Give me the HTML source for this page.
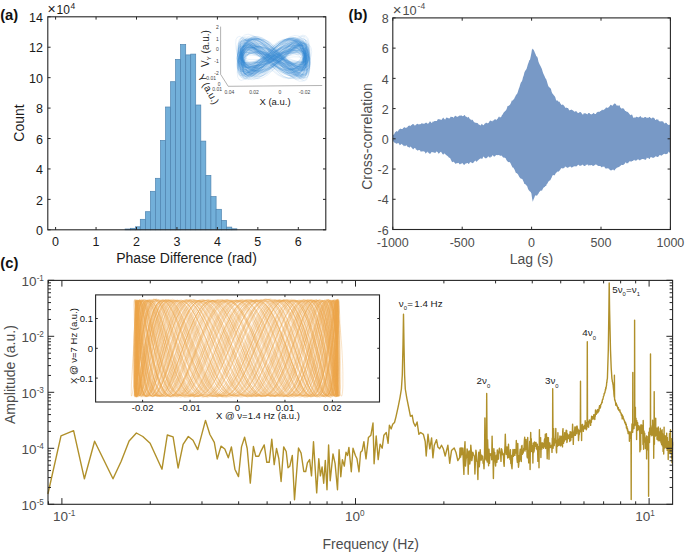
<!DOCTYPE html>
<html><head><meta charset="utf-8"><style>html,body{margin:0;padding:0;background:#fff;overflow:hidden}svg{display:block}</style></head>
<body><svg width="685" height="553" viewBox="0 0 685 553" font-family="Liberation Sans, sans-serif"><rect x="125.10" y="229.00" width="5.30" height="0.80" fill="#72afd9" stroke="#4f84b0" stroke-width="0.7"/>
<rect x="130.40" y="228.30" width="5.00" height="1.50" fill="#72afd9" stroke="#4f84b0" stroke-width="0.7"/>
<rect x="135.40" y="226.80" width="4.90" height="3.00" fill="#72afd9" stroke="#4f84b0" stroke-width="0.7"/>
<rect x="140.30" y="219.30" width="5.10" height="10.50" fill="#72afd9" stroke="#4f84b0" stroke-width="0.7"/>
<rect x="145.40" y="211.70" width="5.00" height="18.10" fill="#72afd9" stroke="#4f84b0" stroke-width="0.7"/>
<rect x="150.40" y="191.30" width="5.10" height="38.50" fill="#72afd9" stroke="#4f84b0" stroke-width="0.7"/>
<rect x="155.50" y="178.30" width="5.00" height="51.50" fill="#72afd9" stroke="#4f84b0" stroke-width="0.7"/>
<rect x="160.50" y="140.40" width="5.10" height="89.40" fill="#72afd9" stroke="#4f84b0" stroke-width="0.7"/>
<rect x="165.60" y="107.00" width="5.00" height="122.80" fill="#72afd9" stroke="#4f84b0" stroke-width="0.7"/>
<rect x="170.60" y="81.70" width="5.00" height="148.10" fill="#72afd9" stroke="#4f84b0" stroke-width="0.7"/>
<rect x="175.60" y="59.40" width="5.00" height="170.40" fill="#72afd9" stroke="#4f84b0" stroke-width="0.7"/>
<rect x="180.60" y="44.50" width="5.10" height="185.30" fill="#72afd9" stroke="#4f84b0" stroke-width="0.7"/>
<rect x="185.70" y="54.90" width="5.00" height="174.90" fill="#72afd9" stroke="#4f84b0" stroke-width="0.7"/>
<rect x="190.70" y="54.10" width="5.00" height="175.70" fill="#72afd9" stroke="#4f84b0" stroke-width="0.7"/>
<rect x="195.70" y="105.00" width="5.10" height="124.80" fill="#72afd9" stroke="#4f84b0" stroke-width="0.7"/>
<rect x="200.80" y="141.10" width="5.00" height="88.70" fill="#72afd9" stroke="#4f84b0" stroke-width="0.7"/>
<rect x="205.80" y="175.40" width="5.10" height="54.40" fill="#72afd9" stroke="#4f84b0" stroke-width="0.7"/>
<rect x="210.90" y="196.60" width="5.20" height="33.20" fill="#72afd9" stroke="#4f84b0" stroke-width="0.7"/>
<rect x="216.10" y="209.30" width="5.30" height="20.50" fill="#72afd9" stroke="#4f84b0" stroke-width="0.7"/>
<rect x="221.40" y="220.40" width="5.10" height="9.40" fill="#72afd9" stroke="#4f84b0" stroke-width="0.7"/>
<rect x="226.50" y="227.10" width="5.30" height="2.70" fill="#72afd9" stroke="#4f84b0" stroke-width="0.7"/>
<rect x="231.80" y="228.80" width="5.10" height="1.00" fill="#72afd9" stroke="#4f84b0" stroke-width="0.7"/>
<rect x="47.8" y="16.8" width="278.0" height="213.0" fill="none" stroke="#262626" stroke-width="1.1"/>
<line x1="55.60" y1="229.80" x2="55.60" y2="227.00" stroke="#262626" stroke-width="1"/>
<line x1="55.60" y1="16.80" x2="55.60" y2="19.60" stroke="#262626" stroke-width="1"/>
<text x="55.60" y="245.80" font-size="12.5" text-anchor="middle" fill="#1a1a1a" >0</text>
<line x1="96.05" y1="229.80" x2="96.05" y2="227.00" stroke="#262626" stroke-width="1"/>
<line x1="96.05" y1="16.80" x2="96.05" y2="19.60" stroke="#262626" stroke-width="1"/>
<text x="96.05" y="245.80" font-size="12.5" text-anchor="middle" fill="#1a1a1a" >1</text>
<line x1="136.50" y1="229.80" x2="136.50" y2="227.00" stroke="#262626" stroke-width="1"/>
<line x1="136.50" y1="16.80" x2="136.50" y2="19.60" stroke="#262626" stroke-width="1"/>
<text x="136.50" y="245.80" font-size="12.5" text-anchor="middle" fill="#1a1a1a" >2</text>
<line x1="176.95" y1="229.80" x2="176.95" y2="227.00" stroke="#262626" stroke-width="1"/>
<line x1="176.95" y1="16.80" x2="176.95" y2="19.60" stroke="#262626" stroke-width="1"/>
<text x="176.95" y="245.80" font-size="12.5" text-anchor="middle" fill="#1a1a1a" >3</text>
<line x1="217.40" y1="229.80" x2="217.40" y2="227.00" stroke="#262626" stroke-width="1"/>
<line x1="217.40" y1="16.80" x2="217.40" y2="19.60" stroke="#262626" stroke-width="1"/>
<text x="217.40" y="245.80" font-size="12.5" text-anchor="middle" fill="#1a1a1a" >4</text>
<line x1="257.85" y1="229.80" x2="257.85" y2="227.00" stroke="#262626" stroke-width="1"/>
<line x1="257.85" y1="16.80" x2="257.85" y2="19.60" stroke="#262626" stroke-width="1"/>
<text x="257.85" y="245.80" font-size="12.5" text-anchor="middle" fill="#1a1a1a" >5</text>
<line x1="298.30" y1="229.80" x2="298.30" y2="227.00" stroke="#262626" stroke-width="1"/>
<line x1="298.30" y1="16.80" x2="298.30" y2="19.60" stroke="#262626" stroke-width="1"/>
<text x="298.30" y="245.80" font-size="12.5" text-anchor="middle" fill="#1a1a1a" >6</text>
<line x1="47.80" y1="229.80" x2="50.60" y2="229.80" stroke="#262626" stroke-width="1"/>
<line x1="325.80" y1="229.80" x2="323.00" y2="229.80" stroke="#262626" stroke-width="1"/>
<text x="43.00" y="235.00" font-size="12.5" text-anchor="end" fill="#1a1a1a" >0</text>
<line x1="47.80" y1="199.37" x2="50.60" y2="199.37" stroke="#262626" stroke-width="1"/>
<line x1="325.80" y1="199.37" x2="323.00" y2="199.37" stroke="#262626" stroke-width="1"/>
<text x="43.00" y="204.57" font-size="12.5" text-anchor="end" fill="#1a1a1a" >2</text>
<line x1="47.80" y1="168.94" x2="50.60" y2="168.94" stroke="#262626" stroke-width="1"/>
<line x1="325.80" y1="168.94" x2="323.00" y2="168.94" stroke="#262626" stroke-width="1"/>
<text x="43.00" y="174.14" font-size="12.5" text-anchor="end" fill="#1a1a1a" >4</text>
<line x1="47.80" y1="138.52" x2="50.60" y2="138.52" stroke="#262626" stroke-width="1"/>
<line x1="325.80" y1="138.52" x2="323.00" y2="138.52" stroke="#262626" stroke-width="1"/>
<text x="43.00" y="143.72" font-size="12.5" text-anchor="end" fill="#1a1a1a" >6</text>
<line x1="47.80" y1="108.09" x2="50.60" y2="108.09" stroke="#262626" stroke-width="1"/>
<line x1="325.80" y1="108.09" x2="323.00" y2="108.09" stroke="#262626" stroke-width="1"/>
<text x="43.00" y="113.29" font-size="12.5" text-anchor="end" fill="#1a1a1a" >8</text>
<line x1="47.80" y1="77.66" x2="50.60" y2="77.66" stroke="#262626" stroke-width="1"/>
<line x1="325.80" y1="77.66" x2="323.00" y2="77.66" stroke="#262626" stroke-width="1"/>
<text x="43.00" y="82.86" font-size="12.5" text-anchor="end" fill="#1a1a1a" >10</text>
<line x1="47.80" y1="47.23" x2="50.60" y2="47.23" stroke="#262626" stroke-width="1"/>
<line x1="325.80" y1="47.23" x2="323.00" y2="47.23" stroke="#262626" stroke-width="1"/>
<text x="43.00" y="52.43" font-size="12.5" text-anchor="end" fill="#1a1a1a" >12</text>
<line x1="47.80" y1="16.80" x2="50.60" y2="16.80" stroke="#262626" stroke-width="1"/>
<line x1="325.80" y1="16.80" x2="323.00" y2="16.80" stroke="#262626" stroke-width="1"/>
<text x="43.00" y="22.00" font-size="12.5" text-anchor="end" fill="#1a1a1a" >14</text>
<text x="47.40" y="13.60" font-size="14" fill="#1a1a1a" >×</text>
<text x="56.60" y="13.80" font-size="12" fill="#1a1a1a" >10</text>
<text x="70.60" y="8.60" font-size="8.5" fill="#1a1a1a" >4</text>
<text x="186.50" y="262.70" font-size="14" text-anchor="middle" fill="#1a1a1a" >Phase Difference (rad)</text>
<text x="23.80" y="123.00" font-size="14" text-anchor="middle" fill="#1a1a1a" transform="rotate(-90 23.8 123)">Count</text>
<text x="0.20" y="19.70" font-size="14.8" fill="#111" font-weight="bold" >(a)</text>
<path d="M274.4 56.1 279.5 53.5 284.4 51.2 289.2 49.6 293.5 48.9 297.4 49 300.7 49.9 303.4 51.7 305.3 54 306.5 56.7 306.9 59.6 306.5 62.2 305.3 64.4 303.4 65.9 300.7 66.7 297.4 66.6 293.5 65.6 289.2 63.9 284.4 61.6 279.5 58.9 274.4 56.1 269.3 53.6 264.3 51.4 259.6 50 255.3 49.3 251.4 49.5 248.1 50.5 245.4 52.4 243.4 54.7 242.2 57.5 241.8 60.3 242.2 62.9 243.4 65.1 245.4 66.6 248.1 67.3 251.4 67.1 255.3 66.1 259.6 64.2 264.3 61.8 269.3 59 274.4 56.1" fill="none" stroke="#3585cf" stroke-width="0.5" stroke-opacity="0.22" stroke-linejoin="round"/>
<path d="M273.7 58.5 279 56.6 284.1 55 289 53.6 293.5 52.6 297.5 52.2 300.9 52.3 303.7 53 305.7 54.3 306.9 55.8 307.3 57.7 306.9 59.5 305.7 61.3 303.7 62.7 300.9 63.7 297.5 64.1 293.5 64 289 63.2 284.1 62 279 60.3 273.7 58.5 268.4 56.6 263.3 54.8 258.4 53.3 253.9 52.2 249.9 51.7 246.5 51.8 243.7 52.5 241.7 53.7 240.5 55.2 240.1 57 240.5 58.9 241.7 60.7 243.7 62.1 246.5 63.2 249.9 63.7 253.9 63.6 258.4 62.9 263.3 61.8 268.4 60.2 273.7 58.5" fill="none" stroke="#3585cf" stroke-width="0.5" stroke-opacity="0.22" stroke-linejoin="round"/>
<path d="M273.7 68.1 278.9 63 283.9 57.4 288.7 52.1 293.2 47.4 297.1 44 300.5 42.1 303.2 41.9 305.2 43.5 306.4 46.8 306.8 51.3 306.4 56.8 305.2 62.6 303.2 68.1 300.5 72.9 297.1 76.4 293.2 78.2 288.7 78.3 283.9 76.5 278.9 73 273.7 68.1 268.5 62.3 263.4 56.2 258.6 50.2 254.2 45 250.3 41.1 246.9 38.7 244.2 38.2 242.2 39.6 241 42.7 240.5 47.2 241 52.7 242.2 58.7 244.2 64.4 246.9 69.5 250.3 73.5 254.2 75.8 258.6 76.4 263.4 75.2 268.5 72.4 273.7 68.1" fill="none" stroke="#3585cf" stroke-width="0.5" stroke-opacity="0.22" stroke-linejoin="round"/>
<path d="M273.2 70 278.3 64.2 283.4 57.8 288.1 51.4 292.5 45.6 296.5 40.9 299.8 37.9 302.5 36.8 304.5 37.7 305.7 40.5 306.1 44.9 305.7 50.6 304.5 56.9 302.5 63.2 299.8 69 296.5 73.6 292.5 76.6 288.1 77.8 283.4 77 278.3 74.3 273.2 70 268 64.6 263 58.5 258.2 52.4 253.8 46.8 249.8 42.4 246.5 39.6 243.8 38.7 241.8 39.7 240.6 42.6 240.2 47.1 240.6 52.7 241.8 58.9 243.8 65.1 246.5 70.7 249.8 75.1 253.8 77.9 258.2 78.8 263 77.7 268 74.7 273.2 70" fill="none" stroke="#3585cf" stroke-width="0.5" stroke-opacity="0.22" stroke-linejoin="round"/>
<path d="M273.7 59.3 278.6 56.5 283.4 53.6 288 51.1 292.2 49.1 296 47.8 299.2 47.3 301.8 47.7 303.7 48.8 304.8 50.7 305.2 53 304.8 55.6 303.7 58.2 301.8 60.5 299.2 62.4 296 63.7 292.2 64.2 288 64 283.4 63 278.6 61.4 273.7 59.3 268.8 57.1 264 54.8 259.4 52.9 255.2 51.4 251.4 50.6 248.2 50.5 245.6 51.2 243.7 52.6 242.6 54.5 242.2 56.9 242.6 59.5 243.7 61.9 245.6 64 248.2 65.6 251.4 66.5 255.2 66.5 259.4 65.7 264 64.2 268.8 62 273.7 59.3" fill="none" stroke="#3585cf" stroke-width="0.5" stroke-opacity="0.22" stroke-linejoin="round"/>
<path d="M272.9 67 278.1 62.7 283.1 58 287.8 53.3 292.2 49 296.2 45.7 299.5 43.6 302.2 43 304.2 43.8 305.4 46.1 305.8 49.6 305.4 54 304.2 58.7 302.2 63.5 299.5 67.7 296.2 71.1 292.2 73.1 287.8 73.8 283.1 72.9 278.1 70.5 272.9 67 267.8 62.6 262.8 57.7 258 52.9 253.6 48.6 249.7 45.1 246.4 43 243.7 42.3 241.7 43.1 240.5 45.3 240.1 48.8 240.5 53.2 241.7 58 243.7 62.8 246.4 67.1 249.7 70.5 253.6 72.7 258 73.4 262.8 72.6 267.8 70.4 272.9 67" fill="none" stroke="#3585cf" stroke-width="0.5" stroke-opacity="0.22" stroke-linejoin="round"/>
<path d="M272.7 60.7 278.2 56.3 283.4 51.9 288.5 48 293.1 45 297.2 43.1 300.8 42.6 303.6 43.4 305.7 45.5 307 48.7 307.4 52.6 307 57 305.7 61.2 303.6 65 300.8 68 297.2 69.9 293.1 70.4 288.5 69.6 283.4 67.6 278.2 64.5 272.7 60.7 267.3 56.6 262 52.5 257 48.8 252.4 46.1 248.3 44.4 244.7 44.1 241.9 45.1 239.8 47.3 238.5 50.6 238.1 54.5 238.5 58.8 239.8 63 241.9 66.7 244.7 69.5 248.3 71.2 252.4 71.5 257 70.5 262 68.2 267.3 64.8 272.7 60.7" fill="none" stroke="#3585cf" stroke-width="0.5" stroke-opacity="0.22" stroke-linejoin="round"/>
<path d="M274.9 54.9 280.3 51.5 285.6 48.5 290.6 46.3 295.3 45 299.4 44.8 303 45.6 305.8 47.4 307.9 50 309.2 53.2 309.6 56.6 309.2 59.9 307.9 62.7 305.8 64.9 303 66.2 299.4 66.4 295.3 65.6 290.6 63.8 285.6 61.3 280.3 58.2 274.9 54.9 269.4 51.7 264.1 48.9 259.1 46.8 254.4 45.7 250.3 45.6 246.7 46.5 243.9 48.4 241.8 51.1 240.5 54.3 240.1 57.7 240.5 61 241.8 63.8 243.9 65.9 246.7 67.1 250.3 67.2 254.4 66.3 259.1 64.3 264.1 61.6 269.4 58.3 274.9 54.9" fill="none" stroke="#3585cf" stroke-width="0.5" stroke-opacity="0.22" stroke-linejoin="round"/>
<path d="M274.1 50.9 279.6 48.4 284.9 46.9 290 46.5 294.6 47.3 298.8 49.1 302.4 51.8 305.2 55.1 307.3 58.7 308.6 62.3 309 65.5 308.6 67.9 307.3 69.4 305.2 69.9 302.4 69.1 298.8 67.3 294.6 64.6 290 61.3 284.9 57.7 279.6 54.1 274.1 50.9 268.7 48.4 263.3 46.9 258.3 46.5 253.6 47.2 249.4 49 245.9 51.7 243 55 240.9 58.6 239.6 62.2 239.2 65.4 239.6 67.8 240.9 69.4 243 69.8 245.9 69 249.4 67.3 253.6 64.6 258.3 61.3 263.3 57.6 268.7 54.1 274.1 50.9" fill="none" stroke="#3585cf" stroke-width="0.5" stroke-opacity="0.22" stroke-linejoin="round"/>
<path d="M273 56.3 278.3 54.2 283.4 52.4 288.3 51.1 292.7 50.4 296.7 50.3 300.2 50.8 302.9 51.8 304.9 53.3 306.1 55.1 306.6 56.9 306.1 58.7 304.9 60.2 302.9 61.3 300.2 62 296.7 62 292.7 61.6 288.3 60.6 283.4 59.3 278.3 57.8 273 56.3 267.8 54.9 262.7 53.8 257.8 53.1 253.3 52.9 249.3 53.3 245.9 54.3 243.2 55.7 241.2 57.4 239.9 59.4 239.5 61.3 239.9 63 241.2 64.4 243.2 65.2 245.9 65.5 249.3 65.1 253.3 64.1 257.8 62.6 262.7 60.7 267.8 58.5 273 56.3" fill="none" stroke="#3585cf" stroke-width="0.5" stroke-opacity="0.22" stroke-linejoin="round"/>
<path d="M272.6 53.7 278.2 49.8 283.7 46.5 288.9 44.2 293.7 43 297.9 43 301.6 44.3 304.5 46.6 306.6 49.7 308 53.3 308.4 57 308 60.5 306.6 63.4 304.5 65.4 301.6 66.4 297.9 66.3 293.7 65.1 288.9 63 283.7 60.2 278.2 57 272.6 53.7 267 50.8 261.6 48.5 256.4 47.2 251.6 46.9 247.3 47.7 243.7 49.6 240.8 52.4 238.6 55.9 237.3 59.8 236.9 63.6 237.3 67 238.6 69.6 240.8 71.3 243.7 71.8 247.3 71 251.6 69 256.4 66 261.6 62.2 267 58 272.6 53.7" fill="none" stroke="#3585cf" stroke-width="0.5" stroke-opacity="0.22" stroke-linejoin="round"/>
<path d="M273.9 55.5 279.6 51.4 285.1 48.1 290.3 45.9 295.2 44.9 299.5 45.4 303.2 47.2 306.2 50.2 308.3 54.1 309.6 58.6 310.1 63.1 309.6 67.3 308.3 70.7 306.2 73.1 303.2 74.1 299.5 73.6 295.2 71.8 290.3 68.7 285.1 64.7 279.6 60.1 273.9 55.5 268.3 51.1 262.7 47.5 257.5 44.9 252.7 43.7 248.3 43.9 244.6 45.5 241.7 48.3 239.5 52.1 238.2 56.5 237.7 61 238.2 65.2 239.5 68.7 241.7 71.2 244.6 72.4 248.3 72.1 252.7 70.5 257.5 67.8 262.7 64.1 268.3 59.8 273.9 55.5" fill="none" stroke="#3585cf" stroke-width="0.5" stroke-opacity="0.22" stroke-linejoin="round"/>
<path d="M273.3 49.5 278.7 44.2 284 40.3 289 38.2 293.6 38 297.7 39.9 301.2 43.5 304 48.6 306.1 54.6 307.3 61 307.8 67.1 307.3 72.3 306.1 76.2 304 78.3 301.2 78.5 297.7 76.6 293.6 73 289 67.9 284 61.9 278.7 55.6 273.3 49.5 267.9 44.3 262.7 40.4 257.7 38.3 253.1 38.2 249 40.1 245.5 43.8 242.6 48.9 240.6 54.9 239.3 61.3 238.9 67.5 239.3 72.7 240.6 76.6 242.6 78.6 245.5 78.8 249 76.9 253.1 73.2 257.7 68.1 262.7 62 267.9 55.6 273.3 49.5" fill="none" stroke="#3585cf" stroke-width="0.5" stroke-opacity="0.22" stroke-linejoin="round"/>
<path d="M273.4 63.7 278.6 61.1 283.7 58.3 288.5 55.6 293 53.3 296.9 51.5 300.3 50.6 303.1 50.4 305.1 51.2 306.3 52.8 306.7 55.1 306.3 57.8 305.1 60.7 303.1 63.5 300.3 65.9 296.9 67.7 293 68.6 288.5 68.7 283.7 67.8 278.6 66.1 273.4 63.7 268.1 60.8 263 57.7 258.2 54.7 253.7 52.1 249.8 50.1 246.4 48.9 243.6 48.6 241.6 49.3 240.4 50.8 240 53 240.4 55.8 241.6 58.8 243.6 61.7 246.4 64.2 249.8 66.2 253.7 67.4 258.2 67.8 263 67.2 268.1 65.8 273.4 63.7" fill="none" stroke="#3585cf" stroke-width="0.5" stroke-opacity="0.22" stroke-linejoin="round"/>
<path d="M273.7 59 278.6 55.3 283.4 51.8 288 48.7 292.2 46.5 295.9 45.2 299.1 45 301.7 46 303.6 47.9 304.8 50.6 305.1 53.8 304.8 57.3 303.6 60.6 301.7 63.5 299.1 65.6 295.9 66.9 292.2 67.1 288 66.2 283.4 64.5 278.6 62 273.7 59 268.8 55.9 264 52.9 259.5 50.4 255.3 48.7 251.5 47.9 248.3 48.1 245.7 49.3 243.8 51.4 242.7 54.3 242.3 57.6 242.7 61 243.8 64.2 245.7 66.8 248.3 68.7 251.5 69.5 255.3 69.3 259.5 68 264 65.7 268.8 62.6 273.7 59" fill="none" stroke="#3585cf" stroke-width="0.5" stroke-opacity="0.22" stroke-linejoin="round"/>
<path d="M273.8 48.4 279.4 44 284.9 41.1 290.1 39.8 294.9 40.2 299.1 42.5 302.8 46.3 305.7 51.3 307.9 57 309.2 62.9 309.6 68.4 309.2 72.9 307.9 76.1 305.7 77.6 302.8 77.2 299.1 75 294.9 71.2 290.1 66.1 284.9 60.2 279.4 54.1 273.8 48.4 268.2 43.5 262.7 40 257.6 38.1 252.8 38.1 248.5 39.9 244.8 43.3 241.9 48 239.8 53.5 238.4 59.3 238 64.7 238.4 69.3 239.8 72.7 241.9 74.4 244.8 74.3 248.5 72.4 252.8 69.1 257.6 64.5 262.7 59.1 268.2 53.5 273.8 48.4" fill="none" stroke="#3585cf" stroke-width="0.5" stroke-opacity="0.22" stroke-linejoin="round"/>
<path d="M273.8 46.4 278.9 42.2 283.9 39.6 288.7 38.7 293 39.8 297 42.6 300.3 46.9 303 52.4 304.9 58.4 306.1 64.3 306.5 69.7 306.1 73.9 304.9 76.6 303 77.5 300.3 76.4 297 73.6 293 69.3 288.7 63.8 283.9 57.8 278.9 51.8 273.8 46.4 268.7 42.2 263.7 39.5 258.9 38.6 254.5 39.6 250.6 42.4 247.3 46.7 244.6 52.1 242.6 58.1 241.4 64.1 241 69.4 241.4 73.7 242.6 76.3 244.6 77.2 247.3 76.2 250.6 73.4 254.5 69.1 258.9 63.7 263.7 57.7 268.7 51.8 273.8 46.4" fill="none" stroke="#3585cf" stroke-width="0.5" stroke-opacity="0.22" stroke-linejoin="round"/>
<path d="M274.1 63.7 279.3 58.7 284.4 53.8 289.3 49.3 293.8 45.7 297.8 43.3 301.2 42.5 303.9 43.2 305.9 45.4 307.2 48.8 307.6 53.3 307.2 58.2 305.9 63.1 303.9 67.6 301.2 71.2 297.8 73.6 293.8 74.5 289.3 73.8 284.4 71.6 279.3 68.1 274.1 63.7 268.8 58.7 263.7 53.7 258.9 49.2 254.4 45.6 250.4 43.3 247 42.4 244.2 43.1 242.2 45.3 241 48.7 240.6 53.2 241 58.1 242.2 63.1 244.2 67.6 247 71.2 250.4 73.5 254.4 74.4 258.9 73.7 263.7 71.5 268.8 68.1 274.1 63.7" fill="none" stroke="#3585cf" stroke-width="0.5" stroke-opacity="0.22" stroke-linejoin="round"/>
<path d="M273.1 47.4 278.3 43.6 283.3 41.2 288 40.2 292.4 40.7 296.4 42.8 299.7 46.1 302.4 50.3 304.4 55.1 305.6 59.9 306 64.2 305.6 67.7 304.4 70 302.4 70.8 299.7 70.2 296.4 68.1 292.4 64.8 288 60.6 283.3 56 278.3 51.5 273.1 47.4 268 44.2 263 42.3 258.2 41.8 253.9 42.9 249.9 45.3 246.6 49 243.9 53.6 241.9 58.5 240.7 63.5 240.3 67.8 240.7 71.3 241.9 73.4 243.9 74 246.6 73.1 249.9 70.7 253.9 66.9 258.2 62.3 263 57.2 268 52 273.1 47.4" fill="none" stroke="#3585cf" stroke-width="0.5" stroke-opacity="0.22" stroke-linejoin="round"/>
<path d="M272.7 51.2 277.5 45.6 282.3 41.4 286.8 38.8 290.9 38 294.6 39.2 297.8 42.2 300.3 46.7 302.2 52.2 303.3 58.2 303.7 64.1 303.3 69.3 302.2 73.4 300.3 75.8 297.8 76.5 294.6 75.2 290.9 72.3 286.8 67.9 282.3 62.6 277.5 56.8 272.7 51.2 267.8 46.3 263.1 42.6 258.6 40.5 254.5 40.3 250.8 42 247.6 45.4 245.1 50.2 243.2 55.9 242.1 62.1 241.7 68 242.1 73.2 243.2 77.1 245.1 79.3 247.6 79.6 250.8 78 254.5 74.6 258.6 69.7 263.1 63.8 267.8 57.4 272.7 51.2" fill="none" stroke="#3585cf" stroke-width="0.5" stroke-opacity="0.22" stroke-linejoin="round"/>
<path d="M273.3 64.5 278.5 60.7 283.5 56.7 288.3 52.8 292.7 49.3 296.6 46.7 300 45.2 302.7 44.9 304.6 45.9 305.9 48.1 306.3 51.3 305.9 55.2 304.6 59.3 302.7 63.4 300 66.9 296.6 69.5 292.7 71 288.3 71.2 283.5 70.1 278.5 67.8 273.3 64.5 268.2 60.4 263.1 56.1 258.3 51.8 253.9 48.1 250 45.2 246.7 43.5 243.9 43.1 242 44 240.8 46.1 240.4 49.3 240.8 53.2 242 57.4 243.9 61.5 246.7 65.2 250 68.1 253.9 69.8 258.3 70.3 263.1 69.5 268.2 67.5 273.3 64.5" fill="none" stroke="#3585cf" stroke-width="0.5" stroke-opacity="0.22" stroke-linejoin="round"/>
<path d="M273.7 65.4 278.7 61.9 283.5 58 288.1 54.2 292.3 50.7 296.1 47.9 299.3 46.1 301.9 45.5 303.8 46.2 304.9 47.9 305.3 50.7 304.9 54.2 303.8 58.1 301.9 62 299.3 65.4 296.1 68.2 292.3 70 288.1 70.6 283.5 70 278.7 68.2 273.7 65.4 268.8 61.9 264 58 259.4 54.2 255.1 50.7 251.4 47.9 248.2 46.1 245.6 45.5 243.7 46.2 242.5 47.9 242.1 50.7 242.5 54.2 243.7 58.1 245.6 61.9 248.2 65.4 251.4 68.2 255.1 70 259.4 70.6 264 70 268.8 68.2 273.7 65.4" fill="none" stroke="#3585cf" stroke-width="0.5" stroke-opacity="0.22" stroke-linejoin="round"/>
<path d="M274.3 64.8 279.2 61.3 283.9 57.5 288.5 53.6 292.6 50 296.4 47.2 299.6 45.3 302.1 44.6 304 45.1 305.1 46.8 305.5 49.6 305.1 53.1 304 57 302.1 61 299.6 64.6 296.4 67.5 292.6 69.3 288.5 70 283.9 69.4 279.2 67.6 274.3 64.8 269.4 61.1 264.6 57.1 260.1 53 255.9 49.2 252.2 46.2 249 44.1 246.4 43.3 244.6 43.7 243.4 45.4 243 48.2 243.4 51.7 244.6 55.7 246.4 59.7 249 63.4 252.2 66.5 255.9 68.5 260.1 69.4 264.6 69 269.4 67.4 274.3 64.8" fill="none" stroke="#3585cf" stroke-width="0.5" stroke-opacity="0.22" stroke-linejoin="round"/>
<path d="M274 65.6 279.1 61.2 284.1 56.5 288.8 52 293.2 48 297.1 45 300.4 43.1 303.1 42.5 305.1 43.3 306.3 45.3 306.7 48.4 306.3 52.2 305.1 56.4 303.1 60.5 300.4 64.3 297.1 67.2 293.2 69.2 288.8 70 284.1 69.6 279.1 68 274 65.6 268.9 62.5 263.9 59.1 259.1 55.8 254.8 52.9 250.9 50.9 247.5 49.9 244.9 50 242.9 51.2 241.7 53.6 241.3 56.8 241.7 60.5 242.9 64.3 244.9 68 247.5 71.1 250.9 73.2 254.8 74.1 259.1 73.8 263.9 72.2 268.9 69.3 274 65.6" fill="none" stroke="#3585cf" stroke-width="0.5" stroke-opacity="0.22" stroke-linejoin="round"/>
<path d="M274.1 66.1 279.3 61.8 284.4 57.2 289.2 52.7 293.7 48.7 297.7 45.6 301.1 43.7 303.8 43.2 305.8 44.1 307.1 46.3 307.5 49.7 307.1 53.9 305.8 58.5 303.8 63 301.1 67 297.7 70.1 293.7 72 289.2 72.5 284.4 71.6 279.3 69.4 274.1 66.1 268.9 61.9 263.8 57.4 258.9 53 254.5 49 250.5 46 247.1 44.2 244.3 43.7 242.3 44.6 241.1 46.9 240.7 50.3 241.1 54.5 242.3 59 244.3 63.5 247.1 67.4 250.5 70.5 254.5 72.3 258.9 72.8 263.8 71.8 268.9 69.5 274.1 66.1" fill="none" stroke="#3585cf" stroke-width="0.5" stroke-opacity="0.22" stroke-linejoin="round"/>
<path d="M275 53.9 279.9 52.7 284.8 51.9 289.3 51.6 293.6 51.8 297.3 52.6 300.6 53.8 303.2 55.3 305.1 57 306.2 58.7 306.6 60.2 306.2 61.5 305.1 62.2 303.2 62.5 300.6 62.3 297.3 61.5 293.6 60.3 289.3 58.8 284.8 57.1 279.9 55.4 275 53.9 270.1 52.7 265.2 52 260.6 51.7 256.4 52 252.7 52.8 249.4 54.1 246.8 55.6 244.9 57.3 243.8 59 243.4 60.6 243.8 61.8 244.9 62.5 246.8 62.8 249.4 62.5 252.7 61.7 256.4 60.5 260.6 58.9 265.2 57.2 270.1 55.5 275 53.9" fill="none" stroke="#3585cf" stroke-width="0.5" stroke-opacity="0.22" stroke-linejoin="round"/>
<path d="M275.1 57.2 280.4 55.4 285.5 53.8 290.4 52.5 295 51.7 299 51.4 302.5 51.7 305.2 52.6 307.3 53.8 308.5 55.4 308.9 57.2 308.5 58.9 307.3 60.5 305.2 61.7 302.5 62.5 299 62.7 295 62.4 290.4 61.6 285.5 60.4 280.4 58.8 275.1 57.2 269.8 55.5 264.6 54 259.7 52.9 255.2 52.2 251.2 52.1 247.7 52.4 244.9 53.3 242.9 54.7 241.7 56.3 241.2 58 241.7 59.8 242.9 61.3 244.9 62.5 247.7 63.2 251.2 63.3 255.2 62.9 259.7 62 264.6 60.7 269.8 59 275.1 57.2" fill="none" stroke="#3585cf" stroke-width="0.5" stroke-opacity="0.22" stroke-linejoin="round"/>
<path d="M272.9 52.8 278 50.2 283 48.1 287.8 46.9 292.2 46.6 296.1 47.1 299.4 48.6 302.1 50.7 304.1 53.4 305.3 56.3 305.7 59.1 305.3 61.7 304.1 63.6 302.1 64.8 299.4 65.1 296.1 64.5 292.2 63.1 287.8 61 283 58.4 278 55.5 272.9 52.8 267.8 50.3 262.8 48.5 258 47.4 253.6 47.2 249.7 48 246.4 49.5 243.7 51.8 241.7 54.5 240.5 57.4 240.1 60.3 240.5 62.8 241.7 64.7 243.7 65.8 246.4 66.1 249.7 65.3 253.6 63.8 258 61.5 262.8 58.7 267.8 55.7 272.9 52.8" fill="none" stroke="#3585cf" stroke-width="0.5" stroke-opacity="0.22" stroke-linejoin="round"/>
<path d="M275.1 53 280.2 50.5 285.1 48.6 289.9 47.6 294.2 47.6 298.1 48.7 301.4 50.6 304.1 53.3 306 56.4 307.2 59.8 307.6 62.9 307.2 65.6 306 67.6 304.1 68.7 301.4 68.7 298.1 67.7 294.2 65.7 289.9 63 285.1 59.8 280.2 56.3 275.1 53 270 50.1 265 48 260.3 46.7 255.9 46.4 252 47.2 248.7 48.9 246 51.4 244.1 54.5 242.9 57.7 242.5 60.8 242.9 63.6 244.1 65.6 246 66.8 248.7 67 252 66.2 255.9 64.5 260.3 62.1 265 59.1 270 56 275.1 53" fill="none" stroke="#3585cf" stroke-width="0.5" stroke-opacity="0.22" stroke-linejoin="round"/>
<path d="M272.1 57.2 277.6 54 282.9 51.2 288 48.9 292.7 47.6 296.8 47.2 300.4 47.8 303.3 49.4 305.4 51.8 306.7 54.8 307.1 58.1 306.7 61.3 305.4 64.2 303.3 66.5 300.4 67.9 296.8 68.3 292.7 67.6 288 66 282.9 63.6 277.6 60.5 272.1 57.2 266.6 53.9 261.3 51 256.2 48.6 251.6 47.2 247.4 46.7 243.8 47.2 240.9 48.8 238.8 51.2 237.6 54.1 237.1 57.4 237.6 60.7 238.8 63.6 240.9 65.9 243.8 67.3 247.4 67.8 251.6 67.2 256.2 65.7 261.3 63.4 266.6 60.4 272.1 57.2" fill="none" stroke="#3585cf" stroke-width="0.5" stroke-opacity="0.22" stroke-linejoin="round"/>
<path d="M272.8 59.5 277.6 55.5 282.3 51.4 286.8 47.6 290.9 44.6 294.6 42.4 297.7 41.4 300.3 41.6 302.1 43 303.2 45.4 303.6 48.5 303.2 52.1 302.1 55.8 300.3 59.2 297.7 62.1 294.6 64.2 290.9 65.2 286.8 65.2 282.3 64.1 277.6 62.2 272.8 59.5 268 56.5 263.3 53.5 258.8 50.7 254.7 48.6 251 47.3 247.9 47 245.3 47.8 243.5 49.5 242.3 52.1 242 55.3 242.3 58.8 243.5 62.3 245.3 65.3 247.9 67.7 251 69 254.7 69.3 258.8 68.3 263.3 66.3 268 63.2 272.8 59.5" fill="none" stroke="#3585cf" stroke-width="0.5" stroke-opacity="0.22" stroke-linejoin="round"/>
<path d="M274.1 61.5 279.8 55.4 285.4 49.6 290.7 44.6 295.5 40.9 299.9 38.9 303.6 38.8 306.6 40.7 308.8 44.3 310.1 49.3 310.5 55.2 310.1 61.5 308.8 67.4 306.6 72.6 303.6 76.3 299.9 78.3 295.5 78.4 290.7 76.4 285.4 72.7 279.8 67.6 274.1 61.5 268.4 55 262.9 48.8 257.6 43.4 252.7 39.4 248.4 37.1 244.6 36.8 241.7 38.4 239.5 41.8 238.1 46.8 237.7 52.6 238.1 58.9 239.5 65 241.7 70.3 244.6 74.2 248.4 76.5 252.7 76.9 257.6 75.3 262.9 71.9 268.4 67.2 274.1 61.5" fill="none" stroke="#3585cf" stroke-width="0.5" stroke-opacity="0.22" stroke-linejoin="round"/>
<path d="M274.7 55 279.7 51.6 284.6 48.7 289.2 46.6 293.4 45.3 297.2 45.1 300.5 45.9 303.1 47.6 305 50.1 306.2 53 306.6 56.2 306.2 59.2 305 61.8 303.1 63.8 300.5 64.9 297.2 65.1 293.4 64.3 289.2 62.7 284.6 60.4 279.7 57.8 274.7 55 269.8 52.3 264.9 50.1 260.3 48.6 256 48 252.2 48.3 249 49.6 246.4 51.7 244.5 54.4 243.3 57.5 242.9 60.7 243.3 63.7 244.5 66.2 246.4 67.8 249 68.6 252.2 68.3 256 67 260.3 64.8 264.9 61.9 269.8 58.5 274.7 55" fill="none" stroke="#3585cf" stroke-width="0.5" stroke-opacity="0.22" stroke-linejoin="round"/>
<path d="M273.6 57.1 279.2 54.7 284.6 52.7 289.7 51.2 294.4 50.4 298.6 50.4 302.2 51.1 305.1 52.4 307.3 54.3 308.5 56.5 309 58.8 308.5 60.9 307.3 62.8 305.1 64.1 302.2 64.8 298.6 64.8 294.4 64.2 289.7 62.9 284.6 61.2 279.2 59.2 273.6 57.1 268.1 55.2 262.7 53.7 257.6 52.7 252.9 52.4 248.7 52.7 245.1 53.8 242.2 55.4 240 57.4 238.8 59.8 238.3 62.1 238.8 64.2 240 65.9 242.2 67.1 245.1 67.5 248.7 67.2 252.9 66.1 257.6 64.4 262.7 62.2 268.1 59.7 273.6 57.1" fill="none" stroke="#3585cf" stroke-width="0.5" stroke-opacity="0.22" stroke-linejoin="round"/>
<path d="M273.7 63.2 279.2 59.1 284.5 54.8 289.6 50.7 294.3 47.3 298.5 44.8 302 43.7 304.9 43.9 307 45.5 308.3 48.3 308.7 52 308.3 56.4 307 60.9 304.9 65.1 302 68.6 298.5 71 294.3 72.2 289.6 71.9 284.5 70.2 279.2 67.2 273.7 63.2 268.2 58.6 262.8 53.9 257.8 49.4 253.1 45.5 248.9 42.8 245.3 41.3 242.5 41.3 240.3 42.7 239.1 45.4 238.6 49.1 239.1 53.5 240.3 58.1 242.5 62.5 245.3 66.2 248.9 69 253.1 70.5 257.8 70.6 262.8 69.3 268.2 66.7 273.7 63.2" fill="none" stroke="#3585cf" stroke-width="0.5" stroke-opacity="0.22" stroke-linejoin="round"/>
<path d="M271.5 49.6 276.6 46.5 281.7 44.4 286.4 43.6 290.9 44.1 294.8 45.9 298.1 48.8 300.9 52.4 302.8 56.5 304 60.7 304.4 64.4 304 67.4 302.8 69.4 300.9 70.1 298.1 69.5 294.8 67.7 290.9 64.9 286.4 61.3 281.7 57.3 276.6 53.2 271.5 49.6 266.3 46.8 261.3 45 256.5 44.5 252.1 45.3 248.2 47.3 244.8 50.4 242.1 54.2 240.1 58.4 238.9 62.6 238.5 66.4 238.9 69.4 240.1 71.3 242.1 71.9 244.8 71.1 248.2 69.1 252.1 66.1 256.5 62.2 261.3 57.9 266.3 53.6 271.5 49.6" fill="none" stroke="#3585cf" stroke-width="0.5" stroke-opacity="0.22" stroke-linejoin="round"/>
<path d="M273.7 52.3 278.6 50.5 283.4 49.4 287.9 49.1 292.1 49.6 295.9 51 299.1 53.1 301.6 55.7 303.5 58.6 304.7 61.4 305.1 64.1 304.7 66.1 303.5 67.5 301.6 68 299.1 67.6 295.9 66.2 292.1 64.1 287.9 61.4 283.4 58.4 278.6 55.2 273.7 52.3 268.7 49.9 264 48.2 259.4 47.3 255.2 47.2 251.5 48.1 248.3 49.8 245.7 52.1 243.8 54.7 242.6 57.4 242.3 60 242.6 62.1 243.8 63.6 245.7 64.4 248.3 64.3 251.5 63.3 255.2 61.7 259.4 59.6 264 57.1 268.7 54.6 273.7 52.3" fill="none" stroke="#3585cf" stroke-width="0.5" stroke-opacity="0.22" stroke-linejoin="round"/>
<path d="M271.5 56.8 276.9 53 282.2 49.6 287.2 47 291.8 45.5 295.9 45.2 299.4 46.1 302.3 48.2 304.3 51.2 305.6 54.8 306 58.8 305.6 62.6 304.3 66 302.3 68.6 299.4 70.2 295.9 70.5 291.8 69.6 287.2 67.5 282.2 64.5 276.9 60.8 271.5 56.8 266.1 52.9 260.9 49.5 255.9 46.8 251.2 45.3 247.1 44.9 243.6 45.7 240.8 47.8 238.7 50.7 237.4 54.4 237 58.3 237.4 62.2 238.7 65.6 240.8 68.2 243.6 69.8 247.1 70.2 251.2 69.3 255.9 67.3 260.9 64.4 266.1 60.7 271.5 56.8" fill="none" stroke="#3585cf" stroke-width="0.5" stroke-opacity="0.22" stroke-linejoin="round"/>
<path d="M274.3 56.6 280 51.9 285.5 47.6 290.8 44.4 295.6 42.5 300 42.2 303.7 43.4 306.7 46.2 308.8 50.2 310.2 55 310.6 60.2 310.2 65.3 308.8 69.8 306.7 73.3 303.7 75.3 300 75.7 295.6 74.4 290.8 71.5 285.5 67.3 280 62.2 274.3 56.6 268.6 51.1 263.1 46.2 257.8 42.3 252.9 39.8 248.6 38.9 244.9 39.6 241.9 42 239.7 45.7 238.4 50.4 238 55.5 238.4 60.7 239.7 65.4 241.9 69.1 244.9 71.5 248.6 72.3 252.9 71.6 257.8 69.4 263.1 65.9 268.6 61.5 274.3 56.6" fill="none" stroke="#3585cf" stroke-width="0.5" stroke-opacity="0.22" stroke-linejoin="round"/>
<path d="M272.4 60.8 277.4 57.7 282.3 54.7 286.9 51.9 291.2 49.8 295 48.6 298.2 48.4 300.8 49.1 302.8 50.9 303.9 53.5 304.3 56.6 303.9 60 302.8 63.3 300.8 66.2 298.2 68.4 295 69.7 291.2 69.9 286.9 69 282.3 67.1 277.4 64.3 272.4 60.8 267.4 57.1 262.6 53.3 257.9 50 253.7 47.3 249.9 45.6 246.6 44.9 244 45.4 242.1 46.9 240.9 49.3 240.5 52.4 240.9 55.8 242.1 59.3 244 62.5 246.6 65 249.9 66.7 253.7 67.4 257.9 67.1 262.6 65.8 267.4 63.6 272.4 60.8" fill="none" stroke="#3585cf" stroke-width="0.5" stroke-opacity="0.22" stroke-linejoin="round"/>
<path d="M274.1 64 279.2 59.6 284.1 55 288.7 50.6 293 46.7 296.9 43.8 300.2 42.1 302.8 41.7 304.7 42.7 305.9 45 306.3 48.4 305.9 52.4 304.7 56.8 302.8 61 300.2 64.8 296.9 67.7 293 69.4 288.7 69.9 284.1 69.1 279.2 67 274.1 64 269.1 60.3 264.2 56.3 259.5 52.5 255.2 49.2 251.4 46.7 248.1 45.4 245.5 45.4 243.5 46.7 242.4 49.1 242 52.5 242.4 56.5 243.5 60.7 245.5 64.7 248.1 68.1 251.4 70.6 255.2 71.9 259.5 71.8 264.2 70.3 269.1 67.7 274.1 64" fill="none" stroke="#3585cf" stroke-width="0.5" stroke-opacity="0.22" stroke-linejoin="round"/>
<path d="M273.8 49 279.4 45.9 284.9 43.7 290.1 42.9 294.9 43.4 299.2 45.1 302.9 48 305.8 51.8 308 56 309.3 60.3 309.7 64.2 309.3 67.4 308 69.5 305.8 70.3 302.9 69.8 299.2 68.1 294.9 65.2 290.1 61.4 284.9 57.2 279.4 52.9 273.8 49 268.2 45.9 262.7 43.7 257.5 42.9 252.6 43.4 248.4 45.2 244.7 48.1 241.8 51.8 239.6 56 238.3 60.3 237.8 64.2 238.3 67.4 239.6 69.5 241.8 70.4 244.7 69.9 248.4 68.1 252.6 65.2 257.5 61.4 262.7 57.2 268.2 52.9 273.8 49" fill="none" stroke="#3585cf" stroke-width="0.5" stroke-opacity="0.22" stroke-linejoin="round"/>
<path d="M273.5 58.1 278.8 56.5 283.9 55 288.8 53.8 293.3 52.9 297.4 52.6 300.8 52.7 303.6 53.4 305.6 54.5 306.8 55.9 307.2 57.5 306.8 59.2 305.6 60.7 303.6 62 300.8 62.8 297.4 63.2 293.3 63 288.8 62.4 283.9 61.2 278.8 59.8 273.5 58.1 268.3 56.4 263.1 54.8 258.2 53.5 253.7 52.6 249.7 52.1 246.3 52.2 243.5 52.8 241.5 53.9 240.2 55.3 239.8 56.9 240.2 58.6 241.5 60.1 243.5 61.4 246.3 62.3 249.7 62.8 253.7 62.7 258.2 62.1 263.1 61.1 268.3 59.7 273.5 58.1" fill="none" stroke="#3585cf" stroke-width="0.5" stroke-opacity="0.22" stroke-linejoin="round"/>
<path d="M273 55.8 278.3 50.7 283.4 46.3 288.2 42.9 292.7 41.1 296.7 40.9 300.1 42.3 302.8 45.4 304.8 49.7 306 54.8 306.5 60.3 306 65.7 304.8 70.3 302.8 73.8 300.1 75.7 296.7 76 292.7 74.5 288.2 71.4 283.4 66.9 278.3 61.5 273 55.8 267.8 50.1 262.7 45.1 257.9 41.3 253.4 39 249.4 38.3 246 39.4 243.2 42.2 241.2 46.2 240 51.3 239.6 56.8 240 62.1 241.2 66.9 243.2 70.6 246 72.8 249.4 73.5 253.4 72.4 257.9 69.7 262.7 65.8 267.8 61 273 55.8" fill="none" stroke="#3585cf" stroke-width="0.5" stroke-opacity="0.22" stroke-linejoin="round"/>
<path d="M272.9 67 278.2 61.6 283.4 55.8 288.3 50.2 292.9 45.2 296.9 41.5 300.4 39.2 303.1 38.7 305.2 40 306.4 43 306.8 47.3 306.4 52.6 305.2 58.3 303.1 63.9 300.4 68.8 296.9 72.6 292.9 74.9 288.3 75.4 283.4 74.1 278.2 71.2 272.9 67 267.6 61.7 262.5 56.1 257.5 50.6 253 45.8 249 42.2 245.5 40 242.7 39.6 240.7 40.9 239.5 43.9 239 48.3 239.5 53.6 240.7 59.2 242.7 64.8 245.5 69.6 249 73.3 253 75.4 257.5 75.8 262.5 74.4 267.6 71.4 272.9 67" fill="none" stroke="#3585cf" stroke-width="0.5" stroke-opacity="0.22" stroke-linejoin="round"/>
<path d="M274.9 52.8 280.1 48.4 285.2 44.9 290.1 42.8 294.6 42.1 298.6 43 302.1 45.4 304.8 48.9 306.8 53.3 308.1 58.2 308.5 63 308.1 67.2 306.8 70.5 304.8 72.6 302.1 73.2 298.6 72.3 294.6 70 290.1 66.5 285.2 62.1 280.1 57.4 274.9 52.8 269.6 48.7 264.5 45.5 259.6 43.7 255.1 43.3 251.1 44.4 247.7 46.9 244.9 50.6 242.9 55.2 241.6 60.1 241.2 64.9 241.6 69.1 242.9 72.4 244.9 74.3 247.7 74.7 251.1 73.6 255.1 71.1 259.6 67.3 264.5 62.7 269.6 57.7 274.9 52.8" fill="none" stroke="#3585cf" stroke-width="0.5" stroke-opacity="0.22" stroke-linejoin="round"/>
<path d="M273.2 56.5 278.5 51.6 283.8 47.2 288.7 43.7 293.3 41.4 297.4 40.5 300.9 41.1 303.7 43.2 305.8 46.4 307 50.5 307.4 55.1 307 59.7 305.8 63.9 303.7 67.3 300.9 69.5 297.4 70.4 293.3 69.8 288.7 67.8 283.8 64.8 278.5 60.9 273.2 56.5 267.8 52.2 262.6 48.4 257.6 45.4 253.1 43.6 249 43.2 245.5 44.2 242.7 46.6 240.6 50 239.4 54.3 239 58.9 239.4 63.5 240.6 67.6 242.7 70.7 245.5 72.6 249 73.1 253.1 72 257.6 69.6 262.6 65.9 267.8 61.4 273.2 56.5" fill="none" stroke="#3585cf" stroke-width="0.5" stroke-opacity="0.22" stroke-linejoin="round"/>
<path d="M273.3 49.5 279 45.2 284.5 42.2 289.7 40.7 294.6 41 298.9 42.9 302.6 46.2 305.5 50.7 307.7 56 309 61.4 309.5 66.4 309 70.6 307.7 73.6 305.5 75 302.6 74.7 298.9 72.8 294.6 69.4 289.7 64.9 284.5 59.8 279 54.4 273.3 49.5 267.7 45.3 262.1 42.5 256.9 41.2 252.1 41.5 247.7 43.6 244.1 47 241.1 51.6 238.9 56.9 237.6 62.3 237.2 67.4 237.6 71.6 238.9 74.5 241.1 75.9 244.1 75.5 247.7 73.5 252.1 70 256.9 65.4 262.1 60.1 267.7 54.6 273.3 49.5" fill="none" stroke="#3585cf" stroke-width="0.5" stroke-opacity="0.22" stroke-linejoin="round"/>
<path d="M273.8 48.8 279.1 43.6 284.2 39.9 289.2 37.9 293.7 37.9 297.8 39.8 301.2 43.4 304 48.4 306 54.3 307.3 60.5 307.7 66.4 307.3 71.5 306 75.1 304 77.1 301.2 77.1 297.8 75.2 293.7 71.6 289.2 66.6 284.2 60.7 279.1 54.6 273.8 48.8 268.5 43.8 263.3 40.3 258.4 38.5 253.8 38.6 249.8 40.6 246.3 44.4 243.5 49.5 241.5 55.5 240.3 61.7 239.8 67.7 240.3 72.7 241.5 76.3 243.5 78.2 246.3 78.1 249.8 76.1 253.8 72.3 258.4 67.2 263.3 61.1 268.5 54.8 273.8 48.8" fill="none" stroke="#3585cf" stroke-width="0.5" stroke-opacity="0.22" stroke-linejoin="round"/>
<path d="M273.6 56.3 278.6 53.7 283.5 51.5 288.2 49.9 292.5 48.9 296.3 48.7 299.6 49.2 302.2 50.4 304.1 52.1 305.3 54.1 305.7 56.3 305.3 58.4 304.1 60.2 302.2 61.5 299.6 62.3 296.3 62.5 292.5 62 288.2 61 283.5 59.6 278.6 58 273.6 56.3 268.6 54.8 263.7 53.6 259.1 52.9 254.8 52.9 250.9 53.4 247.7 54.6 245 56.3 243.1 58.4 241.9 60.7 241.5 63 241.9 65 243.1 66.5 245 67.5 247.7 67.7 250.9 67.2 254.8 66 259.1 64.1 263.7 61.7 268.6 59 273.6 56.3" fill="none" stroke="#3585cf" stroke-width="0.5" stroke-opacity="0.22" stroke-linejoin="round"/>
<path d="M274.5 55 279.5 50.1 284.3 46 288.9 43.3 293.1 42.1 296.8 42.6 300.1 44.7 302.7 48.3 304.5 53 305.7 58.4 306.1 63.9 305.7 69 304.5 73.1 302.7 76 300.1 77.2 296.8 76.7 293.1 74.6 288.9 70.9 284.3 66.1 279.5 60.6 274.5 55 269.6 49.7 264.8 45.4 260.2 42.3 256 40.8 252.2 41 249 43 246.4 46.4 244.5 51 243.4 56.3 243 61.7 243.4 66.8 244.5 71.1 246.4 74 249 75.5 252.2 75.2 256 73.3 260.2 69.9 264.8 65.4 269.6 60.3 274.5 55" fill="none" stroke="#3585cf" stroke-width="0.5" stroke-opacity="0.22" stroke-linejoin="round"/>
<path d="M273.4 59.3 279.1 55.2 284.6 51.4 289.8 48.3 294.7 46.3 299 45.5 302.7 46.1 305.7 47.9 307.8 50.8 309.2 54.5 309.6 58.7 309.2 62.8 307.8 66.6 305.7 69.6 302.7 71.6 299 72.4 294.7 71.8 289.8 70 284.6 67.1 279.1 63.4 273.4 59.3 267.7 55.2 262.2 51.5 256.9 48.5 252.1 46.6 247.8 45.8 244.1 46.5 241.1 48.3 238.9 51.2 237.6 55 237.2 59.1 237.6 63.2 238.9 67 241.1 70 244.1 72 247.8 72.7 252.1 72.1 256.9 70.2 262.2 67.3 267.7 63.5 273.4 59.3" fill="none" stroke="#3585cf" stroke-width="0.5" stroke-opacity="0.22" stroke-linejoin="round"/>
<path d="M273.2 57.7 278.2 53.3 283 49.3 287.6 46.1 291.8 44.1 295.6 43.4 298.8 44.1 301.4 46 303.3 49.1 304.4 53 304.8 57.3 304.4 61.6 303.3 65.5 301.4 68.5 298.8 70.5 295.6 71.2 291.8 70.6 287.6 68.6 283 65.6 278.2 61.9 273.2 57.7 268.3 53.6 263.5 50 258.9 47.1 254.6 45.4 250.9 44.9 247.7 45.8 245.1 47.9 243.2 51.1 242 55.1 241.6 59.4 242 63.7 243.2 67.5 245.1 70.4 247.7 72.2 250.9 72.7 254.6 71.8 258.9 69.6 263.5 66.3 268.3 62.2 273.2 57.7" fill="none" stroke="#3585cf" stroke-width="0.5" stroke-opacity="0.22" stroke-linejoin="round"/>
<path d="M274.7 59.6 279.5 54.8 284.2 50.3 288.6 46.6 292.8 44.1 296.4 42.9 299.6 43.3 302.1 45.1 303.9 48.3 305.1 52.4 305.4 57.2 305.1 62 303.9 66.5 302.1 70.2 299.6 72.8 296.4 73.9 292.8 73.6 288.6 71.7 284.2 68.5 279.5 64.4 274.7 59.6 269.8 54.7 265.2 50.2 260.7 46.5 256.6 43.9 252.9 42.7 249.8 43 247.2 44.9 245.4 48 244.3 52.1 243.9 56.9 244.3 61.7 245.4 66.2 247.2 70 249.8 72.5 252.9 73.7 256.6 73.4 260.7 71.6 265.2 68.4 269.8 64.3 274.7 59.6" fill="none" stroke="#3585cf" stroke-width="0.5" stroke-opacity="0.22" stroke-linejoin="round"/>
<path d="M274.9 66.1 280.3 62 285.5 57.4 290.5 52.9 295.1 48.9 299.2 45.7 302.7 43.7 305.5 43.2 307.5 44 308.8 46.3 309.2 49.7 308.8 53.9 307.5 58.5 305.5 63.1 302.7 67.2 299.2 70.3 295.1 72.3 290.5 72.8 285.5 71.9 280.3 69.6 274.9 66.1 269.5 61.7 264.3 56.9 259.3 52.2 254.7 48 250.6 44.6 247.2 42.5 244.3 41.7 242.3 42.5 241 44.7 240.6 48.1 241 52.3 242.3 57 244.3 61.7 247.2 65.9 250.6 69.2 254.7 71.4 259.3 72.1 264.3 71.4 269.5 69.3 274.9 66.1" fill="none" stroke="#3585cf" stroke-width="0.5" stroke-opacity="0.22" stroke-linejoin="round"/>
<path d="M273.4 55.2 278.5 53.7 283.4 52.6 288.1 52 292.4 52 296.2 52.5 299.5 53.6 302.1 55.1 304.1 56.9 305.2 58.8 305.6 60.7 305.2 62.3 304.1 63.5 302.1 64.2 299.5 64.3 296.2 63.8 292.4 62.7 288.1 61.1 283.4 59.2 278.5 57.2 273.4 55.2 268.4 53.5 263.5 52.1 258.8 51.3 254.5 51 250.7 51.3 247.4 52.2 244.7 53.6 242.8 55.3 241.6 57.2 241.2 59 241.6 60.6 242.8 61.9 244.7 62.7 247.4 62.9 250.7 62.6 254.5 61.7 258.8 60.3 263.5 58.7 268.4 57 273.4 55.2" fill="none" stroke="#3585cf" stroke-width="0.5" stroke-opacity="0.22" stroke-linejoin="round"/>
<path d="M273.5 49.6 278.7 44.8 283.7 41.4 288.5 39.6 292.9 39.7 296.9 41.7 300.3 45.4 303 50.4 305 56.3 306.2 62.5 306.6 68.4 306.2 73.4 305 77.1 303 79 300.3 79 296.9 77.1 292.9 73.4 288.5 68.2 283.7 62.2 278.7 55.8 273.5 49.6 268.3 44.2 263.2 40.2 258.4 37.9 254 37.5 250.1 39 246.7 42.3 244 47 242 52.7 240.8 58.8 240.3 64.6 240.8 69.7 242 73.5 244 75.7 246.7 76 250.1 74.4 254 71.2 258.4 66.5 263.2 61 268.3 55.2 273.5 49.6" fill="none" stroke="#3585cf" stroke-width="0.5" stroke-opacity="0.22" stroke-linejoin="round"/>
<path d="M273 61.7 278.4 59.3 283.7 56.7 288.8 54.1 293.4 51.8 297.6 50 301.1 48.7 304 48.2 306 48.5 307.3 49.6 307.7 51.2 307.3 53.3 306 55.7 304 58.2 301.1 60.4 297.6 62.2 293.4 63.5 288.8 64 283.7 63.9 278.4 63.1 273 61.7 267.6 59.8 262.3 57.7 257.2 55.7 252.6 53.8 248.4 52.3 244.9 51.5 242 51.3 239.9 51.7 238.7 52.9 238.2 54.6 238.7 56.7 239.9 59 242 61.2 244.9 63.1 248.4 64.6 252.6 65.5 257.2 65.6 262.3 64.9 267.6 63.6 273 61.7" fill="none" stroke="#3585cf" stroke-width="0.5" stroke-opacity="0.22" stroke-linejoin="round"/>
<path d="M273.6 53.6 278.5 47.8 283.2 42.9 287.7 39.4 291.9 37.8 295.6 38 298.8 40.1 301.3 44 303.2 49.1 304.3 55.1 304.7 61.4 304.3 67.2 303.2 72.1 301.3 75.6 298.8 77.3 295.6 77.1 291.9 74.9 287.7 71.1 283.2 65.9 278.5 59.8 273.6 53.6 268.7 47.6 264 42.7 259.5 39.1 255.3 37.3 251.6 37.5 248.5 39.6 245.9 43.3 244 48.5 242.9 54.4 242.5 60.6 242.9 66.5 244 71.4 245.9 75 248.5 76.7 251.6 76.6 255.3 74.5 259.5 70.7 264 65.6 268.7 59.7 273.6 53.6" fill="none" stroke="#3585cf" stroke-width="0.5" stroke-opacity="0.22" stroke-linejoin="round"/>
<path d="M273.3 59 278.9 54.4 284.3 49.9 289.5 45.9 294.2 42.9 298.5 41.1 302.1 40.6 305.1 41.6 307.2 43.9 308.5 47.3 309 51.4 308.5 55.8 307.2 60.2 305.1 64 302.1 67 298.5 68.8 294.2 69.2 289.5 68.3 284.3 66.2 278.9 63 273.3 59 267.7 54.8 262.2 50.7 257.1 47.1 252.3 44.5 248 43 244.4 42.8 241.5 44 239.3 46.4 238 49.9 237.6 54 238 58.5 239.3 62.7 241.5 66.4 244.4 69.2 248 70.7 252.3 70.8 257.1 69.6 262.2 67 267.7 63.4 273.3 59" fill="none" stroke="#3585cf" stroke-width="0.5" stroke-opacity="0.22" stroke-linejoin="round"/>
<path d="M273.5 57.7 278.6 55.1 283.5 52.8 288.2 51 292.5 49.9 296.3 49.7 299.6 50.2 302.2 51.5 304.2 53.5 305.4 55.9 305.8 58.6 305.4 61.2 304.2 63.5 302.2 65.3 299.6 66.4 296.3 66.7 292.5 66.1 288.2 64.8 283.5 62.8 278.6 60.4 273.5 57.7 268.5 55 263.6 52.6 258.9 50.8 254.6 49.6 250.7 49.3 247.5 49.8 244.8 51 242.9 53 241.7 55.4 241.3 58 241.7 60.7 242.9 63 244.8 64.8 247.5 66 250.7 66.3 254.6 65.8 258.9 64.6 263.6 62.6 268.5 60.3 273.5 57.7" fill="none" stroke="#3585cf" stroke-width="0.5" stroke-opacity="0.22" stroke-linejoin="round"/>
<path d="M273.7 60.9 278.7 56.9 283.6 53 288.2 49.6 292.4 46.8 296.2 45.1 299.5 44.5 302.1 45.2 304 46.9 305.2 49.7 305.6 53.1 305.2 56.8 304 60.6 302.1 64 299.5 66.6 296.2 68.3 292.4 68.9 288.2 68.4 283.6 66.7 278.7 64.1 273.7 60.9 268.7 57.3 263.9 53.8 259.3 50.7 255 48.4 251.2 47 248 46.6 245.4 47.5 243.4 49.4 242.3 52.3 241.9 55.7 242.3 59.4 243.4 63.1 245.4 66.3 248 68.7 251.2 70.2 255 70.5 259.3 69.5 263.9 67.5 268.7 64.5 273.7 60.9" fill="none" stroke="#3585cf" stroke-width="0.5" stroke-opacity="0.22" stroke-linejoin="round"/>
<path d="M274.1 59.7 279.4 57.1 284.5 54.6 289.3 52.5 293.8 51 297.8 50.2 301.3 50.3 304 51.3 306 53.1 307.3 55.5 307.7 58.3 307.3 61.3 306 64.1 304 66.5 301.3 68.2 297.8 69 293.8 68.8 289.3 67.7 284.5 65.7 279.4 62.9 274.1 59.7 268.9 56.3 263.7 53 258.9 50.1 254.4 47.8 250.4 46.4 246.9 45.9 244.2 46.5 242.2 47.9 240.9 50.2 240.5 52.9 240.9 55.9 242.2 58.9 244.2 61.6 246.9 63.8 250.4 65.1 254.4 65.6 258.9 65.2 263.7 64 268.9 62.1 274.1 59.7" fill="none" stroke="#3585cf" stroke-width="0.5" stroke-opacity="0.22" stroke-linejoin="round"/>
<path d="M273.6 58.3 278.9 55.2 284.1 52.4 289 50.1 293.5 48.5 297.6 47.9 301 48.2 303.8 49.5 305.8 51.6 307.1 54.3 307.5 57.3 307.1 60.3 305.8 63.1 303.8 65.4 301 66.9 297.6 67.5 293.5 67.2 289 66 284.1 63.9 278.9 61.3 273.6 58.3 268.3 55.3 263.2 52.6 258.2 50.3 253.7 48.9 249.7 48.3 246.2 48.8 243.4 50.1 241.4 52.2 240.2 54.9 239.7 57.9 240.2 61 241.4 63.7 243.4 66 246.2 67.4 249.7 68 253.7 67.6 258.2 66.2 263.2 64.1 268.3 61.4 273.6 58.3" fill="none" stroke="#3585cf" stroke-width="0.5" stroke-opacity="0.22" stroke-linejoin="round"/>
<path d="M273.9 57 279.4 52.3 284.9 48 290 44.5 294.7 42.1 299 41.1 302.6 41.5 305.5 43.2 307.6 46.1 308.9 49.9 309.3 54.1 308.9 58.4 307.6 62.4 305.5 65.7 302.6 67.9 299 68.9 294.7 68.6 290 67 284.9 64.3 279.4 60.9 273.9 57 268.4 53.1 263 49.6 257.8 46.9 253.1 45.3 248.8 44.9 245.2 45.8 242.3 48 240.2 51.2 238.9 55.2 238.5 59.5 238.9 63.8 240.2 67.6 242.3 70.5 245.2 72.3 248.8 72.7 253.1 71.8 257.8 69.4 263 66 268.4 61.7 273.9 57" fill="none" stroke="#3585cf" stroke-width="0.5" stroke-opacity="0.22" stroke-linejoin="round"/>
<path d="M273.4 51.7 279.1 48.1 284.7 45.4 290 43.8 294.8 43.4 299.2 44.3 302.9 46.3 305.9 49.3 308.1 52.9 309.4 56.7 309.8 60.4 309.4 63.7 308.1 66.1 305.9 67.5 302.9 67.7 299.2 66.8 294.8 64.8 290 61.9 284.7 58.6 279.1 55 273.4 51.7 267.8 48.9 262.2 46.9 256.9 46 252.1 46.3 247.7 47.8 244 50.4 241 53.7 238.8 57.6 237.5 61.6 237.1 65.4 237.5 68.6 238.8 70.8 241 71.9 244 71.7 247.7 70.3 252.1 67.7 256.9 64.2 262.2 60.1 267.8 55.8 273.4 51.7" fill="none" stroke="#3585cf" stroke-width="0.5" stroke-opacity="0.22" stroke-linejoin="round"/>
<path d="M273.7 65.2 278.9 61.7 283.9 57.7 288.7 53.8 293.1 50.3 297.1 47.5 300.4 45.7 303.1 45.1 305.1 45.8 306.3 47.6 306.7 50.4 306.3 53.9 305.1 57.8 303.1 61.7 300.4 65.2 297.1 68 293.1 69.8 288.7 70.4 283.9 69.8 278.9 68 273.7 65.2 268.5 61.7 263.5 57.8 258.7 53.9 254.3 50.4 250.4 47.6 247 45.8 244.3 45.2 242.3 45.9 241.1 47.7 240.7 50.5 241.1 54 242.3 57.9 244.3 61.8 247 65.4 250.4 68.1 254.3 69.9 258.7 70.5 263.5 69.8 268.5 68 273.7 65.2" fill="none" stroke="#3585cf" stroke-width="0.5" stroke-opacity="0.22" stroke-linejoin="round"/>
<path d="M272.9 55 277.8 52.9 282.7 51.3 287.2 50.3 291.5 50.1 295.2 50.6 298.5 51.8 301.1 53.6 303 55.7 304.1 57.9 304.5 60.1 304.1 62 303 63.4 301.1 64.2 298.5 64.3 295.2 63.8 291.5 62.6 287.2 61 282.7 59 277.8 56.9 272.9 55 267.9 53.4 263.1 52.3 258.5 51.9 254.3 52.1 250.5 53.1 247.3 54.6 244.7 56.6 242.8 58.9 241.7 61.3 241.3 63.5 241.7 65.4 242.8 66.7 244.7 67.3 247.3 67.1 250.5 66.2 254.3 64.6 258.5 62.5 263.1 60.1 267.9 57.5 272.9 55" fill="none" stroke="#3585cf" stroke-width="0.5" stroke-opacity="0.22" stroke-linejoin="round"/>
<path d="M273 60.8 278.1 57.3 283 53.7 287.7 50.6 292 48.1 295.9 46.5 299.2 45.9 301.8 46.4 303.8 48 305 50.4 305.4 53.4 305 56.8 303.8 60.2 301.8 63.2 299.2 65.7 295.9 67.3 292 67.9 287.7 67.4 283 66 278.1 63.7 273 60.8 268 57.6 263.1 54.5 258.4 51.7 254.1 49.5 250.2 48.2 246.9 47.8 244.3 48.5 242.3 50.2 241.1 52.7 240.7 55.8 241.1 59.2 242.3 62.5 244.3 65.4 246.9 67.6 250.2 69 254.1 69.3 258.4 68.5 263.1 66.7 268 64.1 273 60.8" fill="none" stroke="#3585cf" stroke-width="0.5" stroke-opacity="0.22" stroke-linejoin="round"/>
<path d="M273.7 56.3 279.4 50.9 284.9 46.2 290.2 42.7 295 40.8 299.4 40.8 303.1 42.7 306 46.3 308.2 51.4 309.5 57.4 310 63.7 309.5 69.8 308.2 75.1 306 79 303.1 81.1 299.4 81.2 295 79.2 290.2 75.4 284.9 69.9 279.4 63.4 273.7 56.3 268 49.4 262.5 43.3 257.2 38.4 252.4 35.3 248.1 34.2 244.4 35.1 241.4 37.9 239.2 42.4 237.9 48.1 237.4 54.3 237.9 60.5 239.2 66.1 241.4 70.6 244.4 73.5 248.1 74.5 252.4 73.7 257.2 71.1 262.5 67 268 61.9 273.7 56.3" fill="none" stroke="#3585cf" stroke-width="0.5" stroke-opacity="0.22" stroke-linejoin="round"/>
<path d="M272.8 66.4 277.9 62.8 282.9 58.8 287.6 54.6 291.9 50.8 295.8 47.7 299.1 45.5 301.8 44.5 303.7 44.8 304.9 46.3 305.3 48.9 304.9 52.3 303.7 56.3 301.8 60.3 299.1 64.1 295.8 67.2 291.9 69.4 287.6 70.5 282.9 70.3 277.9 68.9 272.8 66.4 267.8 63.2 262.8 59.4 258.1 55.6 253.7 52.1 249.9 49.2 246.6 47.2 243.9 46.4 242 46.8 240.8 48.4 240.4 51.1 240.8 54.5 242 58.4 243.9 62.3 246.6 65.9 249.9 68.8 253.7 70.7 258.1 71.5 262.8 71 267.8 69.2 272.8 66.4" fill="none" stroke="#3585cf" stroke-width="0.5" stroke-opacity="0.22" stroke-linejoin="round"/>
<path d="M273.5 59.8 278.7 58.5 283.9 57.2 288.7 55.9 293.2 55 297.3 54.4 300.7 54.2 303.4 54.5 305.5 55.2 306.7 56.3 307.1 57.6 306.7 59.1 305.5 60.6 303.4 61.8 300.7 62.9 297.3 63.5 293.2 63.6 288.7 63.3 283.9 62.5 278.7 61.3 273.5 59.8 268.2 58.2 263.1 56.6 258.2 55.1 253.7 53.9 249.7 53.1 246.3 52.8 243.5 52.9 241.5 53.5 240.3 54.5 239.9 55.8 240.3 57.3 241.5 58.8 243.5 60.2 246.3 61.4 249.7 62.2 253.7 62.5 258.2 62.5 263.1 61.9 268.2 61 273.5 59.8" fill="none" stroke="#3585cf" stroke-width="0.5" stroke-opacity="0.22" stroke-linejoin="round"/>
<path d="M273.6 60.1 278.4 58 283.2 56 287.6 54.1 291.8 52.6 295.5 51.6 298.6 51.1 301.1 51.3 303 51.9 304.1 53.1 304.5 54.6 304.1 56.4 303 58.1 301.1 59.8 298.6 61.2 295.5 62.1 291.8 62.6 287.6 62.6 283.2 62.2 278.4 61.3 273.6 60.1 268.8 58.8 264.1 57.5 259.6 56.4 255.4 55.6 251.8 55.2 248.6 55.2 246.1 55.8 244.2 56.8 243.1 58.1 242.7 59.7 243.1 61.4 244.2 63 246.1 64.3 248.6 65.3 251.8 65.7 255.4 65.6 259.6 64.9 264.1 63.7 268.8 62.1 273.6 60.1" fill="none" stroke="#3585cf" stroke-width="0.5" stroke-opacity="0.22" stroke-linejoin="round"/>
<path d="M273.3 48.2 278.7 44.1 283.9 41.3 288.9 40.1 293.5 40.5 297.7 42.6 301.2 46.2 304 50.9 306.1 56.3 307.3 61.8 307.8 66.9 307.3 71.1 306.1 74 304 75.4 301.2 75 297.7 72.9 293.5 69.3 288.9 64.5 283.9 59.1 278.7 53.4 273.3 48.2 267.9 43.8 262.6 40.7 257.6 39.2 253 39.4 248.9 41.3 245.3 44.6 242.5 49.2 240.4 54.4 239.2 59.8 238.8 64.9 239.2 69.2 240.4 72.2 242.5 73.6 245.3 73.4 248.9 71.5 253 68.1 257.6 63.6 262.6 58.5 267.9 53.1 273.3 48.2" fill="none" stroke="#3585cf" stroke-width="0.5" stroke-opacity="0.22" stroke-linejoin="round"/>
<path d="M273.4 54.6 279 52.4 284.6 50.8 289.9 49.8 294.8 49.6 299.1 50.3 302.8 51.7 305.8 53.9 308 56.5 309.3 59.3 309.8 62.1 309.3 64.6 308 66.5 305.8 67.7 302.8 68 299.1 67.3 294.8 65.8 289.9 63.6 284.6 60.8 279 57.7 273.4 54.6 267.7 51.8 262.1 49.5 256.8 48 251.9 47.3 247.6 47.5 243.9 48.6 240.9 50.4 238.7 52.8 237.4 55.5 236.9 58.2 237.4 60.8 238.7 62.8 240.9 64.2 243.9 64.8 247.6 64.6 251.9 63.5 256.8 61.8 262.1 59.6 267.7 57.1 273.4 54.6" fill="none" stroke="#3585cf" stroke-width="0.5" stroke-opacity="0.22" stroke-linejoin="round"/>
<path d="M272 50.7 277.4 46.4 282.7 43.2 287.6 41.6 292.2 41.6 296.3 43.3 299.8 46.6 302.6 51.1 304.7 56.4 305.9 62 306.4 67.3 305.9 71.9 304.7 75.3 302.6 77.1 299.8 77.1 296.3 75.4 292.2 72.1 287.6 67.5 282.7 62.1 277.4 56.3 272 50.7 266.7 45.9 261.4 42.2 256.5 40.1 251.9 39.7 247.8 41 244.3 44 241.5 48.2 239.4 53.3 238.1 58.8 237.7 64.1 238.1 68.7 239.4 72.2 241.5 74.2 244.3 74.5 247.8 73.1 251.9 70.2 256.5 66.1 261.4 61.1 266.7 55.8 272 50.7" fill="none" stroke="#3585cf" stroke-width="0.5" stroke-opacity="0.22" stroke-linejoin="round"/>
<path d="M274 48.9 279.2 44.3 284.4 40.9 289.2 39.1 293.7 39.1 297.8 40.9 301.2 44.4 303.9 49.1 306 54.8 307.2 60.7 307.6 66.4 307.2 71.3 306 74.9 303.9 76.9 301.2 77 297.8 75.2 293.7 71.7 289.2 66.9 284.4 61 279.2 54.9 274 48.9 268.7 43.6 263.6 39.7 258.7 37.3 254.2 36.8 250.2 38.1 246.8 41.2 244 45.6 242 51 240.8 56.8 240.4 62.5 240.8 67.4 242 71.1 244 73.3 246.8 73.8 250.2 72.4 254.2 69.4 258.7 65 263.6 59.8 268.7 54.2 274 48.9" fill="none" stroke="#3585cf" stroke-width="0.5" stroke-opacity="0.22" stroke-linejoin="round"/>
<path d="M272.7 64.6 278.2 61.9 283.5 58.8 288.5 55.7 293.1 52.8 297.3 50.6 300.8 49.1 303.7 48.6 305.8 49.1 307 50.5 307.5 52.8 307 55.7 305.8 59 303.7 62.2 300.8 65.1 297.3 67.4 293.1 68.8 288.5 69.3 283.5 68.7 278.2 67.1 272.7 64.6 267.3 61.5 262 58 257 54.6 252.3 51.4 248.2 48.8 244.7 47.1 241.8 46.4 239.7 46.8 238.5 48.1 238 50.4 238.5 53.3 239.7 56.7 241.8 60 244.7 63.1 248.2 65.7 252.3 67.4 257 68.2 262 67.9 267.3 66.7 272.7 64.6" fill="none" stroke="#3585cf" stroke-width="0.5" stroke-opacity="0.22" stroke-linejoin="round"/>
<path d="M272.7 55.3 277.6 49.4 282.4 44.3 286.9 40.4 291.1 38 294.8 37.5 298 38.8 300.6 41.8 302.5 46.3 303.6 51.7 304 57.6 303.6 63.3 302.5 68.3 300.6 72.2 298 74.5 294.8 75 291.1 73.7 286.9 70.7 282.4 66.3 277.6 61 272.7 55.3 267.8 49.6 263.1 44.7 258.5 41 254.3 38.9 250.6 38.6 247.4 40 244.9 43.2 243 47.7 241.8 53.2 241.4 59.1 241.8 64.8 243 69.8 244.9 73.6 247.4 75.7 250.6 76.1 254.3 74.6 258.5 71.4 263.1 66.8 267.8 61.2 272.7 55.3" fill="none" stroke="#3585cf" stroke-width="0.5" stroke-opacity="0.22" stroke-linejoin="round"/>
<path d="M272.7 50.3 277.5 45.3 282.1 41.3 286.6 38.9 290.7 38.2 294.4 39.3 297.5 42 300 46.3 301.8 51.5 303 57.2 303.3 62.9 303 67.9 301.8 71.8 300 74.3 297.5 75 294.4 73.9 290.7 71.1 286.6 66.9 282.1 61.7 277.5 56 272.7 50.3 267.9 45.3 263.2 41.4 258.7 38.9 254.6 38.2 251 39.3 247.8 42.1 245.3 46.3 243.5 51.5 242.4 57.3 242 62.9 242.4 68 243.5 71.9 245.3 74.3 247.8 75.1 251 74 254.6 71.2 258.7 67 263.2 61.7 267.9 56 272.7 50.3" fill="none" stroke="#3585cf" stroke-width="0.5" stroke-opacity="0.22" stroke-linejoin="round"/>
<path d="M273.5 55.7 278.9 53.7 284.2 52.2 289.2 51.2 293.8 50.9 297.9 51.2 301.4 52.2 304.2 53.7 306.3 55.6 307.6 57.8 308 59.9 307.6 61.8 306.3 63.3 304.2 64.3 301.4 64.6 297.9 64.2 293.8 63.3 289.2 61.7 284.2 59.8 278.9 57.8 273.5 55.7 268.1 53.8 262.8 52.4 257.8 51.5 253.2 51.2 249.1 51.6 245.6 52.6 242.7 54.2 240.7 56.2 239.4 58.3 239 60.4 239.4 62.3 240.7 63.8 242.7 64.7 245.6 65 249.1 64.6 253.2 63.6 257.8 62 262.8 60 268.1 57.8 273.5 55.7" fill="none" stroke="#3585cf" stroke-width="0.5" stroke-opacity="0.22" stroke-linejoin="round"/>
<path d="M274.8 45.8 279.8 42.1 284.6 39.7 289.3 39.1 293.5 40.2 297.3 42.9 300.6 47 303.2 52 305.1 57.5 306.3 63 306.6 67.9 306.3 71.6 305.1 74 303.2 74.6 300.6 73.6 297.3 70.8 293.5 66.8 289.3 61.7 284.6 56.2 279.8 50.7 274.8 45.8 269.8 42 264.9 39.7 260.3 39 256.1 40.1 252.3 42.8 249 46.9 246.4 51.9 244.5 57.4 243.3 62.9 242.9 67.7 243.3 71.5 244.5 73.9 246.4 74.5 249 73.5 252.3 70.8 256.1 66.7 260.3 61.6 264.9 56.1 269.8 50.7 274.8 45.8" fill="none" stroke="#3585cf" stroke-width="0.5" stroke-opacity="0.22" stroke-linejoin="round"/>
<path d="M272.6 50.6 277.9 46.1 283 42.6 287.8 40.6 292.3 40.2 296.3 41.5 299.7 44.3 302.5 48.3 304.5 53.3 305.7 58.7 306.1 63.9 305.7 68.5 304.5 72.1 302.5 74.2 299.7 74.6 296.3 73.4 292.3 70.6 287.8 66.4 283 61.4 277.9 55.9 272.6 50.6 267.4 45.8 262.3 42.1 257.5 39.9 253 39.2 249 40.3 245.6 42.9 242.8 46.9 240.8 51.7 239.6 57 239.2 62.3 239.6 66.9 240.8 70.5 242.8 72.7 245.6 73.3 249 72.2 253 69.6 257.5 65.7 262.3 60.9 267.4 55.7 272.6 50.6" fill="none" stroke="#3585cf" stroke-width="0.5" stroke-opacity="0.22" stroke-linejoin="round"/>
<path d="M273.7 62.3 278.7 56.7 283.6 51.3 288.3 46.4 292.6 42.6 296.4 40.2 299.7 39.6 302.4 40.7 304.3 43.4 305.5 47.5 305.9 52.6 305.5 58.1 304.3 63.6 302.4 68.4 299.7 72.2 296.4 74.6 292.6 75.2 288.3 74.2 283.6 71.4 278.7 67.4 273.7 62.3 268.7 56.8 263.8 51.3 259.1 46.5 254.8 42.7 251 40.4 247.7 39.8 245.1 40.9 243.1 43.6 242 47.7 241.6 52.8 242 58.3 243.1 63.8 245.1 68.6 247.7 72.4 251 74.7 254.8 75.4 259.1 74.2 263.8 71.5 268.7 67.4 273.7 62.3" fill="none" stroke="#3585cf" stroke-width="0.5" stroke-opacity="0.22" stroke-linejoin="round"/>
<path d="M273.1 53.8 277.9 50.4 282.7 47.7 287.2 45.8 291.3 44.9 295 45.1 298.2 46.5 300.7 48.7 302.6 51.7 303.7 55.2 304.1 58.7 303.7 62 302.6 64.7 300.7 66.5 298.2 67.4 295 67.1 291.3 65.8 287.2 63.6 282.7 60.6 277.9 57.2 273.1 53.8 268.2 50.6 263.5 48 259 46.2 254.8 45.5 251.1 45.8 248 47.2 245.4 49.6 243.6 52.6 242.4 56.1 242.1 59.7 242.4 62.9 243.6 65.6 245.4 67.4 248 68.2 251.1 67.8 254.8 66.4 259 64 263.5 60.9 268.2 57.4 273.1 53.8" fill="none" stroke="#3585cf" stroke-width="0.5" stroke-opacity="0.22" stroke-linejoin="round"/>
<path d="M274.4 65.3 279.7 61.1 284.7 56.5 289.6 52 294 48.1 298 45.1 301.4 43.4 304.2 43.1 306.2 44.2 307.4 46.5 307.8 50 307.4 54.2 306.2 58.7 304.2 63.1 301.4 67 298 69.9 294 71.7 289.6 72 284.7 71 279.7 68.7 274.4 65.3 269.2 61.3 264.1 56.9 259.3 52.6 254.8 48.9 250.8 46.1 247.4 44.5 244.7 44.3 242.7 45.5 241.5 47.9 241.1 51.4 241.5 55.6 242.7 60 244.7 64.3 247.4 68.1 250.8 70.9 254.8 72.5 259.3 72.7 264.1 71.4 269.2 68.9 274.4 65.3" fill="none" stroke="#3585cf" stroke-width="0.5" stroke-opacity="0.22" stroke-linejoin="round"/>
<path d="M272.1 70.4 277.8 65.3 283.3 59.5 288.6 53.6 293.4 48.2 297.8 43.8 301.5 41 304.5 39.9 306.7 40.7 308 43.3 308.4 47.5 308 52.9 306.7 58.9 304.5 65 301.5 70.5 297.8 74.9 293.4 77.7 288.6 78.7 283.3 77.7 277.8 74.9 272.1 70.4 266.4 64.7 260.8 58.3 255.6 51.9 250.7 45.9 246.3 41.1 242.6 37.8 239.7 36.4 237.5 37 236.1 39.4 235.7 43.6 236.1 49 237.5 55.2 239.7 61.5 242.6 67.3 246.3 72.1 250.7 75.4 255.6 76.9 260.8 76.5 266.4 74.3 272.1 70.4" fill="none" stroke="#3585cf" stroke-width="0.5" stroke-opacity="0.22" stroke-linejoin="round"/>
<path d="M273.3 51.9 278.4 49.9 283.3 48.8 288 48.6 292.3 49.3 296.1 51 299.4 53.5 302 56.5 304 59.8 305.2 63 305.6 65.9 305.2 68.1 304 69.5 302 69.9 299.4 69.3 296.1 67.6 292.3 65.1 288 62 283.3 58.5 278.4 55.1 273.3 51.9 268.3 49.3 263.4 47.5 258.7 46.7 254.4 46.9 250.5 48.1 247.3 50.1 244.6 52.8 242.7 55.9 241.5 58.9 241.1 61.8 241.5 64.1 242.7 65.6 244.6 66.3 247.3 65.9 250.5 64.7 254.4 62.7 258.7 60.1 263.4 57.3 268.3 54.4 273.3 51.9" fill="none" stroke="#3585cf" stroke-width="0.5" stroke-opacity="0.22" stroke-linejoin="round"/>
<path d="M274.5 49.7 279.4 45.9 284.2 43.2 288.8 42 293 42.4 296.8 44.1 300 47.2 302.6 51.2 304.4 55.7 305.6 60.2 306 64.4 305.6 67.8 304.4 70 302.6 70.9 300 70.4 296.8 68.6 293 65.6 288.8 61.8 284.2 57.6 279.4 53.4 274.5 49.7 269.6 46.9 264.8 45.3 260.2 45 256 46.2 252.2 48.8 249 52.5 246.4 57 244.6 61.9 243.4 66.7 243 71 243.4 74.3 244.6 76.3 246.4 76.8 249 75.8 252.2 73.2 256 69.5 260.2 64.8 264.8 59.6 269.6 54.4 274.5 49.7" fill="none" stroke="#3585cf" stroke-width="0.5" stroke-opacity="0.22" stroke-linejoin="round"/>
<path d="M273.4 51.8 278.8 49.3 284.2 47.6 289.2 46.8 293.8 47.1 298 48.4 301.5 50.6 304.4 53.4 306.5 56.7 307.7 60 308.2 63.1 307.7 65.6 306.5 67.3 304.4 68.1 301.5 67.8 298 66.5 293.8 64.3 289.2 61.4 284.2 58.2 278.8 54.9 273.4 51.8 268 49.3 262.7 47.5 257.6 46.8 253 47.1 248.8 48.4 245.3 50.5 242.4 53.4 240.3 56.6 239.1 59.9 238.6 63 239.1 65.5 240.3 67.3 242.4 68 245.3 67.7 248.8 66.4 253 64.3 257.6 61.4 262.7 58.2 268 54.9 273.4 51.8" fill="none" stroke="#3585cf" stroke-width="0.5" stroke-opacity="0.22" stroke-linejoin="round"/>
<path d="M273.4 59 278.2 54.3 282.8 50 287.3 46.4 291.4 43.9 295.1 42.8 298.2 43.1 300.7 44.9 302.5 47.8 303.7 51.8 304 56.3 303.7 60.9 302.5 65.1 300.7 68.7 298.2 71.1 295.1 72.2 291.4 71.9 287.3 70.2 282.8 67.3 278.2 63.4 273.4 59 268.6 54.6 263.9 50.4 259.4 47.1 255.3 44.8 251.7 43.8 248.5 44.3 246 46.2 244.2 49.3 243.1 53.2 242.7 57.7 243.1 62.3 244.2 66.5 246 70 248.5 72.3 251.7 73.3 255.3 72.8 259.4 70.9 263.9 67.7 268.6 63.6 273.4 59" fill="none" stroke="#3585cf" stroke-width="0.5" stroke-opacity="0.22" stroke-linejoin="round"/>
<path d="M274.1 56.2 279.6 54.8 285.1 53.7 290.2 53 295 52.7 299.2 52.9 302.9 53.5 305.8 54.5 307.9 55.8 309.2 57.2 309.6 58.7 309.2 59.9 307.9 61 305.8 61.6 302.9 61.9 299.2 61.7 295 61 290.2 60.1 285.1 58.9 279.6 57.5 274.1 56.2 268.5 55.1 263.1 54.2 257.9 53.7 253.2 53.6 248.9 54 245.3 54.8 242.4 55.9 240.3 57.3 239 58.7 238.5 60.2 239 61.4 240.3 62.4 242.4 63 245.3 63.1 248.9 62.7 253.2 61.9 257.9 60.8 263.1 59.3 268.5 57.8 274.1 56.2" fill="none" stroke="#3585cf" stroke-width="0.5" stroke-opacity="0.22" stroke-linejoin="round"/>
<path d="M273.3 49 279 44.1 284.5 40.5 289.7 38.6 294.5 38.4 298.8 39.9 302.5 43 305.4 47.3 307.6 52.3 308.9 57.5 309.4 62.5 308.9 66.7 307.6 69.7 305.4 71.2 302.5 71.1 298.8 69.5 294.5 66.5 289.7 62.5 284.5 57.9 279 53.2 273.3 49 267.7 45.7 262.2 43.7 256.9 43.2 252.1 44.4 247.8 47.2 244.1 51.3 241.2 56.5 239 62.1 237.7 67.7 237.2 72.8 237.7 76.9 239 79.5 241.2 80.4 244.1 79.5 247.8 76.8 252.1 72.6 256.9 67.2 262.2 61.1 267.7 54.9 273.3 49" fill="none" stroke="#3585cf" stroke-width="0.5" stroke-opacity="0.22" stroke-linejoin="round"/>
<path d="M275.3 58.9 280.7 54.9 285.9 51.3 290.8 48.2 295.4 46.1 299.4 45.2 302.9 45.4 305.7 46.9 307.8 49.5 309 52.9 309.4 56.8 309 60.8 307.8 64.5 305.7 67.6 302.9 69.7 299.4 70.7 295.4 70.4 290.8 68.9 285.9 66.3 280.7 62.8 275.3 58.9 270 54.8 264.8 50.9 259.8 47.7 255.3 45.5 251.2 44.4 247.7 44.6 244.9 46 242.9 48.5 241.6 51.9 241.2 55.7 241.6 59.8 242.9 63.5 244.9 66.7 247.7 68.9 251.2 70 255.3 69.8 259.8 68.4 264.8 66 270 62.7 275.3 58.9" fill="none" stroke="#3585cf" stroke-width="0.5" stroke-opacity="0.22" stroke-linejoin="round"/>
<path d="M274.1 62.9 278.9 57.1 283.7 51.2 288.2 46 292.4 41.9 296.2 39.3 299.3 38.4 301.9 39.4 303.8 42.1 304.9 46.3 305.3 51.6 304.9 57.4 303.8 63.3 301.9 68.5 299.3 72.6 296.2 75.2 292.4 76.1 288.2 75.1 283.7 72.4 278.9 68.2 274.1 62.9 269.2 57.1 264.4 51.4 259.9 46.2 255.7 42.1 252 39.5 248.8 38.7 246.2 39.7 244.3 42.5 243.2 46.7 242.8 52 243.2 57.8 244.3 63.6 246.2 68.8 248.8 72.9 252 75.5 255.7 76.3 259.9 75.3 264.4 72.5 269.2 68.2 274.1 62.9" fill="none" stroke="#3585cf" stroke-width="0.5" stroke-opacity="0.22" stroke-linejoin="round"/>
<path d="M274.5 50.9 279.4 47.8 284.3 45.7 288.9 44.8 293.1 45.2 296.9 46.9 300.2 49.6 302.8 53.1 304.7 57 305.8 60.9 306.2 64.5 305.8 67.4 304.7 69.3 302.8 70 300.2 69.5 296.9 67.8 293.1 65.1 288.9 61.7 284.3 58 279.4 54.2 274.5 50.9 269.5 48.4 264.6 46.8 260 46.5 255.8 47.5 252 49.6 248.8 52.7 246.1 56.5 244.2 60.7 243.1 64.8 242.7 68.4 243.1 71.2 244.2 73 246.1 73.5 248.8 72.6 252 70.5 255.8 67.4 260 63.5 264.6 59.2 269.5 54.8 274.5 50.9" fill="none" stroke="#3585cf" stroke-width="0.5" stroke-opacity="0.22" stroke-linejoin="round"/>
<path d="M272.3 45.8 277.7 41.9 282.9 39.4 287.9 38.8 292.5 40 296.6 43.1 300.1 47.6 302.9 53.3 304.9 59.5 306.2 65.7 306.6 71.2 306.2 75.6 304.9 78.3 302.9 79.2 300.1 78.1 296.6 75.1 292.5 70.5 287.9 64.7 282.9 58.3 277.7 51.8 272.3 45.8 266.9 41 261.7 37.8 256.7 36.4 252.1 36.9 248 39.3 244.5 43.3 241.7 48.6 239.6 54.5 238.4 60.4 237.9 65.9 238.4 70.3 239.6 73.3 241.7 74.5 244.5 73.8 248 71.4 252.1 67.4 256.7 62.3 261.7 56.6 266.9 50.9 272.3 45.8" fill="none" stroke="#3585cf" stroke-width="0.5" stroke-opacity="0.22" stroke-linejoin="round"/>
<path d="M273.9 53.9 279.1 48.8 284.2 44.5 289 41.4 293.5 40 297.4 40.3 300.8 42.4 303.6 45.9 305.6 50.6 306.8 56 307.2 61.7 306.8 66.9 305.6 71.3 303.6 74.3 300.8 75.8 297.4 75.5 293.5 73.4 289 69.9 284.2 65.1 279.1 59.6 273.9 53.9 268.7 48.6 263.6 44.1 258.8 41 254.3 39.4 250.4 39.6 247 41.5 244.2 45 242.2 49.6 241 55 240.6 60.6 241 65.9 242.2 70.3 244.2 73.4 247 74.9 250.4 74.7 254.3 72.8 258.8 69.4 263.6 64.8 268.7 59.5 273.9 53.9" fill="none" stroke="#3585cf" stroke-width="0.5" stroke-opacity="0.22" stroke-linejoin="round"/>
<path d="M273.1 58.5 278.8 55.8 284.3 53.3 289.5 51.3 294.3 50 298.6 49.4 302.3 49.7 305.3 50.8 307.4 52.6 308.8 54.9 309.2 57.5 308.8 60.1 307.4 62.5 305.3 64.5 302.3 65.8 298.6 66.4 294.3 66.1 289.5 65.1 284.3 63.3 278.8 61 273.1 58.5 267.5 55.9 262 53.6 256.8 51.7 251.9 50.4 247.6 49.9 243.9 50.3 241 51.4 238.8 53.2 237.5 55.6 237.1 58.2 237.5 60.8 238.8 63.2 241 65.1 243.9 66.4 247.6 66.9 251.9 66.5 256.8 65.4 262 63.5 267.5 61.1 273.1 58.5" fill="none" stroke="#3585cf" stroke-width="0.5" stroke-opacity="0.22" stroke-linejoin="round"/>
<path d="M271.3 61.5 276.4 56.2 281.3 50.9 285.9 46.2 290.2 42.6 294.1 40.3 297.4 39.6 300 40.5 301.9 43.1 303.1 46.9 303.5 51.7 303.1 56.9 301.9 62.1 300 66.7 297.4 70.3 294.1 72.6 290.2 73.3 285.9 72.4 281.3 69.9 276.4 66.2 271.3 61.5 266.3 56.3 261.4 51.3 256.7 46.7 252.4 43.2 248.6 41.1 245.3 40.5 242.6 41.6 240.7 44.1 239.5 48 239.1 52.8 239.5 58 240.7 63.1 242.6 67.7 245.3 71.3 248.6 73.4 252.4 74 256.7 72.9 261.4 70.3 266.3 66.3 271.3 61.5" fill="none" stroke="#3585cf" stroke-width="0.5" stroke-opacity="0.22" stroke-linejoin="round"/>
<path d="M274.3 60.8 279.2 58.1 284.1 55.3 288.6 52.7 292.9 50.5 296.6 49 299.9 48.4 302.5 48.6 304.4 49.7 305.5 51.6 305.9 54 305.5 56.8 304.4 59.7 302.5 62.4 299.9 64.5 296.6 66 292.9 66.7 288.6 66.4 284.1 65.2 279.2 63.3 274.3 60.8 269.3 57.9 264.5 54.9 259.9 52.1 255.7 49.8 251.9 48.1 248.7 47.3 246.1 47.5 244.2 48.5 243 50.3 242.6 52.8 243 55.6 244.2 58.5 246.1 61.2 248.7 63.5 251.9 65.1 255.7 65.9 259.9 65.8 264.5 64.8 269.3 63.1 274.3 60.8" fill="none" stroke="#3585cf" stroke-width="0.5" stroke-opacity="0.22" stroke-linejoin="round"/>
<path d="M275.2 64.6 280.9 60.5 286.5 56.2 291.8 52.1 296.7 48.5 301 45.8 304.7 44.4 307.7 44.3 309.9 45.6 311.2 48.1 311.7 51.6 311.2 55.8 309.9 60.2 307.7 64.4 304.7 68 301 70.6 296.7 72.1 291.8 72.1 286.5 70.8 280.9 68.2 275.2 64.6 269.5 60.3 263.9 55.7 258.6 51.4 253.8 47.6 249.4 44.8 245.7 43.2 242.7 43 240.5 44.2 239.2 46.6 238.7 50.1 239.2 54.3 240.5 58.8 242.7 63.1 245.7 66.8 249.4 69.6 253.8 71.2 258.6 71.4 263.9 70.3 269.5 68 275.2 64.6" fill="none" stroke="#3585cf" stroke-width="0.5" stroke-opacity="0.22" stroke-linejoin="round"/>
<path d="M273.4 61.3 278.6 59.3 283.5 57.3 288.3 55.4 292.6 54 296.5 53 299.9 52.7 302.5 53.2 304.5 54.3 305.7 55.9 306.1 58 305.7 60.3 304.5 62.6 302.5 64.6 299.9 66.2 296.5 67.2 292.6 67.4 288.3 66.9 283.5 65.6 278.6 63.7 273.4 61.3 268.3 58.7 263.4 56 258.6 53.6 254.3 51.5 250.4 50.1 247 49.4 244.3 49.5 242.4 50.3 241.2 51.8 240.8 53.9 241.2 56.2 242.4 58.6 244.3 60.9 247 62.9 250.4 64.3 254.3 65 258.6 65 263.4 64.3 268.3 63.1 273.4 61.3" fill="none" stroke="#3585cf" stroke-width="0.5" stroke-opacity="0.22" stroke-linejoin="round"/>
<path d="M272.6 56.6 277.8 52.6 282.9 49 287.6 46.3 292.1 44.6 296 44.2 299.4 45.1 302.1 47.3 304.1 50.4 305.3 54.3 305.7 58.6 305.3 62.8 304.1 66.5 302.1 69.3 299.4 71 296 71.5 292.1 70.5 287.6 68.3 282.9 65 277.8 61 272.6 56.6 267.5 52.3 262.4 48.4 257.6 45.3 253.2 43.3 249.2 42.7 245.9 43.4 243.2 45.4 241.2 48.4 240 52.3 239.6 56.5 240 60.7 241.2 64.5 243.2 67.5 245.9 69.3 249.2 70 253.2 69.3 257.6 67.4 262.4 64.4 267.5 60.7 272.6 56.6" fill="none" stroke="#3585cf" stroke-width="0.5" stroke-opacity="0.22" stroke-linejoin="round"/>
<path d="M274.2 51.3 279 48.5 283.8 46.6 288.2 45.8 292.4 46.2 296.1 47.7 299.3 50.1 301.8 53.1 303.7 56.6 304.8 60 305.2 63.1 304.8 65.6 303.7 67.3 301.8 67.9 299.3 67.4 296.1 65.9 292.4 63.5 288.2 60.6 283.8 57.3 279 54.1 274.2 51.3 269.3 49.1 264.6 47.9 260.1 47.8 255.9 48.7 252.2 50.7 249.1 53.5 246.5 56.9 244.7 60.6 243.5 64.2 243.1 67.4 243.5 69.8 244.7 71.3 246.5 71.6 249.1 70.8 252.2 68.9 255.9 66 260.1 62.5 264.6 58.6 269.3 54.8 274.2 51.3" fill="none" stroke="#3585cf" stroke-width="0.5" stroke-opacity="0.22" stroke-linejoin="round"/>
<path d="M272.3 60.8 277.3 57.5 282.2 54.1 286.8 51 291.1 48.6 294.9 47 298.2 46.4 300.8 46.9 302.7 48.4 303.9 50.9 304.3 54 303.9 57.5 302.7 61 300.8 64.1 298.2 66.7 294.9 68.3 291.1 68.9 286.8 68.3 282.2 66.7 277.3 64.1 272.3 60.8 267.3 57.2 262.5 53.5 257.8 50.1 253.6 47.4 249.8 45.5 246.5 44.7 243.9 45.1 242 46.5 240.8 48.9 240.4 52 240.8 55.5 242 59 243.9 62.3 246.5 65 249.8 66.8 253.6 67.7 257.8 67.4 262.5 66 267.3 63.8 272.3 60.8" fill="none" stroke="#3585cf" stroke-width="0.5" stroke-opacity="0.22" stroke-linejoin="round"/>
<path d="M273.7 48.2 279.4 43.4 284.9 40 290.2 38.3 295 38.5 299.3 40.5 303 44.1 306 49 308.2 54.7 309.5 60.6 309.9 66.1 309.5 70.7 308.2 74 306 75.6 303 75.4 299.3 73.4 295 69.8 290.2 64.9 284.9 59.3 279.4 53.6 273.7 48.2 268 43.7 262.5 40.6 257.3 39.2 252.4 39.6 248.1 41.9 244.4 45.7 241.4 50.7 239.2 56.5 237.9 62.5 237.5 68.1 237.9 72.7 239.2 75.9 241.4 77.4 244.4 77 248.1 74.8 252.4 70.9 257.3 65.8 262.5 59.9 268 53.9 273.7 48.2" fill="none" stroke="#3585cf" stroke-width="0.5" stroke-opacity="0.22" stroke-linejoin="round"/>
<path d="M271.9 66.5 277.1 62.6 282.2 58.1 287 53.4 291.5 49.1 295.5 45.7 298.9 43.3 301.6 42.4 303.6 43 304.9 45 305.3 48.3 304.9 52.5 303.6 57.3 301.6 62.2 298.9 66.6 295.5 70.1 291.5 72.4 287 73.2 282.2 72.4 277.1 70.1 271.9 66.5 266.6 61.8 261.5 56.6 256.7 51.2 252.2 46.3 248.2 42.3 244.8 39.4 242.1 38.1 240.1 38.4 238.8 40.2 238.4 43.5 238.8 47.8 240.1 52.7 242.1 57.9 244.8 62.7 248.2 66.7 252.2 69.6 256.7 71 261.5 70.9 266.6 69.4 271.9 66.5" fill="none" stroke="#3585cf" stroke-width="0.5" stroke-opacity="0.22" stroke-linejoin="round"/>
<path d="M273.5 46.3 279.1 42.4 284.5 40.1 289.6 39.5 294.4 40.8 298.6 43.8 302.2 48.3 305.1 53.8 307.2 59.8 308.5 65.7 309 70.9 308.5 75 307.2 77.4 305.1 78.1 302.2 76.9 298.6 73.9 294.4 69.4 289.6 63.8 284.5 57.7 279.1 51.7 273.5 46.3 268 42 262.5 39.3 257.4 38.4 252.6 39.4 248.4 42.1 244.8 46.3 241.9 51.6 239.8 57.4 238.5 63.3 238 68.5 238.5 72.5 239.8 75.1 241.9 75.9 244.8 74.9 248.4 72.2 252.6 67.9 257.4 62.7 262.5 57 268 51.3 273.5 46.3" fill="none" stroke="#3585cf" stroke-width="0.5" stroke-opacity="0.22" stroke-linejoin="round"/>
<path d="M274.3 50.7 279.7 44.8 285 40 290 36.8 294.7 35.5 298.8 36.1 302.3 38.7 305.2 42.9 307.2 48.3 308.5 54.4 308.9 60.5 308.5 66.1 307.2 70.6 305.2 73.6 302.3 74.8 298.8 74.1 294.7 71.6 290 67.5 285 62.3 279.7 56.5 274.3 50.7 268.9 45.5 263.6 41.4 258.6 38.9 253.9 38.2 249.8 39.5 246.3 42.5 243.4 47.1 241.4 52.8 240.1 59 239.7 65.2 240.1 70.8 241.4 75.1 243.4 77.8 246.3 78.6 249.8 77.4 253.9 74.3 258.6 69.6 263.6 63.7 268.9 57.2 274.3 50.7" fill="none" stroke="#3585cf" stroke-width="0.5" stroke-opacity="0.22" stroke-linejoin="round"/>
<path d="M273.6 66.4 278.8 62.4 283.9 57.9 288.7 53.4 293.2 49.3 297.2 46.1 300.6 44 303.3 43.4 305.3 44.2 306.5 46.4 306.9 49.8 306.5 54.1 305.3 58.8 303.3 63.5 300.6 67.7 297.2 70.9 293.2 73 288.7 73.5 283.9 72.5 278.8 70.1 273.6 66.4 268.4 61.7 263.3 56.6 258.5 51.5 254 46.9 250 43.1 246.7 40.6 243.9 39.6 241.9 40.2 240.7 42.2 240.3 45.6 240.7 49.9 241.9 54.8 243.9 59.7 246.7 64.3 250 68 254 70.5 258.5 71.6 263.3 71.2 268.4 69.4 273.6 66.4" fill="none" stroke="#3585cf" stroke-width="0.5" stroke-opacity="0.22" stroke-linejoin="round"/>
<path d="M272.9 59.7 278 56.8 283 53.8 287.7 51.2 292 49 295.9 47.5 299.2 46.8 301.8 46.9 303.8 48 305 49.7 305.4 52 305 54.6 303.8 57.3 301.8 59.9 299.2 62 295.9 63.4 292 64.2 287.7 64.1 283 63.2 278 61.7 272.9 59.7 267.9 57.4 262.9 55 258.2 52.9 253.9 51.2 250 50.1 246.7 49.8 244 50.3 242.1 51.6 240.9 53.4 240.5 55.8 240.9 58.4 242.1 60.9 244 63.2 246.7 65 250 66.1 253.9 66.4 258.2 65.8 262.9 64.4 267.9 62.3 272.9 59.7" fill="none" stroke="#3585cf" stroke-width="0.5" stroke-opacity="0.22" stroke-linejoin="round"/>
<path d="M272.8 57 277.7 54.9 282.5 53 287 51.6 291.2 50.7 295 50.5 298.1 50.9 300.7 52 302.6 53.6 303.7 55.6 304.1 57.8 303.7 59.9 302.6 61.8 300.7 63.3 298.1 64.2 295 64.5 291.2 64 287 62.9 282.5 61.2 277.7 59.2 272.8 57 267.9 54.8 263.1 52.8 258.6 51.2 254.4 50.3 250.7 50 247.5 50.3 244.9 51.4 243 52.9 241.9 54.9 241.5 57.1 241.9 59.3 243 61.2 244.9 62.7 247.5 63.7 250.7 64 254.4 63.6 258.6 62.6 263.1 61 267.9 59.1 272.8 57" fill="none" stroke="#3585cf" stroke-width="0.5" stroke-opacity="0.22" stroke-linejoin="round"/>
<path d="M274.6 59.4 279.4 55.6 284.1 52.1 288.5 49.2 292.6 47.3 296.3 46.4 299.4 46.8 301.9 48.2 303.8 50.7 304.9 53.9 305.3 57.5 304.9 61.2 303.8 64.6 301.9 67.4 299.4 69.3 296.3 70.2 292.6 69.9 288.5 68.4 284.1 66 279.4 62.9 274.6 59.4 269.8 55.8 265.1 52.4 260.6 49.7 256.5 48 252.8 47.2 249.7 47.7 247.2 49.2 245.4 51.7 244.2 55 243.8 58.6 244.2 62.3 245.4 65.7 247.2 68.4 249.7 70.3 252.8 71 256.5 70.5 260.6 69 265.1 66.4 269.8 63.1 274.6 59.4" fill="none" stroke="#3585cf" stroke-width="0.5" stroke-opacity="0.22" stroke-linejoin="round"/>
<path d="M273.5 64.9 279.1 60.4 284.6 55.8 289.8 51.6 294.6 48.1 298.9 45.8 302.5 44.8 305.5 45.2 307.6 47 308.9 50 309.4 53.9 308.9 58.4 307.6 62.9 305.5 67.1 302.5 70.5 298.9 72.9 294.6 73.9 289.8 73.5 284.6 71.7 279.1 68.8 273.5 64.9 267.9 60.5 262.5 56.1 257.3 52 252.5 48.6 248.2 46.4 244.6 45.5 241.6 46 239.5 47.8 238.2 50.9 237.7 54.8 238.2 59.2 239.5 63.7 241.6 67.9 244.6 71.2 248.2 73.5 252.5 74.4 257.3 73.9 262.5 72 267.9 68.9 273.5 64.9" fill="none" stroke="#3585cf" stroke-width="0.5" stroke-opacity="0.22" stroke-linejoin="round"/>
<path d="M272.8 53.5 277.7 49.3 282.4 45.9 286.8 43.6 290.9 42.6 294.6 43.1 297.7 44.9 300.3 48 302.1 52 303.3 56.6 303.6 61.2 303.3 65.5 302.1 69 300.3 71.3 297.7 72.3 294.6 71.9 290.9 70 286.8 66.9 282.4 62.8 277.7 58.2 272.8 53.5 268 49.1 263.3 45.5 258.9 43 254.7 41.9 251.1 42.3 247.9 44 245.4 47 243.6 51 242.4 55.5 242.1 60.1 242.4 64.4 243.6 67.9 245.4 70.3 247.9 71.4 251.1 71 254.7 69.3 258.9 66.3 263.3 62.4 268 58 272.8 53.5" fill="none" stroke="#3585cf" stroke-width="0.5" stroke-opacity="0.22" stroke-linejoin="round"/>
<path d="M274.2 65.1 279.6 58.7 284.9 52.2 289.9 46.2 294.5 41.2 298.6 37.8 302.2 36.2 305 36.5 307.1 38.8 308.3 42.8 308.8 48.1 308.3 54.1 307.1 60.4 305 66.2 302.2 71 298.6 74.5 294.5 76.1 289.9 75.9 284.9 73.8 279.6 70.1 274.2 65.1 268.8 59.5 263.5 53.7 258.5 48.3 253.9 44 249.8 41 246.3 39.9 243.4 40.6 241.3 43.2 240.1 47.3 239.7 52.7 240.1 58.7 241.3 64.7 243.4 70.3 246.3 74.8 249.8 77.7 253.9 78.8 258.5 78 263.5 75.2 268.8 70.8 274.2 65.1" fill="none" stroke="#3585cf" stroke-width="0.5" stroke-opacity="0.22" stroke-linejoin="round"/>
<path d="M274.1 51 279.1 45.9 283.9 41.9 288.5 39.4 292.8 38.6 296.6 39.6 299.8 42.4 302.4 46.5 304.3 51.7 305.5 57.4 305.9 63.1 305.5 68.2 304.3 72.1 302.4 74.7 299.8 75.4 296.6 74.4 292.8 71.7 288.5 67.6 283.9 62.4 279.1 56.7 274.1 51 269.1 45.9 264.2 41.9 259.6 39.4 255.4 38.7 251.6 39.7 248.3 42.4 245.7 46.6 243.8 51.8 242.7 57.5 242.3 63.1 242.7 68.2 243.8 72.2 245.7 74.7 248.3 75.5 251.6 74.5 255.4 71.8 259.6 67.6 264.2 62.4 269.1 56.7 274.1 51" fill="none" stroke="#3585cf" stroke-width="0.5" stroke-opacity="0.22" stroke-linejoin="round"/>
<path d="M273.6 52.9 279.3 49.8 284.8 47.6 290.1 46.3 294.9 46.3 299.3 47.4 303 49.5 305.9 52.5 308.1 56.1 309.4 59.9 309.9 63.5 309.4 66.6 308.1 68.9 305.9 70.1 303 70.2 299.3 69.1 294.9 66.9 290.1 63.9 284.8 60.4 279.3 56.6 273.6 52.9 267.9 49.8 262.3 47.5 257.1 46.3 252.2 46.2 247.9 47.2 244.2 49.4 241.2 52.3 239 55.9 237.7 59.7 237.2 63.3 237.7 66.4 239 68.7 241.2 69.9 244.2 70 247.9 69 252.2 66.8 257.1 63.8 262.3 60.3 267.9 56.5 273.6 52.9" fill="none" stroke="#3585cf" stroke-width="0.5" stroke-opacity="0.22" stroke-linejoin="round"/>
<path d="M272.8 64 278.5 59.9 284 55.5 289.3 51.4 294.1 48 298.4 45.6 302.1 44.6 305.1 44.9 307.3 46.6 308.6 49.5 309.1 53.3 308.6 57.7 307.3 62.3 305.1 66.5 302.1 70 298.4 72.5 294.1 73.5 289.3 73.1 284 71.3 278.5 68.1 272.8 64 267.2 59.3 261.6 54.4 256.4 49.7 251.5 45.8 247.2 43 243.5 41.6 240.6 41.6 238.4 43 237.1 45.8 236.6 49.6 237.1 54.1 238.4 58.8 240.6 63.2 243.5 67 247.2 69.8 251.5 71.3 256.4 71.4 261.6 70.1 267.2 67.6 272.8 64" fill="none" stroke="#3585cf" stroke-width="0.5" stroke-opacity="0.22" stroke-linejoin="round"/>
<path d="M273.1 67.4 278.5 61.7 283.7 55.6 288.7 49.7 293.4 44.7 297.5 41 301 39 303.8 39 305.9 40.8 307.2 44.4 307.6 49.4 307.2 55.3 305.9 61.5 303.8 67.4 301 72.5 297.5 76.2 293.4 78.2 288.7 78.2 283.7 76.3 278.5 72.6 273.1 67.4 267.7 61.4 262.4 55 257.4 48.9 252.8 43.6 248.6 39.7 245.1 37.5 242.3 37.3 240.2 39 238.9 42.5 238.5 47.5 238.9 53.4 240.2 59.7 242.3 65.8 245.1 71 248.6 74.9 252.8 77.1 257.4 77.3 262.4 75.7 267.7 72.3 273.1 67.4" fill="none" stroke="#3585cf" stroke-width="0.5" stroke-opacity="0.22" stroke-linejoin="round"/>
<path d="M273.4 59.9 278.3 57.5 283 55.2 287.5 53.3 291.6 51.8 295.3 50.9 298.5 50.8 301 51.3 302.9 52.4 304 54 304.4 56 304 58.1 302.9 60.2 301 62 298.5 63.4 295.3 64.2 291.6 64.4 287.5 64 283 63 278.3 61.6 273.4 59.9 268.6 58.1 263.9 56.4 259.4 55 255.2 54.1 251.5 53.7 248.4 53.9 245.8 54.7 244 56 242.8 57.8 242.5 59.8 242.8 61.9 244 63.8 245.8 65.4 248.4 66.5 251.5 66.9 255.2 66.7 259.4 65.8 263.9 64.2 268.6 62.2 273.4 59.9" fill="none" stroke="#3585cf" stroke-width="0.5" stroke-opacity="0.22" stroke-linejoin="round"/>
<path d="M273.3 46.4 278.7 42.2 284.1 39.6 289.1 38.8 293.8 40 298 43.1 301.5 47.8 304.4 53.6 306.5 60.1 307.8 66.5 308.2 72.3 307.8 77 306.5 79.9 304.4 80.9 301.5 79.8 298 76.8 293.8 72 289.1 66.1 284.1 59.4 278.7 52.6 273.3 46.4 267.8 41.4 262.5 37.9 257.4 36.4 252.7 36.9 248.5 39.3 245 43.5 242.1 48.9 240 55 238.7 61.3 238.3 67 238.7 71.7 240 74.8 242.1 76.1 245 75.5 248.5 73 252.7 68.9 257.4 63.6 262.5 57.7 267.8 51.8 273.3 46.4" fill="none" stroke="#3585cf" stroke-width="0.5" stroke-opacity="0.22" stroke-linejoin="round"/>
<path d="M273 60 277.8 54.8 282.5 49.9 287 45.7 291.1 42.7 294.8 41.1 297.9 41.1 300.5 42.8 302.3 45.9 303.4 50.2 303.8 55.2 303.4 60.5 302.3 65.5 300.5 69.8 297.9 72.9 294.8 74.5 291.1 74.4 287 72.7 282.5 69.5 277.8 65.1 273 60 268.2 54.5 263.4 49.3 259 44.8 254.8 41.5 251.2 39.7 248 39.6 245.5 41 243.6 44 242.5 48.2 242.1 53.2 242.5 58.6 243.6 63.6 245.5 68 248 71.3 251.2 73.1 254.8 73.3 259 71.8 263.4 68.9 268.2 64.8 273 60" fill="none" stroke="#3585cf" stroke-width="0.5" stroke-opacity="0.22" stroke-linejoin="round"/>
<path d="M272.3 60.6 277.3 59.6 282.1 58.6 286.7 57.7 290.9 57.1 294.7 56.8 297.9 56.9 300.5 57.3 302.4 58.2 303.6 59.3 304 60.7 303.6 62.1 302.4 63.5 300.5 64.6 297.9 65.4 294.7 65.7 290.9 65.6 286.7 65 282.1 63.9 277.3 62.4 272.3 60.6 267.4 58.7 262.5 56.8 257.9 55.1 253.7 53.7 249.9 52.7 246.7 52.1 244.1 52.1 242.2 52.6 241.1 53.6 240.7 54.9 241.1 56.4 242.2 57.9 244.1 59.4 246.7 60.7 249.9 61.6 253.7 62.2 257.9 62.4 262.5 62.1 267.4 61.5 272.3 60.6" fill="none" stroke="#3585cf" stroke-width="0.5" stroke-opacity="0.22" stroke-linejoin="round"/>
<path d="M274.9 52.4 279.9 48.9 284.8 46.2 289.4 44.7 293.7 44.4 297.5 45.4 300.7 47.5 303.3 50.6 305.3 54.3 306.4 58.2 306.8 62 306.4 65.3 305.3 67.8 303.3 69.2 300.7 69.4 297.5 68.4 293.7 66.3 289.4 63.3 284.8 59.8 279.9 56 274.9 52.4 270 49.4 265.1 47.2 260.5 46.1 256.2 46.2 252.4 47.5 249.2 50 246.6 53.3 244.6 57.2 243.5 61.2 243.1 65.1 243.5 68.3 244.6 70.7 246.6 71.9 249.2 71.9 252.4 70.6 256.2 68.1 260.5 64.7 265.1 60.7 270 56.5 274.9 52.4" fill="none" stroke="#3585cf" stroke-width="0.5" stroke-opacity="0.22" stroke-linejoin="round"/>
<path d="M274 59.9 278.8 55 283.5 50.4 288 46.3 292.1 43.3 295.8 41.5 299 41.2 301.5 42.4 303.4 44.8 304.5 48.4 304.9 52.6 304.5 57.2 303.4 61.6 301.5 65.4 299 68.4 295.8 70.1 292.1 70.4 288 69.4 283.5 67.1 278.8 63.9 274 59.9 269.1 55.7 264.4 51.7 259.9 48.3 255.8 45.9 252.1 44.6 248.9 44.7 246.4 46.2 244.5 48.9 243.4 52.6 243 56.9 243.4 61.5 244.5 65.7 246.4 69.3 248.9 71.9 252.1 73.1 255.8 73 259.9 71.4 264.4 68.5 269.1 64.5 274 59.9" fill="none" stroke="#3585cf" stroke-width="0.5" stroke-opacity="0.22" stroke-linejoin="round"/>
<path d="M274.8 51.9 279.6 48.3 284.3 45.6 288.8 44.1 292.9 43.9 296.6 45 299.7 47.3 302.3 50.6 304.1 54.6 305.2 58.8 305.6 62.9 305.2 66.5 304.1 69.1 302.3 70.6 299.7 70.8 296.6 69.6 292.9 67.3 288.8 64 284.3 60.1 279.6 55.9 274.8 51.9 270 48.4 265.3 45.9 260.8 44.5 256.7 44.4 253 45.6 249.8 48 247.3 51.4 245.5 55.5 244.3 59.7 243.9 63.8 244.3 67.3 245.5 69.9 247.3 71.4 249.8 71.5 253 70.3 256.7 67.8 260.8 64.4 265.3 60.4 270 56 274.8 51.9" fill="none" stroke="#3585cf" stroke-width="0.5" stroke-opacity="0.22" stroke-linejoin="round"/>
<path d="M273.4 55.2 278.3 53.8 283 52.9 287.5 52.7 291.6 53.1 295.3 54.1 298.4 55.6 300.9 57.6 302.8 59.7 303.9 61.9 304.3 63.8 303.9 65.4 302.8 66.4 300.9 66.7 298.4 66.4 295.3 65.4 291.6 63.8 287.5 61.8 283 59.5 278.3 57.3 273.4 55.2 268.6 53.4 263.9 52.2 259.4 51.6 255.3 51.7 251.6 52.5 248.5 53.8 245.9 55.6 244.1 57.6 243 59.6 242.6 61.6 243 63.1 244.1 64.2 245.9 64.7 248.5 64.5 251.6 63.8 255.3 62.5 259.4 60.8 263.9 58.8 268.6 56.9 273.4 55.2" fill="none" stroke="#3585cf" stroke-width="0.5" stroke-opacity="0.22" stroke-linejoin="round"/>
<path d="M273.1 54.2 278.1 48.7 283 44 287.7 40.7 292 39.1 295.9 39.5 299.2 41.7 301.8 45.7 303.7 50.9 304.9 57 305.3 63.3 304.9 69.3 303.7 74.2 301.8 77.7 299.2 79.4 295.9 79.1 292 76.8 287.7 72.8 283 67.3 278.1 60.9 273.1 54.2 268 47.9 263.1 42.4 258.4 38.4 254.1 36.1 250.3 35.9 247 37.6 244.3 41.1 242.4 46.1 241.2 52 240.8 58.2 241.2 64.2 242.4 69.4 244.3 73.2 247 75.3 250.3 75.5 254.1 73.8 258.4 70.4 263.1 65.7 268 60.1 273.1 54.2" fill="none" stroke="#3585cf" stroke-width="0.5" stroke-opacity="0.22" stroke-linejoin="round"/>
<path d="M273.6 63.1 278.6 59.7 283.6 55.8 288.3 51.8 292.7 48.2 296.6 45.2 299.9 43.1 302.5 42.1 304.5 42.3 305.7 43.6 306.1 45.9 305.7 49 304.5 52.6 302.5 56.3 299.9 59.8 296.6 62.8 292.7 64.9 288.3 66.1 283.6 66.1 278.6 65.1 273.6 63.1 268.5 60.5 263.5 57.4 258.8 54.2 254.5 51.2 250.6 48.9 247.3 47.3 244.6 46.7 242.6 47.2 241.5 48.7 241.1 51.1 241.5 54.1 242.6 57.5 244.6 60.9 247.3 64 250.6 66.4 254.5 68 258.8 68.4 263.5 67.7 268.5 65.9 273.6 63.1" fill="none" stroke="#3585cf" stroke-width="0.5" stroke-opacity="0.22" stroke-linejoin="round"/>
<path d="M272.1 59.9 276.9 56.4 281.6 53.2 286.1 50.6 290.2 48.9 293.9 48.1 297 48.4 299.5 49.7 301.4 52 302.5 54.8 302.9 58.1 302.5 61.4 301.4 64.5 299.5 67 297 68.7 293.9 69.5 290.2 69.2 286.1 67.9 281.6 65.8 276.9 63 272.1 59.9 267.3 56.7 262.6 53.8 258.1 51.5 254 50.1 250.3 49.5 247.2 50.1 244.6 51.6 242.8 53.9 241.6 56.9 241.3 60.2 241.6 63.5 242.8 66.5 244.6 68.9 247.2 70.4 250.3 70.9 254 70.4 258.1 68.8 262.6 66.4 267.3 63.3 272.1 59.9" fill="none" stroke="#3585cf" stroke-width="0.5" stroke-opacity="0.22" stroke-linejoin="round"/>
<path d="M271.7 58.8 276.8 55.5 281.8 52.5 286.6 50 291 48.3 294.9 47.6 298.3 47.9 301 49.3 303 51.5 304.2 54.5 304.6 57.8 304.2 61.2 303 64.4 301 67 298.3 68.7 294.9 69.5 291 69.1 286.6 67.7 281.8 65.4 276.8 62.3 271.7 58.8 266.5 55.1 261.5 51.7 256.7 48.9 252.3 46.9 248.4 45.9 245 45.9 242.3 47.1 240.4 49.2 239.2 52.1 238.7 55.4 239.2 58.8 240.4 62.1 242.3 64.8 245 66.8 248.4 67.8 252.3 67.7 256.7 66.6 261.5 64.6 266.5 61.9 271.7 58.8" fill="none" stroke="#3585cf" stroke-width="0.5" stroke-opacity="0.22" stroke-linejoin="round"/>
<path d="M274.8 50.1 280.3 44.9 285.6 40.9 290.7 38.5 295.4 37.8 299.5 39 303.1 41.9 306 46.2 308.1 51.6 309.4 57.3 309.8 63 309.4 68.1 308.1 72 306 74.3 303.1 74.9 299.5 73.7 295.4 70.8 290.7 66.5 285.6 61.3 280.3 55.6 274.8 50.1 269.3 45.2 264 41.5 258.9 39.4 254.3 39 250.1 40.4 246.5 43.5 243.7 48 241.6 53.4 240.3 59.3 239.8 65 240.3 70 241.6 73.8 243.7 76 246.5 76.5 250.1 75.1 254.3 72 258.9 67.4 264 61.9 269.3 55.9 274.8 50.1" fill="none" stroke="#3585cf" stroke-width="0.5" stroke-opacity="0.22" stroke-linejoin="round"/>
<path d="M274 52.9 279.1 49.5 284 46.9 288.7 45.3 293.1 45 297 46 300.3 48.1 302.9 51.2 304.9 54.9 306.1 58.9 306.5 62.8 306.1 66.3 304.9 68.9 302.9 70.4 300.3 70.7 297 69.7 293.1 67.6 288.7 64.6 284 60.8 279.1 56.8 274 52.9 268.9 49.5 263.9 46.9 259.2 45.3 254.8 45 251 46 247.7 48.1 245 51.1 243 54.9 241.8 58.9 241.4 62.8 241.8 66.2 243 68.8 245 70.3 247.7 70.7 251 69.7 254.8 67.6 259.2 64.5 263.9 60.8 268.9 56.8 274 52.9" fill="none" stroke="#3585cf" stroke-width="0.5" stroke-opacity="0.22" stroke-linejoin="round"/>
<path d="M272.9 56.1 277.8 55 282.5 54 287 53.3 291.1 53.1 294.8 53.4 298 54.3 300.6 55.5 302.4 57.2 303.6 59 303.9 60.9 303.6 62.6 302.4 64 300.6 65 298 65.4 294.8 65.2 291.1 64.3 287 62.8 282.5 60.9 277.8 58.6 272.9 56.1 268 53.7 263.3 51.6 258.8 49.8 254.7 48.6 250.9 48 247.8 48 245.2 48.6 243.4 49.8 242.2 51.4 241.9 53.1 242.2 55 243.4 56.7 245.2 58.1 247.8 59.2 250.9 59.7 254.7 59.7 258.8 59.3 263.3 58.5 268 57.4 272.9 56.1" fill="none" stroke="#3585cf" stroke-width="0.5" stroke-opacity="0.22" stroke-linejoin="round"/>
<path d="M273.8 64.4 279.4 57.6 284.9 50.9 290.1 44.8 294.9 39.8 299.1 36.5 302.8 35.1 305.7 35.8 307.9 38.4 309.2 42.8 309.6 48.4 309.2 54.7 307.9 61.1 305.7 67 302.8 71.8 299.1 75.1 294.9 76.5 290.1 76 284.9 73.6 279.4 69.6 273.8 64.4 268.2 58.5 262.7 52.6 257.5 47.3 252.8 43.1 248.5 40.5 244.8 39.7 241.9 40.8 239.7 43.8 238.4 48.3 238 54 238.4 60.3 239.7 66.5 241.9 72 244.8 76.4 248.5 79.1 252.8 79.8 257.5 78.5 262.7 75.3 268.2 70.4 273.8 64.4" fill="none" stroke="#3585cf" stroke-width="0.5" stroke-opacity="0.22" stroke-linejoin="round"/>
<path d="M273.5 58 278.7 54.4 283.8 51 288.6 48.1 293.1 46 297 44.9 300.4 44.9 303.2 45.9 305.2 47.9 306.4 50.6 306.8 53.8 306.4 57.1 305.2 60.3 303.2 63.1 300.4 65.1 297 66.1 293.1 66.2 288.6 65.3 283.8 63.5 278.7 60.9 273.5 58 268.3 54.9 263.2 52 258.4 49.6 254 48 250 47.3 246.6 47.6 243.9 48.9 241.9 51.1 240.7 53.9 240.2 57.2 240.7 60.5 241.9 63.6 243.9 66.1 246.6 67.8 250 68.6 254 68.2 258.4 66.8 263.2 64.5 268.3 61.5 273.5 58" fill="none" stroke="#3585cf" stroke-width="0.5" stroke-opacity="0.22" stroke-linejoin="round"/>
<path d="M274.6 54.3 280.1 48.7 285.4 44.1 290.5 40.9 295.2 39.4 299.4 39.8 302.9 41.9 305.8 45.7 307.9 50.7 309.2 56.5 309.6 62.4 309.2 67.9 307.9 72.4 305.8 75.6 302.9 77 299.4 76.7 295.2 74.5 290.5 70.8 285.4 65.8 280.1 60.2 274.6 54.3 269.1 48.9 263.8 44.5 258.7 41.5 254 40.1 249.8 40.6 246.3 42.9 243.4 46.8 241.3 51.9 240 57.7 239.6 63.6 240 69.1 241.3 73.6 243.4 76.7 246.3 78 249.8 77.5 254 75.2 258.7 71.3 263.8 66.2 269.1 60.3 274.6 54.3" fill="none" stroke="#3585cf" stroke-width="0.5" stroke-opacity="0.22" stroke-linejoin="round"/>
<path d="M274.5 64.9 279.6 59.7 284.6 54.3 289.4 49.3 293.8 45.2 297.7 42.3 301.1 40.9 303.8 41.3 305.7 43.4 306.9 46.9 307.3 51.6 306.9 56.9 305.7 62.4 303.8 67.6 301.1 71.8 297.7 74.7 293.8 76 289.4 75.6 284.6 73.4 279.6 69.7 274.5 64.9 269.4 59.3 264.3 53.6 259.6 48.2 255.2 43.7 251.3 40.5 247.9 38.9 245.2 39.1 243.3 41 242.1 44.5 241.7 49.1 242.1 54.5 243.3 60.1 245.2 65.4 247.9 69.8 251.3 73 255.2 74.6 259.6 74.4 264.3 72.6 269.4 69.3 274.5 64.9" fill="none" stroke="#3585cf" stroke-width="0.5" stroke-opacity="0.22" stroke-linejoin="round"/>
<path d="M273.1 56.2 278.1 50.7 282.9 45.9 287.5 42.4 291.7 40.5 295.4 40.4 298.7 42.2 301.2 45.7 303.1 50.5 304.3 56.2 304.7 62.3 304.3 68.1 303.1 73.1 301.2 76.8 298.7 78.8 295.4 78.9 291.7 77 287.5 73.5 282.9 68.5 278.1 62.5 273.1 56.2 268.2 50.1 263.4 44.7 258.8 40.7 254.6 38.3 250.8 37.8 247.6 39.2 245 42.3 243.1 46.9 242 52.5 241.6 58.6 242 64.4 243.1 69.5 245 73.4 247.6 75.7 250.8 76.2 254.6 74.8 258.8 71.8 263.4 67.3 268.2 61.9 273.1 56.2" fill="none" stroke="#3585cf" stroke-width="0.5" stroke-opacity="0.22" stroke-linejoin="round"/>
<path d="M273.5 54 278.5 48.6 283.3 44.1 288 41 292.3 39.5 296.1 39.8 299.4 41.9 302 45.6 303.9 50.5 305.1 56.1 305.5 61.9 305.1 67.3 303.9 71.8 302 74.9 299.4 76.4 296.1 76.1 292.3 74 288 70.3 283.3 65.4 278.5 59.8 273.5 54 268.4 48.6 263.6 44.1 258.9 41 254.6 39.5 250.8 39.9 247.6 42 244.9 45.7 243 50.6 241.8 56.2 241.4 62 241.8 67.4 243 71.9 244.9 75 247.6 76.5 250.8 76.1 254.6 74 258.9 70.3 263.6 65.4 268.4 59.8 273.5 54" fill="none" stroke="#3585cf" stroke-width="0.5" stroke-opacity="0.22" stroke-linejoin="round"/>
<path d="M273.7 48.9 278.9 44.2 284 40.7 288.9 38.9 293.3 38.9 297.3 40.7 300.7 44.2 303.5 48.9 305.5 54.4 306.7 60.3 307.1 65.8 306.7 70.5 305.5 73.9 303.5 75.7 300.7 75.7 297.3 73.9 293.3 70.5 288.9 65.8 284 60.2 278.9 54.4 273.7 48.9 268.5 44.3 263.4 40.9 258.5 39.1 254 39.2 250.1 41.1 246.6 44.5 243.9 49.3 241.9 54.9 240.7 60.7 240.3 66.3 240.7 71 241.9 74.4 243.9 76.1 246.6 76.1 250.1 74.2 254 70.7 258.5 66 263.4 60.4 268.5 54.5 273.7 48.9" fill="none" stroke="#3585cf" stroke-width="0.5" stroke-opacity="0.22" stroke-linejoin="round"/>
<path d="M273.9 55.9 278.9 49.8 283.7 44.4 288.3 40.4 292.6 38.1 296.4 37.7 299.6 39.4 302.2 42.8 304.1 47.8 305.3 53.7 305.7 60 305.3 66.1 304.1 71.4 302.2 75.4 299.6 77.6 296.4 77.9 292.6 76.3 288.3 72.9 283.7 68 278.9 62.2 273.9 55.9 268.9 50 264.1 44.8 259.5 41 255.2 38.8 251.4 38.7 248.2 40.4 245.6 44 243.7 49 242.5 55 242.1 61.3 242.5 67.4 243.7 72.6 245.6 76.5 248.2 78.7 251.4 78.9 255.2 77.1 259.5 73.5 264.1 68.4 268.9 62.4 273.9 55.9" fill="none" stroke="#3585cf" stroke-width="0.5" stroke-opacity="0.22" stroke-linejoin="round"/>
<path d="M273.8 60.4 279.4 56.3 284.9 52.2 290.1 48.5 294.8 45.5 299.1 43.7 302.7 43.1 305.7 43.8 307.8 45.9 309.1 49 309.6 52.9 309.1 57.3 307.8 61.6 305.7 65.5 302.7 68.5 299.1 70.4 294.8 71 290.1 70.1 284.9 67.9 279.4 64.6 273.8 60.4 268.2 55.7 262.8 51 257.6 46.8 252.8 43.3 248.6 41 244.9 40 242 40.5 239.9 42.3 238.6 45.3 238.1 49.1 238.6 53.5 239.9 58 242 62.1 244.9 65.4 248.6 67.7 252.8 68.7 257.6 68.4 262.8 66.7 268.2 64 273.8 60.4" fill="none" stroke="#3585cf" stroke-width="0.5" stroke-opacity="0.22" stroke-linejoin="round"/>
<path d="M274.2 59.8 279.5 56.7 284.8 53.8 289.7 51.2 294.3 49.3 298.4 48.4 301.9 48.4 304.7 49.4 306.8 51.3 308 53.9 308.4 56.9 308 60.2 306.8 63.3 304.7 65.9 301.9 67.8 298.4 68.8 294.3 68.8 289.7 67.7 284.8 65.8 279.5 63 274.2 59.8 268.8 56.5 263.6 53.2 258.6 50.4 254 48.3 249.9 47.1 246.4 46.9 243.6 47.8 241.6 49.5 240.3 52.1 239.9 55.1 240.3 58.4 241.6 61.6 243.6 64.3 246.4 66.3 249.9 67.5 254 67.7 258.6 66.9 263.6 65.2 268.8 62.8 274.2 59.8" fill="none" stroke="#3585cf" stroke-width="0.5" stroke-opacity="0.22" stroke-linejoin="round"/>
<path d="M273.5 54.3 278.6 49.4 283.5 45.3 288.1 42.4 292.4 41 296.3 41.1 299.5 42.9 302.2 45.9 304.1 50.1 305.3 55 305.7 60 305.3 64.7 304.1 68.7 302.2 71.5 299.5 72.9 296.3 72.7 292.4 71 288.1 68 283.5 63.9 278.6 59.2 273.5 54.3 268.5 49.8 263.6 46 258.9 43.5 254.6 42.3 250.8 42.7 247.5 44.7 244.9 48 243 52.3 241.8 57.2 241.4 62.2 241.8 66.9 243 70.8 244.9 73.5 247.5 74.7 250.8 74.3 254.6 72.3 258.9 69 263.6 64.6 268.5 59.5 273.5 54.3" fill="none" stroke="#3585cf" stroke-width="0.5" stroke-opacity="0.22" stroke-linejoin="round"/>
<path d="M274.6 62.8 279.5 58.8 284.4 54.7 289 50.9 293.2 47.8 297 45.5 300.2 44.3 302.8 44.4 304.8 45.6 305.9 47.9 306.3 51.1 305.9 54.8 304.8 58.6 302.8 62.2 300.2 65.3 297 67.6 293.2 68.8 289 68.8 284.4 67.7 279.5 65.6 274.6 62.8 269.6 59.4 264.8 55.9 260.2 52.7 255.9 50 252.1 48.2 248.9 47.4 246.3 47.8 244.4 49.3 243.2 51.7 242.8 54.9 243.2 58.6 244.4 62.3 246.3 65.7 248.9 68.4 252.1 70.3 255.9 71 260.2 70.6 264.8 68.9 269.6 66.2 274.6 62.8" fill="none" stroke="#3585cf" stroke-width="0.5" stroke-opacity="0.22" stroke-linejoin="round"/>
<path d="M272.4 58.4 277.3 56.1 282 53.9 286.5 52 290.7 50.7 294.4 50 297.5 50.1 300.1 51 301.9 52.5 303.1 54.5 303.4 56.9 303.1 59.3 301.9 61.6 300.1 63.5 297.5 64.9 294.4 65.6 290.7 65.4 286.5 64.5 282 63 277.3 60.9 272.4 58.4 267.6 55.8 262.8 53.4 258.3 51.3 254.2 49.8 250.5 48.9 247.3 48.9 244.8 49.6 242.9 51 241.8 53 241.4 55.3 241.8 57.8 242.9 60.1 244.8 62.2 247.3 63.6 250.5 64.5 254.2 64.5 258.3 63.8 262.8 62.5 267.6 60.6 272.4 58.4" fill="none" stroke="#3585cf" stroke-width="0.5" stroke-opacity="0.22" stroke-linejoin="round"/>
<path d="M273.8 61 279.2 57.4 284.5 53.8 289.5 50.6 294.2 48.2 298.3 46.8 301.8 46.6 304.7 47.6 306.8 49.8 308.1 53 308.5 56.9 308.1 61 306.8 65.1 304.7 68.6 301.8 71.2 298.3 72.7 294.2 72.8 289.5 71.6 284.5 69 279.2 65.4 273.8 61 268.3 56.1 263 51.3 258 47 253.4 43.5 249.2 41.1 245.7 40.1 242.8 40.4 240.7 42.2 239.5 45.1 239 48.8 239.5 53.1 240.7 57.4 242.8 61.4 245.7 64.7 249.2 67 253.4 68.1 258 68 263 66.6 268.3 64.1 273.8 61" fill="none" stroke="#3585cf" stroke-width="0.5" stroke-opacity="0.22" stroke-linejoin="round"/>
<line x1="220.60" y1="26.60" x2="220.60" y2="74.30" stroke="#666" stroke-width="0.5"/>
<line x1="220.60" y1="74.30" x2="228.20" y2="86.30" stroke="#666" stroke-width="0.5"/>
<line x1="228.20" y1="86.30" x2="322.20" y2="85.50" stroke="#666" stroke-width="0.5"/>
<text x="218.80" y="29.00" font-size="5" text-anchor="end" fill="#444" >2</text>
<text x="218.80" y="40.50" font-size="5" text-anchor="end" fill="#444" >1</text>
<text x="218.80" y="51.00" font-size="5" text-anchor="end" fill="#444" >0</text>
<text x="218.80" y="63.00" font-size="5" text-anchor="end" fill="#444" >-1</text>
<text x="218.80" y="74.50" font-size="5" text-anchor="end" fill="#444" >-2</text>
<text x="229.40" y="94.30" font-size="5" text-anchor="middle" fill="#444" >0.04</text>
<text x="254.00" y="94.30" font-size="5" text-anchor="middle" fill="#444" >0.02</text>
<text x="279.80" y="94.30" font-size="5" text-anchor="middle" fill="#444" >0</text>
<text x="304.50" y="94.30" font-size="5" text-anchor="middle" fill="#444" >-0.02</text>
<text x="216.00" y="80.30" font-size="5" text-anchor="end" fill="#444" >0.01</text>
<text x="220.50" y="85.50" font-size="5" text-anchor="end" fill="#444" >0</text>
<text x="222.00" y="91.00" font-size="5" text-anchor="end" fill="#444" >0.01</text>
<text x="275.00" y="105.00" font-size="9.5" text-anchor="middle" fill="#222" >X (a.u.)</text>
<text x="209.00" y="48.50" font-size="10" text-anchor="middle" fill="#222" transform="rotate(-90 209 48.5)">V<tspan font-size="6" dy="2">Y</tspan><tspan dy="-2"> (a.u.)</tspan></text>
<text x="205.50" y="91.00" font-size="10" text-anchor="middle" fill="#222" transform="rotate(61 205.5 91)">Y (a.u.)</text>
<path d="M392.8 134.8 393.5 134.7 394.2 134.3 394.9 132.6 395.6 132 396.3 131.1 397 131.6 397.7 131.5 398.4 130.6 399.1 129.2 399.8 129.2 400.5 128.6 401.2 129.1 401.9 129.1 402.6 128.9 403.3 127.7 404 127.7 404.7 126.9 405.4 128 406.1 127.6 406.8 127.7 407.5 126.9 408.2 126.1 408.9 125.8 409.6 125.5 410.3 126.2 411 125.2 411.7 124.9 412.4 123.9 413.1 124.5 413.8 124.1 414.5 125.4 415.2 125.6 415.9 124.7 416.6 124.2 417.3 123.7 418 124.1 418.7 124.5 419.4 124.2 420.1 124.3 420.8 124 421.5 123.2 422.2 123.6 422.9 123.6 423.6 123.8 424.3 123.7 425 123.2 425.7 122.7 426.4 122.8 427.1 123.1 427.8 124 428.5 123.3 429.2 122.6 429.9 121.3 430.6 121.8 431.3 122.7 432 122.9 432.7 121.6 433.4 121.7 434.1 121.2 434.8 121.1 435.5 121 436.2 120.9 436.9 120.9 437.6 119.6 438.3 119.1 439 119.6 439.7 119.2 440.4 119.4 441.1 119.9 441.8 119.4 442.5 118.4 443.2 117.6 443.9 118.6 444.6 119.2 445.3 119.5 446 118.1 446.7 117.6 447.4 117.7 448.1 118.2 448.8 118.3 449.5 118.5 450.2 117.5 450.9 116.6 451.6 116.9 452.3 117.1 453 117.1 453.7 118 454.4 116.6 455.1 116.1 455.8 115.7 456.5 116.5 457.2 116.9 457.9 116.6 458.6 116.2 459.3 115.4 460 115.8 460.7 115.4 461.4 115.3 462.1 116.3 462.8 116 463.5 116.1 464.2 115 464.9 115.3 465.6 116.5 466.3 116.8 467 116.9 467.7 117.8 468.4 116.7 469.1 117.7 469.8 119 470.5 119.4 471.2 119.6 471.9 120.6 472.6 119.6 473.3 121 474 122 474.7 122.4 475.4 122.8 476.1 122.7 476.8 123 477.5 123.1 478.2 123.7 478.9 124.8 479.6 124.7 480.3 125.4 481 125.1 481.7 123.8 482.4 124.6 483.1 124.9 483.8 125.2 484.5 123.7 485.2 123.5 485.9 122.8 486.6 122.8 487.3 123.3 488 123.3 488.7 122.7 489.4 121.6 490.1 120.6 490.8 120.8 491.5 121 492.2 121.5 492.9 120.6 493.6 120.6 494.3 119.8 495 119 495.7 119.6 496.4 120.2 497.1 118.7 497.8 118.8 498.5 116.9 499.2 116.5 499.9 117.4 500.6 117.2 501.3 116.7 502 115.1 502.7 114.5 503.4 112.9 504.1 111.9 504.8 111.6 505.5 110.8 506.2 110 506.9 108.3 507.6 106.1 508.3 106.1 509 105.6 509.7 105.1 510.4 104.1 511.1 102.6 511.8 100.4 512.5 100.8 513.2 99.5 513.9 99.5 514.6 97.7 515.3 96.5 516 95 516.7 94.3 517.4 93.3 518.1 91.1 518.8 88.7 519.5 87 520.2 84.5 520.9 82.6 521.6 81.7 522.3 80.3 523 77.2 523.7 75.6 524.4 72.6 525.1 70.9 525.8 70 526.5 69 527.2 66.7 527.9 64.2 528.6 62.6 529.3 60.3 530 59.8 530.7 56.5 531.4 52.9 532.1 48.5 532.8 49.5 533.5 49.6 534.2 51 534.9 52.7 535.6 54.2 536.3 56.3 537 56.5 537.7 58.1 538.4 61.4 539.1 63.3 539.8 64.7 540.5 65.9 541.2 67.5 541.9 68.9 542.6 71.4 543.3 73.5 544 75 544.7 76.5 545.4 78.3 546.1 79 546.8 81 547.5 83.5 548.2 85.8 548.9 87 549.6 87.6 550.3 88 551 89.3 551.7 91.9 552.4 93.4 553.1 94.2 553.8 95.2 554.5 96 555.2 96.9 555.9 99.4 556.6 100.7 557.3 100.6 558 100.8 558.7 101.9 559.4 101.5 560.1 103.1 560.8 104.1 561.5 105.1 562.2 104.7 562.9 104.5 563.6 105.2 564.3 106 565 107.3 565.7 108 566.4 107.5 567.1 107.9 567.8 108 568.5 108.7 569.2 110.4 569.9 110 570.6 109.9 571.3 109.4 572 110 572.7 110.3 573.4 110.8 574.1 111.6 574.8 111.8 575.5 111.2 576.2 111 576.9 112 577.6 112.8 578.3 112.9 579 112.8 579.7 112 580.4 112.1 581.1 112.6 581.8 113.5 582.5 114.5 583.2 114.6 583.9 113.1 584.6 113.6 585.3 112.9 586 114 586.7 113.7 587.4 114.4 588.1 113.2 588.8 112.9 589.5 113.1 590.2 114.3 590.9 113.9 591.6 114.4 592.3 114 593 113.6 593.7 112.8 594.4 113.7 595.1 114.1 595.8 114 596.5 112.8 597.2 112.2 597.9 111.7 598.6 111.8 599.3 112 600 111.3 600.7 111 601.4 110.4 602.1 109.4 602.8 110.2 603.5 110 604.2 109.3 604.9 109.2 605.6 107.9 606.3 107.3 607 107.9 607.7 107.8 608.4 107.4 609.1 106.7 609.8 106 610.5 104.7 611.2 105 611.9 105.6 612.6 105.7 613.3 104.7 614 103.8 614.7 103.5 615.4 103.7 616.1 104.6 616.8 105.8 617.5 105.3 618.2 106.2 618.9 105.1 619.6 105.5 620.3 107.5 621 108 621.7 108.7 622.4 108.2 623.1 108.2 623.8 108.7 624.5 109.8 625.2 111 625.9 111 626.6 111.8 627.3 111.8 628 112.3 628.7 113.1 629.4 113.9 630.1 114.7 630.8 115.2 631.5 114.6 632.2 114.8 632.9 116.8 633.6 118 634.3 117.4 635 117.6 635.7 117.6 636.4 116.4 637.1 117.2 637.8 117.1 638.5 117.4 639.2 117.1 639.9 116.6 640.6 116.1 641.3 117.2 642 117.7 642.7 117.4 643.4 117.9 644.1 117.4 644.8 116.9 645.5 116.9 646.2 117.2 646.9 118.3 647.6 117.4 648.3 118 649 116.9 649.7 116.9 650.4 117.8 651.1 118.2 651.8 118.4 652.5 117.6 653.2 117.5 653.9 118.1 654.6 118.5 655.3 120 656 120 656.7 119.1 657.4 119.7 658.1 119.3 658.8 120.9 659.5 121.2 660.2 121.5 660.9 121.3 661.6 121.3 662.3 121.5 663 121.3 663.7 122.6 664.4 123.8 665.1 122.6 665.8 123.3 666.5 122.8 667.2 123.9 667.9 124.5 668.6 124.9 669.3 125 670 124.3 L670 152.8 669.3 152.6 668.6 151.5 667.9 153.2 667.2 153.8 666.5 153.9 665.8 154.3 665.1 154 664.4 153.8 663.7 154.1 663 154.4 662.3 155.1 661.6 155.7 660.9 155.2 660.2 155.2 659.5 155 658.8 156.3 658.1 156.8 657.4 157 656.7 156.9 656 155.8 655.3 156.7 654.6 157.3 653.9 157.5 653.2 157.9 652.5 157.7 651.8 157.2 651.1 157.3 650.4 157.3 649.7 158.9 649 158.9 648.3 157.8 647.6 158.2 646.9 157.4 646.2 159.2 645.5 159.8 644.8 159.9 644.1 158.8 643.4 159.3 642.7 159 642 158.9 641.3 159.6 640.6 159.8 639.9 160.4 639.2 160.1 638.5 159.5 637.8 159.3 637.1 160.1 636.4 160.5 635.7 160.6 635 160.8 634.3 159.7 633.6 160.3 632.9 161.1 632.2 161.1 631.5 161.5 630.8 161.7 630.1 160.9 629.4 161.5 628.7 162.1 628 163.5 627.3 163 626.6 163.5 625.9 162.2 625.2 162.7 624.5 163.9 623.8 164.4 623.1 165.1 622.4 164.9 621.7 164.7 621 165.3 620.3 166 619.6 166.4 618.9 167 618.2 167.2 617.5 167.4 616.8 167.8 616.1 168.4 615.4 169 614.7 170.2 614 170.4 613.3 169.5 612.6 169.8 611.9 169.9 611.2 170.4 610.5 170.3 609.8 170 609.1 168.8 608.4 168.6 607.7 168.5 607 168 606.3 168.8 605.6 168.6 604.9 167.8 604.2 166.6 603.5 166.8 602.8 166.5 602.1 167.2 601.4 167.2 600.7 166.2 600 165.9 599.3 166 598.6 165.9 597.9 165.8 597.2 165.3 596.5 164.8 595.8 164.3 595.1 165 594.4 165.3 593.7 165.7 593 165.9 592.3 165.5 591.6 164.9 590.9 165 590.2 165.4 589.5 165.1 588.8 166 588.1 164.7 587.4 164.4 586.7 165.1 586 164.5 585.3 166 584.6 166.1 583.9 165.7 583.2 165.3 582.5 164.4 581.8 165.2 581.1 165.6 580.4 165.7 579.7 165.9 579 164.9 578.3 164.7 577.6 165.3 576.9 166 576.2 166.4 575.5 166.2 574.8 166.5 574.1 165.9 573.4 166.8 572.7 166.9 572 167.6 571.3 167.6 570.6 166.5 569.9 166.8 569.2 166.8 568.5 167.6 567.8 167.5 567.1 167.9 566.4 167.1 565.7 166.7 565 166.4 564.3 168.1 563.6 168.3 562.9 168.2 562.2 168.4 561.5 168 560.8 168.7 560.1 169.9 559.4 170.8 558.7 171.4 558 171.8 557.3 171.6 556.6 172.6 555.9 172.9 555.2 174.3 554.5 175.5 553.8 174.9 553.1 175.2 552.4 175.6 551.7 177.6 551 178.7 550.3 180.2 549.6 180.5 548.9 181.2 548.2 181.7 547.5 183.4 546.8 184 546.1 186.1 545.4 186.1 544.7 186.9 544 187.2 543.3 188.1 542.6 189.3 541.9 190.9 541.2 190.3 540.5 190.7 539.8 191.5 539.1 192.2 538.4 193.8 537.7 194.5 537 195.7 536.3 195.6 535.6 195.2 534.9 196.1 534.2 198.1 533.5 199.6 532.8 201.7 532.1 198.5 531.4 193.5 530.7 192.1 530 191.6 529.3 190.8 528.6 190 527.9 188.5 527.2 186.3 526.5 185.4 525.8 184.8 525.1 184.1 524.4 183.9 523.7 182.1 523 180.4 522.3 179 521.6 178.7 520.9 178.7 520.2 178.1 519.5 177.2 518.8 175.9 518.1 174.4 517.4 173.8 516.7 173 516 173.3 515.3 171.6 514.6 169.7 513.9 168.5 513.2 167.5 512.5 167.5 511.8 166 511.1 164.6 510.4 163.1 509.7 162.1 509 162.2 508.3 162.1 507.6 161.5 506.9 160.8 506.2 159.5 505.5 158.1 504.8 158 504.1 157.3 503.4 157.7 502.7 157 502 156 501.3 155.4 500.6 155.7 499.9 155.8 499.2 155.1 498.5 155 497.8 155.2 497.1 154.9 496.4 155 495.7 155.6 495 156 494.3 156.7 493.6 156.3 492.9 155.3 492.2 155.4 491.5 157 490.8 156.5 490.1 158 489.4 157.2 488.7 156.5 488 156.6 487.3 157.4 486.6 157.9 485.9 158.6 485.2 157.9 484.5 157.7 483.8 156.6 483.1 157.1 482.4 158.7 481.7 158.7 481 158.5 480.3 158.6 479.6 159 478.9 159.5 478.2 160.2 477.5 160.8 476.8 161.7 476.1 161.4 475.4 160.5 474.7 161 474 162.1 473.3 162.7 472.6 163.3 471.9 162.7 471.2 162.6 470.5 162 469.8 162.5 469.1 163.7 468.4 163.9 467.7 163 467 163.1 466.3 163.4 465.6 163.4 464.9 164.3 464.2 165.1 463.5 164.4 462.8 163.5 462.1 163 461.4 163.8 460.7 163.7 460 164.6 459.3 163.9 458.6 162.8 457.9 163.2 457.2 163.1 456.5 163.2 455.8 164 455.1 163.2 454.4 162.6 453.7 161.7 453 161.7 452.3 162.2 451.6 161.3 450.9 159.8 450.2 158.3 449.5 157.8 448.8 157.6 448.1 156.4 447.4 155.9 446.7 155.3 446 155.2 445.3 154.1 444.6 153.5 443.9 153.8 443.2 154.7 442.5 154.1 441.8 152.9 441.1 151.8 440.4 151.9 439.7 152.7 439 153.4 438.3 153.5 437.6 152.1 436.9 151.8 436.2 151.6 435.5 152.9 434.8 152.5 434.1 152.9 433.4 152.3 432.7 152.1 432 152.5 431.3 152.1 430.6 153.6 429.9 154 429.2 153.3 428.5 153.1 427.8 151.6 427.1 152.4 426.4 152.6 425.7 153.8 425 152.3 424.3 151.5 423.6 151.3 422.9 151.4 422.2 151.3 421.5 151.6 420.8 151.8 420.1 150.4 419.4 150.1 418.7 149.9 418 150.4 417.3 150.6 416.6 149.8 415.9 149.4 415.2 148.1 414.5 148 413.8 148.8 413.1 149.5 412.4 148.4 411.7 147.8 411 147.1 410.3 146.6 409.6 147.7 408.9 147.2 408.2 146.9 407.5 146.8 406.8 145.8 406.1 145 405.4 146.3 404.7 145.6 404 146.6 403.3 145.3 402.6 145.1 401.9 143.8 401.2 144.3 400.5 144.8 399.8 145.2 399.1 144.1 398.4 142.9 397.7 143.2 397 143.4 396.3 143.7 395.6 143.2 394.9 142.5 394.2 142.7 393.5 141.3 392.8 141.7Z" fill="#7899c6"/>
<rect x="392.8" y="17.9" width="277.59999999999997" height="211.6" fill="none" stroke="#262626" stroke-width="1.1"/>
<line x1="392.80" y1="229.50" x2="392.80" y2="226.70" stroke="#262626" stroke-width="1"/>
<line x1="392.80" y1="17.90" x2="392.80" y2="20.70" stroke="#262626" stroke-width="1"/>
<text x="392.80" y="246.70" font-size="12.5" text-anchor="middle" fill="#4d4d4d" >-1000</text>
<line x1="462.20" y1="229.50" x2="462.20" y2="226.70" stroke="#262626" stroke-width="1"/>
<line x1="462.20" y1="17.90" x2="462.20" y2="20.70" stroke="#262626" stroke-width="1"/>
<text x="462.20" y="246.70" font-size="12.5" text-anchor="middle" fill="#4d4d4d" >-500</text>
<line x1="531.60" y1="229.50" x2="531.60" y2="226.70" stroke="#262626" stroke-width="1"/>
<line x1="531.60" y1="17.90" x2="531.60" y2="20.70" stroke="#262626" stroke-width="1"/>
<text x="531.60" y="246.70" font-size="12.5" text-anchor="middle" fill="#4d4d4d" >0</text>
<line x1="601.00" y1="229.50" x2="601.00" y2="226.70" stroke="#262626" stroke-width="1"/>
<line x1="601.00" y1="17.90" x2="601.00" y2="20.70" stroke="#262626" stroke-width="1"/>
<text x="601.00" y="246.70" font-size="12.5" text-anchor="middle" fill="#4d4d4d" >500</text>
<line x1="670.40" y1="229.50" x2="670.40" y2="226.70" stroke="#262626" stroke-width="1"/>
<line x1="670.40" y1="17.90" x2="670.40" y2="20.70" stroke="#262626" stroke-width="1"/>
<text x="670.40" y="246.70" font-size="12.5" text-anchor="middle" fill="#4d4d4d" >1000</text>
<line x1="392.80" y1="229.50" x2="395.60" y2="229.50" stroke="#262626" stroke-width="1"/>
<line x1="670.40" y1="229.50" x2="667.60" y2="229.50" stroke="#262626" stroke-width="1"/>
<text x="388.60" y="234.70" font-size="12.5" text-anchor="end" fill="#4d4d4d" >-6</text>
<line x1="392.80" y1="199.27" x2="395.60" y2="199.27" stroke="#262626" stroke-width="1"/>
<line x1="670.40" y1="199.27" x2="667.60" y2="199.27" stroke="#262626" stroke-width="1"/>
<text x="388.60" y="204.47" font-size="12.5" text-anchor="end" fill="#4d4d4d" >-4</text>
<line x1="392.80" y1="169.04" x2="395.60" y2="169.04" stroke="#262626" stroke-width="1"/>
<line x1="670.40" y1="169.04" x2="667.60" y2="169.04" stroke="#262626" stroke-width="1"/>
<text x="388.60" y="174.24" font-size="12.5" text-anchor="end" fill="#4d4d4d" >-2</text>
<line x1="392.80" y1="138.81" x2="395.60" y2="138.81" stroke="#262626" stroke-width="1"/>
<line x1="670.40" y1="138.81" x2="667.60" y2="138.81" stroke="#262626" stroke-width="1"/>
<text x="388.60" y="144.01" font-size="12.5" text-anchor="end" fill="#4d4d4d" >0</text>
<line x1="392.80" y1="108.59" x2="395.60" y2="108.59" stroke="#262626" stroke-width="1"/>
<line x1="670.40" y1="108.59" x2="667.60" y2="108.59" stroke="#262626" stroke-width="1"/>
<text x="388.60" y="113.79" font-size="12.5" text-anchor="end" fill="#4d4d4d" >2</text>
<line x1="392.80" y1="78.36" x2="395.60" y2="78.36" stroke="#262626" stroke-width="1"/>
<line x1="670.40" y1="78.36" x2="667.60" y2="78.36" stroke="#262626" stroke-width="1"/>
<text x="388.60" y="83.56" font-size="12.5" text-anchor="end" fill="#4d4d4d" >4</text>
<line x1="392.80" y1="48.13" x2="395.60" y2="48.13" stroke="#262626" stroke-width="1"/>
<line x1="670.40" y1="48.13" x2="667.60" y2="48.13" stroke="#262626" stroke-width="1"/>
<text x="388.60" y="53.33" font-size="12.5" text-anchor="end" fill="#4d4d4d" >6</text>
<line x1="392.80" y1="17.90" x2="395.60" y2="17.90" stroke="#262626" stroke-width="1"/>
<line x1="670.40" y1="17.90" x2="667.60" y2="17.90" stroke="#262626" stroke-width="1"/>
<text x="388.60" y="23.10" font-size="12.5" text-anchor="end" fill="#4d4d4d" >8</text>
<text x="392.80" y="14.60" font-size="15" fill="#4d4d4d" >×</text>
<text x="402.40" y="14.90" font-size="12.8" fill="#4d4d4d" >10</text>
<text x="417.60" y="8.90" font-size="8.5" fill="#4d4d4d" >-4</text>
<text x="531.50" y="264.00" font-size="14" text-anchor="middle" fill="#4d4d4d" >Lag (s)</text>
<text x="371.50" y="136.50" font-size="14" text-anchor="middle" fill="#4d4d4d" transform="rotate(-90 371.5 136.5)">Cross-correlation</text>
<text x="348.60" y="19.70" font-size="14.8" fill="#111" font-weight="bold" >(b)</text>
<path d="M47.9 494 61 435.9 73.6 430.7 84.4 478.8 94.6 441.2 113 478.8 121.2 461.3 129.1 440.9 136.4 433 142.8 436.5 150.1 443.2 162 469.2 167.3 435 173.1 436.8 178.1 468 183.1 444.4 188.3 436.5 193 440.3 197.7 449.6 205.5 420.4 209.9 434.5 214.3 442.3 217.2 459 221 446.1 224.8 449 228.3 457.8 231.4 446.9 234.9 469.2 238.5 476.6 241.5 446.9 244.6 437.2 247.2 448.5 250.3 483.1 253.4 446.5 255.7 456.2 258.8 456.2 261.1 450.8 264.2 444.9 266.8 462.3 269.2 462.3 271.8 439.2 274.2 464.6 276.5 448.5 278.8 458.5 281.1 481.5 283.7 446.9 286.2 451.5 288 467.7 289.8 466.2 292.3 455.4 294.5 499.7 298.5 448 301.1 453.1 303.8 471.5 305.7 471.5 307.4 462.8 309.6 459.6 311.5 475.9 313.5 441.7 316.7 492.9 318.8 458.8 320.4 475.9 322.1 466.9 323.7 483.2 325.3 460.4 327 489.7 328.6 445 330.2 480.7 333 453.9 335.1 463.7 337.5 489.7 339.1 449.8 340.8 476.7 342.4 459.6 344.3 466.1 346 452.3 347.6 455.5 348.9 447.4 351.3 471.8 353 448.2 355.4 455.5 357 458.8 359 471.8 360.6 452.3 362.2 450.7 363.9 441.7 366 458.8 368.4 437.6 370.9 435.2 373 423 374.1 463.7 376.2 436 378.2 459.6 380.1 444.1 382.2 448.2 383.9 435.2 386.3 432.5 388.1 443.3 389.4 425.2 391.2 428.9 392.7 424.3 394.5 422.5 395.9 417.1 398.1 407.1 399.9 398.1 401.4 389 402.3 375 403 345 403.5 314.2 404 345 404.6 375 405.3 389 406.8 398.1 409 409 410.4 416.2 412.2 415.3 413.5 422.5 415.3 426.2 417.1 422 418.9 434.3 420.7 432.5 423.4 434.3 425.2 441.5 426.2 456 428 434.3 429.8 448.8 431.6 437.9 432.9 457.8 434.3 445.2 436.5 439.7 437.9 447 439.7 448.8 441.5 445.2 443.3 448.8 445.2 456 447.9 445.2 449.7 463.3 451.5 450.6 454.2 447.9 456 452.4 457.8 460.5 459.6 457.8 460 448.3 460.6 457.1 461.1 447.8 461.7 454.7 462.3 448.4 462.8 448.1 463.4 463.6 463.9 474.4 464.4 450.9 465 441.6 465.5 466.1 466.1 459.1 466.6 456.7 467.1 448.9 467.7 452 468.2 474.3 468.7 454.2 469.2 450.9 469.8 464 470.3 459.5 470.8 445.1 471.3 451.1 471.8 460.6 472.3 457.4 472.8 452.3 473.4 454.2 473.9 455.3 474.4 456.6 474.9 474 475.4 462.2 475.9 450.2 476.4 453.6 476.8 461.2 477.3 461.7 477.9 479.5 478.3 460.2 478.8 452.1 479.3 466.8 479.8 460.8 480.2 449.7 480.7 456.9 481.2 460.1 481.7 455.3 482.1 457.9 482.6 456.2 483.1 463.3 483.6 461.9 484 468.7 484.5 457.1 484.9 418 485.4 455.7 485.9 459.3 486.3 460.1 486.7 393.4 487.2 462 487.6 439.7 488.1 455.1 488.6 465.8 489 449.2 489.5 463.4 489.9 453.9 490.4 454 490.8 455.4 491.3 453.4 491.7 459.7 492.1 436.1 492.6 457.9 493 457 493.4 478.6 493.9 448.7 494.3 460.8 494.7 452.4 495.2 462.5 495.6 466 496 457.4 496.4 455.2 496.9 462.4 497.3 449.9 497.7 459.5 498.1 452.5 498.5 459 498.9 450.9 499.4 448.1 499.8 451.6 500.2 453.2 500.6 453.5 501 461.4 501.4 448.8 501.8 449.6 502.2 451.9 502.6 454.7 503 453.4 503.4 455.7 503.8 463.1 504.2 466.3 504.6 452.5 505 445.4 505.3 434.3 505.8 450.3 506.2 454.4 506.6 447.7 507 446.9 507.4 455.1 507.7 458 508.1 457.6 508.5 444.3 508.9 453.6 509.3 457.4 509.6 455.3 510 459.5 510.4 449.8 510.8 463.6 511.2 455.1 511.5 465.5 512 468.7 512.3 462.9 512.7 454.3 513 449.4 513.4 456.4 513.8 453.4 514.1 450.2 514.5 449.5 514.9 455.4 515.2 449.7 515.6 452 516 453.1 516.3 440.5 516.7 450 517 459.1 517.4 462.3 517.8 443.4 518.1 459.4 518.5 467.2 518.8 464 519.2 455.5 519.5 461.5 519.9 452.2 520.2 449.1 520.6 459.5 520.9 451.6 521.3 461.5 521.6 446.4 522 445.5 522.3 454.4 522.7 453.3 523 453.3 523.4 452 523.7 448.2 524 449.2 524.4 440.4 524.7 437.2 525 451.1 525.4 445.8 525.7 449.4 526.1 439.5 526.4 448.3 526.7 441.8 527.1 456.7 527.4 457.9 527.7 437.5 528 451 528.4 455.3 528.7 462.9 529 451 529.4 450.6 529.7 441.4 530.1 469.6 530.3 450.6 530.7 432.5 531 445.8 531.3 438.8 531.6 451.6 532 446.2 532.3 450.6 532.6 445.4 532.9 463 533.2 443 533.5 452.7 533.9 451.4 534.2 451.1 534.5 441.9 534.8 446 535.1 444.1 535.4 446.3 535.7 443.1 536 442.4 536.3 448.6 536.6 444 537 449.6 537.3 444.2 537.6 449.4 537.9 461.4 538.2 446.6 538.5 452.9 538.8 448.2 539 467.7 539.4 429.8 539.7 449.4 540 447.4 540.3 442.3 540.6 437.6 540.9 457.6 541.2 444.6 541.5 445.6 541.8 449.1 542.1 442.8 542.4 446.3 542.7 447.2 543 443.3 543.2 444.1 543.5 448.2 543.8 447.1 544.1 445.8 544.4 440.1 544.7 438.7 545 446.5 545.3 434.3 545.6 448.5 545.9 447.9 546.1 440.3 546.4 433.6 546.7 444 547 449.5 547.2 458.7 547.6 437.5 547.9 448.5 548.1 444.7 548.4 437.6 548.7 446.9 549 459.2 549.2 444.7 549.5 443.1 549.8 442.9 550.1 446.1 550.4 447.5 550.6 445.6 550.9 446.1 551.2 445.9 551.5 445.5 551.7 445 552 452.4 552.3 438.1 552.6 439.1 552.7 388.7 553.1 448.2 553.4 442.9 553.6 428.4 553.9 439.5 554.2 445.6 554.5 439.4 554.7 439.9 555 442.9 555.2 438.8 555.5 441.9 555.8 428.5 556 437.6 556.3 450.4 556.6 452.8 556.8 445.4 557.1 440.3 557.4 442.4 557.6 446.2 557.9 432.7 558.1 443.7 558.4 445.3 558.7 444.7 558.9 445.4 559.2 442.7 559.4 439.4 559.7 437.9 560 435.9 560.2 443.6 560.5 445.9 560.7 439 561 445 561.2 436.7 561.5 439.5 561.7 445 562 436.3 562.2 435.8 562.5 446.9 562.7 431.6 563 428.6 563.2 440.1 563.5 443.4 563.7 441.6 564 436.4 564.2 441.5 564.5 438.5 564.7 432.6 565 440.1 565.2 434.3 565.5 436.1 565.7 439.2 566 432.6 566.2 430.1 566.5 437.5 566.7 430.5 566.9 442.5 567.2 440.8 567.4 433.7 567.7 435.4 567.9 436.8 568.1 435.2 568.4 438.5 568.6 437.4 568.9 435.6 569.1 437.4 569.3 434.6 569.6 436.5 569.8 441.5 570.1 431.6 570.3 435.7 570.5 432.3 570.8 440.3 571 431.9 571.2 432.4 571.5 436.1 571.7 435.1 571.9 437.2 572.2 435.5 572.4 430.2 572.6 424.1 572.9 431.5 573.1 436.9 573.3 444.4 573.6 433.5 573.8 433 574 435.6 574.2 434 574.5 430.6 574.7 430 574.9 426.9 575.2 430.8 575.4 435.4 575.6 430.5 575.9 430.4 576.1 426.9 576.3 432.9 576.5 427.4 576.8 433.7 577 426 577.2 426.6 577.4 430 577.6 429.2 577.9 431.2 578.1 429.3 578.3 431.4 578.5 440.6 578.8 436.7 579 433.3 579.2 434.7 579.4 432.8 579.6 430.1 579.9 430.5 580.1 431.9 580.3 427.3 580.5 381.3 580.7 426.8 581 429.2 581.2 431.2 581.4 427.7 581.6 440.6 581.8 426 582 425 582.2 424.8 582.5 424.4 582.7 427.2 582.9 426.1 583.1 428.5 583.3 431.4 583.5 427 583.8 427.9 584 426.6 584.2 428.9 584.4 425.5 584.6 427.3 584.8 428.1 585 428.6 585.2 420.7 585.4 427.5 585.6 422.5 585.9 426.2 586.1 425.1 586.3 429.8 586.5 423.4 586.7 428.7 586.9 421.9 587.1 423.5 587.3 341.8 587.5 420.9 587.7 426.6 587.9 421.2 588.1 425.9 588.4 426.7 588.6 427.2 588.8 423.8 589 422.1 589.2 422.8 589.4 419.9 589.6 421.8 589.8 422.1 590 420.8 590.2 421.2 590.4 422.7 590.6 425.4 590.8 421.6 591 421.5 591.2 418.9 591.4 422.3 591.6 416.2 591.8 419.1 592 419.3 592.2 418.6 592.4 419.1 592.6 416.7 592.8 418.3 593 418.4 593.2 418.6 593.4 418.9 593.6 416.4 593.8 414.7 594 416.6 594.2 416.9 594.4 414.9 594.6 417.1 594.8 419.5 595 414.3 595.1 414.6 595.3 416.3 595.5 410 595.7 412.7 595.9 413.8 596.1 413.4 596.3 414.2 596.5 413.6 596.7 411.9 596.9 410.9 597.1 412.3 597.3 409.9 597.5 412.8 597.6 412.4 597.9 412.5 598 409.5 598.2 409.7 598.4 410.5 598.6 411.6 598.8 411.1 599 410.6 599.2 407.2 599.4 408 599.5 405.7 599.7 408.3 599.9 408.1 600.1 408.1 600.3 405.4 600.5 407.1 600.7 404.7 600.9 404.3 601 404.1 601.2 404.1 601.4 404.1 601.6 403.4 601.8 402.8 602 401.7 602.2 402.4 602.3 400.4 602.5 399.7 602.7 399.4 602.9 399.3 603.1 398.1 603.3 397.4 603.4 396.7 603.6 396 603.8 395.8 604 395.2 604.2 393.4 604.4 394 604.5 393.3 604.7 392.6 604.9 392.6 605.1 391.2 605.2 390.7 605.4 389.4 605.6 390 605.8 387.5 606 388.4 606.1 387.3 606.3 386.3 606.5 385.3 606.7 382.3 606.9 382.4 607 380.5 607.2 379.4 607.4 378.4 608.3 350 608.9 310 609.2 283 609.6 310 610.5 350 611.2 368 611.9 378.3 612.1 379.6 612.2 380.1 612.4 381.8 612.6 382.2 612.8 383.1 612.9 384.3 613.1 384.8 613.3 387.1 613.4 388.1 613.6 389.9 613.8 391.5 613.9 393.7 614.1 395.6 614.3 397.2 614.4 375.2 614.6 399.4 614.8 399.4 614.9 400.6 615.1 400.4 615.3 401.2 615.4 401.9 615.6 402.8 615.8 405.2 615.9 403 616.1 403.8 616.3 403.2 616.4 404.6 616.6 405 616.8 404.8 616.9 404.9 617.1 406.4 617.3 406.8 617.4 406.2 617.6 407.2 617.8 408.3 617.9 408.3 618.1 407.8 618.2 409.5 618.4 407.6 618.6 409.2 618.7 409.2 618.9 410.4 619 409.6 619.2 410.1 619.4 410.8 619.5 410.6 619.7 411 619.9 409.9 620 411.5 620.2 412.4 620.3 412.4 620.5 412.7 620.6 412.7 620.8 412.7 621 413.7 621.1 413.3 621.3 414.8 621.4 415.5 621.6 415.3 621.8 414.5 621.9 414.4 622.1 416.7 622.2 418.9 622.4 415.3 622.5 417.8 622.7 418.3 622.9 418.6 623 416.3 623.2 417.2 623.3 417.6 623.5 418.8 623.6 418.6 623.8 419.3 624 420 624.1 419.8 624.3 420.6 624.4 420.3 624.6 421.9 624.7 422.3 624.9 422.7 625 422.9 625.2 422.8 625.3 423.7 625.5 422.2 625.6 424.4 625.8 423.5 626 424.4 626.1 425.3 626.3 424.4 626.4 428 626.6 427.8 626.7 426.4 626.9 426.8 627 428.5 627.2 429.4 627.3 428.2 627.5 430.9 627.6 428.9 627.8 430.6 627.9 430.3 628.1 433.4 628.2 433.6 628.4 431.4 628.5 433.6 628.7 432.3 628.8 432.9 629 433.8 629.1 432.7 629.3 432.4 629.4 441.3 629.6 433.1 629.7 434.9 629.9 435 630 431.8 630.2 435.5 630.3 434.2 630.5 435.8 630.6 434.5 630.8 438.5 630.9 432.9 631 435.1 631.2 499.6 631.3 436.6 631.5 433.3 631.6 431.8 631.8 430.1 632 424 632.1 427.9 632.2 431.7 632.4 428 632.5 429.6 632.7 432.4 632.8 372.4 632.9 429.3 633.1 428.1 633.2 427.2 633.4 428.9 633.5 428.5 633.7 426.4 633.8 426.9 634 428.6 634.1 424.2 634.2 423.9 634.4 425.7 634.5 424.6 634.6 320.1 634.8 425 635 425.5 635.1 420.2 635.2 423.3 635.4 407.2 635.5 424.4 635.7 421.3 635.8 422.7 636 418.1 636.1 420.9 636.2 423.4 636.4 424.5 636.5 423 636.6 439.6 636.8 420.6 636.9 425 637.1 424.9 637.2 423.5 637.4 424.6 637.5 423.8 637.6 422.6 637.8 430.3 637.9 428.3 638 429 638.2 428.1 638.3 427.7 638.5 427.8 638.6 429.2 638.7 428.7 638.9 425.8 639 426.8 639.2 427.5 639.3 427.5 639.4 426.8 639.6 431.7 639.7 428.6 639.9 451.8 640 430.2 640.1 429.7 640.3 428.3 640.4 429.6 640.5 431.8 640.7 449.7 640.8 424.9 640.9 424.9 641.1 430.1 641.2 427.6 641.4 433.4 641.5 425 641.6 430.3 641.8 432.3 641.9 430.2 642 429.2 642.2 429.9 642.3 432.7 642.4 427 642.6 432.9 642.7 425.3 642.8 434.2 643 444.6 643.1 428.9 643.2 420.5 643.4 431 643.5 433.1 643.6 449.2 643.8 437.3 643.9 436.6 644 431 644.2 433.4 644.3 436.4 644.4 434.8 644.6 433.9 644.7 433.1 644.8 438.9 645 441.8 645.1 442.3 645.2 438.7 645.4 448.6 645.5 441 645.6 441.6 645.7 440.1 645.9 439.9 646 439.5 646.1 437.7 646.3 440.2 646.4 443.5 646.5 435.9 646.6 458.9 646.8 445.6 646.9 440.6 647 446.1 647.2 436.5 647.3 443.1 647.4 449.9 647.6 443.1 647.7 445.2 647.8 442.6 648 445.3 648.1 446.2 648.2 440.8 648.3 439.4 648.5 440.5 648.6 496.3 648.7 439 648.8 432.3 649 441.5 649.1 435.4 649.2 437.2 649.4 435.7 649.5 442.6 649.6 428.2 649.7 435.2 649.9 436 650 428.9 650.1 429.8 650.2 431.6 650.4 432.1 650.5 354 650.6 426.8 650.8 430 650.9 425.6 651 434.4 651.1 428.1 651.2 429.9 651.4 431.5 651.5 430.7 651.6 431.6 651.8 435.8 651.9 433.7 652 430.3 652.1 431.5 652.2 431.1 652.4 426.7 652.5 432.8 652.6 420.1 652.8 428 652.9 429 653 435 653.1 425.2 653.2 432.4 653.4 433.3 653.5 425.6 653.6 430.6 653.7 458.3 653.9 434.4 654 434.3 654.1 425.3 654.2 391.6 654.4 444.3 654.5 429.5 654.6 430.1 654.7 435.4 654.8 425 655 425.9 655.1 436.4 655.2 429.5 655.3 428.9 655.4 433.6 655.6 434.3 655.7 418.3 655.8 431.9 655.9 427.4 656 432.7 656.2 435.3 656.3 433.5 656.4 433.4 656.5 433.5 656.6 432.1 656.8 431.4 656.9 428.1 657 439.3 657.1 434.2 657.2 434.7 657.4 435.3 657.5 431.4 657.6 428.2 657.7 430.4 657.9 437.2 658 430.4 658.1 437.5 658.2 440.7 658.3 426.9 658.4 431.4 658.6 439.6 658.7 438.1 658.8 434.9 658.9 431.9 659 436.5 659.1 433.7 659.3 438.5 659.4 436.5 659.5 439.8 659.6 440.3 659.7 440.7 659.9 433.8 660 431.4 660.1 432 660.2 432.1 660.3 428.2 660.4 435.3 660.6 434.4 660.7 437.6 660.8 431.6 660.9 438.9 661 442.7 661.1 436.2 661.2 430.9 661.4 435.6 661.5 440.6 661.6 444.6 661.7 439.4 661.8 436 662 439.5 662.1 429.7 662.2 433.6 662.3 437.9 662.4 445.9 662.5 445.1 662.6 433.8 662.8 442.9 662.9 440.6 663 442.6 663.1 451.4 663.2 451.3 663.3 443.9 663.4 441.8 663.5 436.7 663.7 454.1 663.8 448.4 663.9 439.8 664 445.1 664.1 427.1 664.2 448.8 664.3 440.3 664.5 443.7 664.6 442.1 664.7 442.8 664.8 445.7 664.9 441.8 665 447.2 665.1 444.4 665.2 435.7 665.4 437.6 665.5 439.1 665.6 441.4 665.7 446.1 665.8 441 665.9 447.9 666 446.8 666.1 442.8 666.2 444.4 666.4 442.4 666.5 443.9 666.6 443 666.7 433.1 666.8 448 666.9 437.1 667 443.3 667.1 442.8 667.2 450.4 667.4 437.4 667.5 449 667.6 444.7 667.7 443.3 667.8 448.2 667.9 444.4 668 447.3 668.1 445.2 668.2 459.6 668.4 443.6 668.5 448.4 668.6 441.6 668.7 450.4 668.8 449.8 668.9 443.7 669 442.4 669.1 441.9 669.2 453 669.3 441.7 669.5 433.4 669.5 434.9 669.7 447.7 669.8 444.7 669.9 435.2 670 453 670.1 453.1 670.2 448.4 670.3 441.5 670.4 446.9 670.5 429.8 670.6 445.7 670.7 452 670.9 447.3 671 444.1 671.1 449.7 671.2 447.8 671.3 446.1 671.4 452.1 671.5 438.6 671.6 443.6 671.7 458.5 671.8 447.1 671.9 445 672 462.8 672.1 455.3 672.2 450.5 672.4 450 672.5 442 672.6 445.4" fill="none" stroke="#b0902a" stroke-width="1.4" stroke-linejoin="round"/>
<rect x="48" y="280.4" width="624.6" height="223.90000000000003" fill="none" stroke="#262626" stroke-width="1.1"/>
<line x1="48.47" y1="504.30" x2="48.47" y2="501.30" stroke="#262626" stroke-width="1"/>
<line x1="48.47" y1="280.40" x2="48.47" y2="283.40" stroke="#262626" stroke-width="1"/>
<line x1="61.90" y1="504.30" x2="61.90" y2="498.10" stroke="#262626" stroke-width="1"/>
<line x1="61.90" y1="280.40" x2="61.90" y2="286.60" stroke="#262626" stroke-width="1"/>
<line x1="150.28" y1="504.30" x2="150.28" y2="501.30" stroke="#262626" stroke-width="1"/>
<line x1="150.28" y1="280.40" x2="150.28" y2="283.40" stroke="#262626" stroke-width="1"/>
<line x1="201.98" y1="504.30" x2="201.98" y2="501.30" stroke="#262626" stroke-width="1"/>
<line x1="201.98" y1="280.40" x2="201.98" y2="283.40" stroke="#262626" stroke-width="1"/>
<line x1="238.66" y1="504.30" x2="238.66" y2="501.30" stroke="#262626" stroke-width="1"/>
<line x1="238.66" y1="280.40" x2="238.66" y2="283.40" stroke="#262626" stroke-width="1"/>
<line x1="267.12" y1="504.30" x2="267.12" y2="501.30" stroke="#262626" stroke-width="1"/>
<line x1="267.12" y1="280.40" x2="267.12" y2="283.40" stroke="#262626" stroke-width="1"/>
<line x1="290.37" y1="504.30" x2="290.37" y2="501.30" stroke="#262626" stroke-width="1"/>
<line x1="290.37" y1="280.40" x2="290.37" y2="283.40" stroke="#262626" stroke-width="1"/>
<line x1="310.02" y1="504.30" x2="310.02" y2="501.30" stroke="#262626" stroke-width="1"/>
<line x1="310.02" y1="280.40" x2="310.02" y2="283.40" stroke="#262626" stroke-width="1"/>
<line x1="327.05" y1="504.30" x2="327.05" y2="501.30" stroke="#262626" stroke-width="1"/>
<line x1="327.05" y1="280.40" x2="327.05" y2="283.40" stroke="#262626" stroke-width="1"/>
<line x1="342.07" y1="504.30" x2="342.07" y2="501.30" stroke="#262626" stroke-width="1"/>
<line x1="342.07" y1="280.40" x2="342.07" y2="283.40" stroke="#262626" stroke-width="1"/>
<line x1="355.50" y1="504.30" x2="355.50" y2="498.10" stroke="#262626" stroke-width="1"/>
<line x1="355.50" y1="280.40" x2="355.50" y2="286.60" stroke="#262626" stroke-width="1"/>
<line x1="443.88" y1="504.30" x2="443.88" y2="501.30" stroke="#262626" stroke-width="1"/>
<line x1="443.88" y1="280.40" x2="443.88" y2="283.40" stroke="#262626" stroke-width="1"/>
<line x1="495.58" y1="504.30" x2="495.58" y2="501.30" stroke="#262626" stroke-width="1"/>
<line x1="495.58" y1="280.40" x2="495.58" y2="283.40" stroke="#262626" stroke-width="1"/>
<line x1="532.26" y1="504.30" x2="532.26" y2="501.30" stroke="#262626" stroke-width="1"/>
<line x1="532.26" y1="280.40" x2="532.26" y2="283.40" stroke="#262626" stroke-width="1"/>
<line x1="560.72" y1="504.30" x2="560.72" y2="501.30" stroke="#262626" stroke-width="1"/>
<line x1="560.72" y1="280.40" x2="560.72" y2="283.40" stroke="#262626" stroke-width="1"/>
<line x1="583.97" y1="504.30" x2="583.97" y2="501.30" stroke="#262626" stroke-width="1"/>
<line x1="583.97" y1="280.40" x2="583.97" y2="283.40" stroke="#262626" stroke-width="1"/>
<line x1="603.62" y1="504.30" x2="603.62" y2="501.30" stroke="#262626" stroke-width="1"/>
<line x1="603.62" y1="280.40" x2="603.62" y2="283.40" stroke="#262626" stroke-width="1"/>
<line x1="620.65" y1="504.30" x2="620.65" y2="501.30" stroke="#262626" stroke-width="1"/>
<line x1="620.65" y1="280.40" x2="620.65" y2="283.40" stroke="#262626" stroke-width="1"/>
<line x1="635.67" y1="504.30" x2="635.67" y2="501.30" stroke="#262626" stroke-width="1"/>
<line x1="635.67" y1="280.40" x2="635.67" y2="283.40" stroke="#262626" stroke-width="1"/>
<line x1="649.10" y1="504.30" x2="649.10" y2="498.10" stroke="#262626" stroke-width="1"/>
<line x1="649.10" y1="280.40" x2="649.10" y2="286.60" stroke="#262626" stroke-width="1"/>
<text x="53.10" y="520.80" font-size="13.5" fill="#4d4d4d" >10<tspan font-size="8.2" dy="-5">-1</tspan></text>
<text x="344.90" y="520.80" font-size="13.5" fill="#4d4d4d" >10<tspan font-size="8.2" dy="-5">0</tspan></text>
<text x="635.20" y="520.80" font-size="13.5" fill="#4d4d4d" >10<tspan font-size="8.2" dy="-5">1</tspan></text>
<line x1="48.00" y1="504.30" x2="54.20" y2="504.30" stroke="#262626" stroke-width="1"/>
<line x1="672.60" y1="504.30" x2="666.40" y2="504.30" stroke="#262626" stroke-width="1"/>
<line x1="48.00" y1="487.44" x2="51.00" y2="487.44" stroke="#262626" stroke-width="1"/>
<line x1="672.60" y1="487.44" x2="669.60" y2="487.44" stroke="#262626" stroke-width="1"/>
<line x1="48.00" y1="477.58" x2="51.00" y2="477.58" stroke="#262626" stroke-width="1"/>
<line x1="672.60" y1="477.58" x2="669.60" y2="477.58" stroke="#262626" stroke-width="1"/>
<line x1="48.00" y1="470.58" x2="51.00" y2="470.58" stroke="#262626" stroke-width="1"/>
<line x1="672.60" y1="470.58" x2="669.60" y2="470.58" stroke="#262626" stroke-width="1"/>
<line x1="48.00" y1="465.16" x2="51.00" y2="465.16" stroke="#262626" stroke-width="1"/>
<line x1="672.60" y1="465.16" x2="669.60" y2="465.16" stroke="#262626" stroke-width="1"/>
<line x1="48.00" y1="460.72" x2="51.00" y2="460.72" stroke="#262626" stroke-width="1"/>
<line x1="672.60" y1="460.72" x2="669.60" y2="460.72" stroke="#262626" stroke-width="1"/>
<line x1="48.00" y1="456.97" x2="51.00" y2="456.97" stroke="#262626" stroke-width="1"/>
<line x1="672.60" y1="456.97" x2="669.60" y2="456.97" stroke="#262626" stroke-width="1"/>
<line x1="48.00" y1="453.73" x2="51.00" y2="453.73" stroke="#262626" stroke-width="1"/>
<line x1="672.60" y1="453.73" x2="669.60" y2="453.73" stroke="#262626" stroke-width="1"/>
<line x1="48.00" y1="450.86" x2="51.00" y2="450.86" stroke="#262626" stroke-width="1"/>
<line x1="672.60" y1="450.86" x2="669.60" y2="450.86" stroke="#262626" stroke-width="1"/>
<line x1="48.00" y1="448.30" x2="54.20" y2="448.30" stroke="#262626" stroke-width="1"/>
<line x1="672.60" y1="448.30" x2="666.40" y2="448.30" stroke="#262626" stroke-width="1"/>
<line x1="48.00" y1="431.44" x2="51.00" y2="431.44" stroke="#262626" stroke-width="1"/>
<line x1="672.60" y1="431.44" x2="669.60" y2="431.44" stroke="#262626" stroke-width="1"/>
<line x1="48.00" y1="421.58" x2="51.00" y2="421.58" stroke="#262626" stroke-width="1"/>
<line x1="672.60" y1="421.58" x2="669.60" y2="421.58" stroke="#262626" stroke-width="1"/>
<line x1="48.00" y1="414.58" x2="51.00" y2="414.58" stroke="#262626" stroke-width="1"/>
<line x1="672.60" y1="414.58" x2="669.60" y2="414.58" stroke="#262626" stroke-width="1"/>
<line x1="48.00" y1="409.16" x2="51.00" y2="409.16" stroke="#262626" stroke-width="1"/>
<line x1="672.60" y1="409.16" x2="669.60" y2="409.16" stroke="#262626" stroke-width="1"/>
<line x1="48.00" y1="404.72" x2="51.00" y2="404.72" stroke="#262626" stroke-width="1"/>
<line x1="672.60" y1="404.72" x2="669.60" y2="404.72" stroke="#262626" stroke-width="1"/>
<line x1="48.00" y1="400.97" x2="51.00" y2="400.97" stroke="#262626" stroke-width="1"/>
<line x1="672.60" y1="400.97" x2="669.60" y2="400.97" stroke="#262626" stroke-width="1"/>
<line x1="48.00" y1="397.73" x2="51.00" y2="397.73" stroke="#262626" stroke-width="1"/>
<line x1="672.60" y1="397.73" x2="669.60" y2="397.73" stroke="#262626" stroke-width="1"/>
<line x1="48.00" y1="394.86" x2="51.00" y2="394.86" stroke="#262626" stroke-width="1"/>
<line x1="672.60" y1="394.86" x2="669.60" y2="394.86" stroke="#262626" stroke-width="1"/>
<line x1="48.00" y1="392.30" x2="54.20" y2="392.30" stroke="#262626" stroke-width="1"/>
<line x1="672.60" y1="392.30" x2="666.40" y2="392.30" stroke="#262626" stroke-width="1"/>
<line x1="48.00" y1="375.44" x2="51.00" y2="375.44" stroke="#262626" stroke-width="1"/>
<line x1="672.60" y1="375.44" x2="669.60" y2="375.44" stroke="#262626" stroke-width="1"/>
<line x1="48.00" y1="365.58" x2="51.00" y2="365.58" stroke="#262626" stroke-width="1"/>
<line x1="672.60" y1="365.58" x2="669.60" y2="365.58" stroke="#262626" stroke-width="1"/>
<line x1="48.00" y1="358.58" x2="51.00" y2="358.58" stroke="#262626" stroke-width="1"/>
<line x1="672.60" y1="358.58" x2="669.60" y2="358.58" stroke="#262626" stroke-width="1"/>
<line x1="48.00" y1="353.16" x2="51.00" y2="353.16" stroke="#262626" stroke-width="1"/>
<line x1="672.60" y1="353.16" x2="669.60" y2="353.16" stroke="#262626" stroke-width="1"/>
<line x1="48.00" y1="348.72" x2="51.00" y2="348.72" stroke="#262626" stroke-width="1"/>
<line x1="672.60" y1="348.72" x2="669.60" y2="348.72" stroke="#262626" stroke-width="1"/>
<line x1="48.00" y1="344.97" x2="51.00" y2="344.97" stroke="#262626" stroke-width="1"/>
<line x1="672.60" y1="344.97" x2="669.60" y2="344.97" stroke="#262626" stroke-width="1"/>
<line x1="48.00" y1="341.73" x2="51.00" y2="341.73" stroke="#262626" stroke-width="1"/>
<line x1="672.60" y1="341.73" x2="669.60" y2="341.73" stroke="#262626" stroke-width="1"/>
<line x1="48.00" y1="338.86" x2="51.00" y2="338.86" stroke="#262626" stroke-width="1"/>
<line x1="672.60" y1="338.86" x2="669.60" y2="338.86" stroke="#262626" stroke-width="1"/>
<line x1="48.00" y1="336.30" x2="54.20" y2="336.30" stroke="#262626" stroke-width="1"/>
<line x1="672.60" y1="336.30" x2="666.40" y2="336.30" stroke="#262626" stroke-width="1"/>
<line x1="48.00" y1="319.44" x2="51.00" y2="319.44" stroke="#262626" stroke-width="1"/>
<line x1="672.60" y1="319.44" x2="669.60" y2="319.44" stroke="#262626" stroke-width="1"/>
<line x1="48.00" y1="309.58" x2="51.00" y2="309.58" stroke="#262626" stroke-width="1"/>
<line x1="672.60" y1="309.58" x2="669.60" y2="309.58" stroke="#262626" stroke-width="1"/>
<line x1="48.00" y1="302.58" x2="51.00" y2="302.58" stroke="#262626" stroke-width="1"/>
<line x1="672.60" y1="302.58" x2="669.60" y2="302.58" stroke="#262626" stroke-width="1"/>
<line x1="48.00" y1="297.16" x2="51.00" y2="297.16" stroke="#262626" stroke-width="1"/>
<line x1="672.60" y1="297.16" x2="669.60" y2="297.16" stroke="#262626" stroke-width="1"/>
<line x1="48.00" y1="292.72" x2="51.00" y2="292.72" stroke="#262626" stroke-width="1"/>
<line x1="672.60" y1="292.72" x2="669.60" y2="292.72" stroke="#262626" stroke-width="1"/>
<line x1="48.00" y1="288.97" x2="51.00" y2="288.97" stroke="#262626" stroke-width="1"/>
<line x1="672.60" y1="288.97" x2="669.60" y2="288.97" stroke="#262626" stroke-width="1"/>
<line x1="48.00" y1="285.73" x2="51.00" y2="285.73" stroke="#262626" stroke-width="1"/>
<line x1="672.60" y1="285.73" x2="669.60" y2="285.73" stroke="#262626" stroke-width="1"/>
<line x1="48.00" y1="282.86" x2="51.00" y2="282.86" stroke="#262626" stroke-width="1"/>
<line x1="672.60" y1="282.86" x2="669.60" y2="282.86" stroke="#262626" stroke-width="1"/>
<line x1="48.00" y1="280.30" x2="54.20" y2="280.30" stroke="#262626" stroke-width="1"/>
<line x1="672.60" y1="280.30" x2="666.40" y2="280.30" stroke="#262626" stroke-width="1"/>
<text x="21.60" y="509.80" font-size="13.5" fill="#4d4d4d" >10<tspan font-size="8.2" dy="-4.8">-5</tspan></text>
<text x="21.60" y="453.80" font-size="13.5" fill="#4d4d4d" >10<tspan font-size="8.2" dy="-4.8">-4</tspan></text>
<text x="21.60" y="397.80" font-size="13.5" fill="#4d4d4d" >10<tspan font-size="8.2" dy="-4.8">-3</tspan></text>
<text x="21.60" y="341.80" font-size="13.5" fill="#4d4d4d" >10<tspan font-size="8.2" dy="-4.8">-2</tspan></text>
<text x="21.60" y="285.80" font-size="13.5" fill="#4d4d4d" >10<tspan font-size="8.2" dy="-4.8">-1</tspan></text>
<text x="370.70" y="549.30" font-size="14" text-anchor="middle" fill="#4d4d4d" >Frequency (Hz)</text>
<text x="15.30" y="374.60" font-size="14" text-anchor="middle" fill="#4d4d4d" transform="rotate(-90 15.3 374.6)">Amplitude (a.u.)</text>
<text x="0.30" y="267.80" font-size="14.8" fill="#111" font-weight="bold" >(c)</text>
<text x="398.80" y="306.60" font-size="9.8" fill="#222" >ν<tspan font-size="5.8" dy="3.6">0</tspan><tspan dy="-3.6" dx="0.3">=</tspan><tspan dx="1.3">1.4 Hz</tspan></text>
<text x="476.60" y="384.00" font-size="9.8" fill="#222" >2ν<tspan font-size="5.8" dy="3.6">0</tspan></text>
<text x="545.00" y="384.00" font-size="9.8" fill="#222" >3ν<tspan font-size="5.8" dy="3.6">0</tspan></text>
<text x="582.30" y="336.40" font-size="9.8" fill="#222" >4ν<tspan font-size="5.8" dy="3.6">0</tspan></text>
<text x="612.20" y="292.70" font-size="9.8" fill="#222" >5ν<tspan font-size="5.8" dy="3.6">0</tspan><tspan dy="-3.6" dx="0.3">=ν</tspan><tspan font-size="5.8" dy="3.6">1</tspan></text>
<rect x="95.6" y="294.9" width="283.9" height="107.10000000000002" fill="#fff" stroke="#262626" stroke-width="1.1"/>
<path d="M236.2 344.9 241.1 333.7 246 323.3 250.8 314.3 255.6 307.4 260.3 302.7 265 300.7 269.7 301.5 274.2 305 278.7 310.9 283.1 319 287.3 328.8 291.4 339.7 295.5 351.1 299.3 362.3 303 372.7 306.6 381.7 310 388.6 313.2 393.3 316.3 395.3 319.2 394.5 321.8 391 324.3 385.1 326.6 377 328.6 367.2 330.4 356.3 332.1 344.9 333.4 333.7 334.6 323.3 335.5 314.3 336.3 307.4 336.7 302.7 337 300.7 337 301.5 336.7 305 336.3 310.9 335.5 319 334.6 328.8 333.4 339.7 332.1 351.1 330.4 362.3 328.6 372.7 326.6 381.7 324.3 388.6 321.8 393.3 319.2 395.3 316.3 394.5 313.2 391 310 385.1 306.6 377 303 367.2 299.3 356.3 295.5 344.9 291.4 333.7 287.3 323.3 283.1 314.3 278.7 307.4 274.2 302.7 269.7 300.7 265 301.5 260.3 305 255.6 310.9 250.8 319 246 328.8 241.1 339.7 236.2 351.1 231.4 362.3 226.5 372.7 221.7 381.7 216.9 388.6 212.1 393.3 207.4 395.3 202.8 394.5 198.2 391 193.8 385.1 189.4 377 185.2 367.2 181 356.3 177 344.9 173.1 333.7 169.4 323.3 165.9 314.3 162.5 307.4 159.2 302.7 156.2 300.7 153.3 301.5 150.6 305 148.2 310.9 145.9 319 143.9 328.8 142 339.7 140.4 351.1 139 362.3 137.9 372.7 136.9 381.7 136.2 388.6 135.7 393.3 135.5 395.3 135.5 394.5 135.7 391 136.2 385.1 136.9 377 137.9 367.2 139 356.3 140.4 344.9 142 333.7 143.9 323.3 145.9 314.3 148.2 307.4 150.6 302.7 153.3 300.7 156.2 301.5 159.2 305 162.5 310.9 165.9 319 169.4 328.8 173.1 339.7 177 351.1 181 362.3 185.2 372.7 189.4 381.7 193.8 388.6 198.2 393.3 202.8 395.3 207.4 394.5 212.1 391 216.9 385.1 221.7 377 226.5 367.2 231.4 356.3 236.2 344.9" fill="none" stroke="#eda548" stroke-width="0.45" stroke-opacity="0.56"/>
<path d="M236.8 343.1 241.7 331.6 246.6 321 251.4 312 256.2 305.1 261 300.6 265.7 298.9 270.4 300.1 274.9 304 279.4 310.5 283.8 319.1 288 329.4 292.2 340.8 296.2 352.6 300.1 364.2 303.8 374.7 307.4 383.8 310.8 390.7 314 395.1 317.1 396.8 319.9 395.7 322.6 391.8 325.1 385.3 327.3 376.6 329.4 366.3 331.2 354.9 332.9 343.1 334.3 331.6 335.4 321 336.4 312 337.1 305.1 337.5 300.6 337.8 298.9 337.8 300.1 337.5 304 337.1 310.5 336.4 319.1 335.4 329.4 334.3 340.8 332.9 352.6 331.2 364.2 329.4 374.7 327.3 383.8 325.1 390.7 322.6 395.1 319.9 396.8 317.1 395.7 314 391.8 310.8 385.3 307.4 376.6 303.8 366.3 300.1 354.9 296.2 343.1 292.2 331.6 288 321 283.8 312 279.4 305.1 274.9 300.6 270.4 298.9 265.7 300.1 261 304 256.2 310.5 251.4 319.1 246.6 329.4 241.7 340.8 236.8 352.6 232 364.2 227.1 374.7 222.3 383.8 217.4 390.7 212.7 395.1 208 396.8 203.3 395.7 198.8 391.8 194.3 385.3 189.9 376.6 185.7 366.3 181.5 354.9 177.5 343.1 173.6 331.6 169.9 321 166.3 312 162.9 305.1 159.7 300.6 156.6 298.9 153.8 300.1 151.1 304 148.6 310.5 146.3 319.1 144.3 329.4 142.4 340.8 140.8 352.6 139.4 364.2 138.3 374.7 137.3 383.8 136.6 390.7 136.1 395.1 135.9 396.8 135.9 395.7 136.1 391.8 136.6 385.3 137.3 376.6 138.3 366.3 139.4 354.9 140.8 343.1 142.4 331.6 144.3 321 146.3 312 148.6 305.1 151.1 300.6 153.8 298.9 156.6 300.1 159.7 304 162.9 310.5 166.3 319.1 169.9 329.4 173.6 340.8 177.5 352.6 181.5 364.2 185.7 374.7 189.9 383.8 194.3 390.7 198.8 395.1 203.3 396.8 208 395.7 212.7 391.8 217.4 385.3 222.3 376.6 227.1 366.3 232 354.9 236.8 343.1" fill="none" stroke="#eda548" stroke-width="0.45" stroke-opacity="0.56"/>
<path d="M236.3 332.5 241.3 322.1 246.2 313.1 251 306.1 255.9 301.5 260.7 299.6 265.4 300.5 270.1 304.2 274.7 310.3 279.2 318.7 283.6 328.7 287.9 339.8 292.1 351.4 296.2 362.7 300.1 373.2 303.8 382.2 307.4 389.2 310.9 393.8 314.1 395.7 317.2 394.7 320.1 391.1 322.8 384.9 325.3 376.6 327.6 366.6 329.6 355.5 331.5 343.9 333.1 332.5 334.5 322.1 335.7 313.1 336.7 306.1 337.4 301.5 337.8 299.6 338.1 300.5 338.1 304.2 337.8 310.3 337.4 318.7 336.7 328.7 335.7 339.8 334.5 351.4 333.1 362.7 331.5 373.2 329.6 382.2 327.6 389.2 325.3 393.8 322.8 395.7 320.1 394.7 317.2 391.1 314.1 384.9 310.9 376.6 307.4 366.6 303.8 355.5 300.1 343.9 296.2 332.5 292.1 322.1 287.9 313.1 283.6 306.1 279.2 301.5 274.7 299.6 270.1 300.5 265.4 304.2 260.7 310.3 255.9 318.7 251 328.7 246.2 339.8 241.3 351.4 236.3 362.7 231.4 373.2 226.5 382.2 221.6 389.2 216.8 393.8 212 395.7 207.2 394.7 202.6 391.1 198 384.9 193.5 376.6 189 366.6 184.7 355.5 180.6 343.9 176.5 332.5 172.6 322.1 168.9 313.1 165.3 306.1 161.8 301.5 158.6 299.6 155.5 300.5 152.6 304.2 149.9 310.3 147.4 318.7 145.1 328.7 143 339.8 141.2 351.4 139.6 362.7 138.1 373.2 137 382.2 136 389.2 135.3 393.8 134.8 395.7 134.6 394.7 134.6 391.1 134.8 384.9 135.3 376.6 136 366.6 137 355.5 138.1 343.9 139.6 332.5 141.2 322.1 143 313.1 145.1 306.1 147.4 301.5 149.9 299.6 152.6 300.5 155.5 304.2 158.6 310.3 161.8 318.7 165.3 328.7 168.9 339.8 172.6 351.4 176.5 362.7 180.6 373.2 184.7 382.2 189 389.2 193.5 393.8 198 395.7 202.6 394.7 207.2 391.1 212 384.9 216.8 376.6 221.6 366.6 226.5 355.5 231.4 343.9 236.3 332.5" fill="none" stroke="#eda548" stroke-width="0.45" stroke-opacity="0.56"/>
<path d="M236 341.4 241 330.3 245.9 320.3 250.7 311.9 255.6 305.6 260.4 301.8 265.1 300.7 269.8 302.4 274.4 306.7 278.9 313.5 283.3 322.2 287.6 332.5 291.8 343.7 295.8 355.2 299.7 366.2 303.5 376.2 307.1 384.6 310.5 390.9 313.8 394.7 316.9 395.8 319.8 394.1 322.5 389.8 325 383 327.2 374.3 329.3 364 331.2 352.8 332.8 341.4 334.2 330.3 335.4 320.3 336.3 311.9 337 305.6 337.5 301.8 337.7 300.7 337.7 302.4 337.5 306.7 337 313.5 336.3 322.2 335.4 332.5 334.2 343.7 332.8 355.2 331.2 366.2 329.3 376.2 327.2 384.6 325 390.9 322.5 394.7 319.8 395.8 316.9 394.1 313.8 389.8 310.5 383 307.1 374.3 303.5 364 299.7 352.8 295.8 341.4 291.8 330.3 287.6 320.3 283.3 311.9 278.9 305.6 274.4 301.8 269.8 300.7 265.1 302.4 260.4 306.7 255.6 313.5 250.7 322.2 245.9 332.5 241 343.7 236 355.2 231.1 366.2 226.2 376.2 221.3 384.6 216.5 390.9 211.7 394.7 206.9 395.8 202.3 394.1 197.7 389.8 193.2 383 188.8 374.3 184.5 364 180.3 352.8 176.2 341.4 172.3 330.3 168.6 320.3 165 311.9 161.5 305.6 158.3 301.8 155.2 300.7 152.3 302.4 149.6 306.7 147.1 313.5 144.8 322.2 142.8 332.5 140.9 343.7 139.3 355.2 137.9 366.2 136.7 376.2 135.8 384.6 135 390.9 134.6 394.7 134.3 395.8 134.3 394.1 134.6 389.8 135 383 135.8 374.3 136.7 364 137.9 352.8 139.3 341.4 140.9 330.3 142.8 320.3 144.8 311.9 147.1 305.6 149.6 301.8 152.3 300.7 155.2 302.4 158.3 306.7 161.5 313.5 165 322.2 168.6 332.5 172.3 343.7 176.2 355.2 180.3 366.2 184.5 376.2 188.8 384.6 193.2 390.9 197.7 394.7 202.3 395.8 206.9 394.1 211.7 389.8 216.5 383 221.3 374.3 226.2 364 231.1 352.8 236 341.4" fill="none" stroke="#eda548" stroke-width="0.45" stroke-opacity="0.56"/>
<path d="M237.4 331.1 242.3 320.8 247.2 312 252.1 305.3 256.9 301.1 261.7 299.6 266.4 300.9 271.1 304.9 275.7 311.5 280.2 320.2 284.6 330.5 288.9 341.8 293 353.4 297.1 364.8 301 375.1 304.7 383.9 308.3 390.6 311.7 394.8 315 396.3 318 395 320.9 390.9 323.6 384.4 326.1 375.7 328.4 365.4 330.4 354.1 332.3 342.5 333.9 331.1 335.3 320.8 336.5 312 337.4 305.3 338.2 301.1 338.6 299.6 338.9 300.9 338.9 304.9 338.6 311.5 338.2 320.2 337.4 330.5 336.5 341.8 335.3 353.4 333.9 364.8 332.3 375.1 330.4 383.9 328.4 390.6 326.1 394.8 323.6 396.3 320.9 395 318 390.9 315 384.4 311.7 375.7 308.3 365.4 304.7 354.1 301 342.5 297.1 331.1 293 320.8 288.9 312 284.6 305.3 280.2 301.1 275.7 299.6 271.1 300.9 266.4 304.9 261.7 311.5 256.9 320.2 252.1 330.5 247.2 341.8 242.3 353.4 237.4 364.8 232.5 375.1 227.6 383.9 222.7 390.6 217.9 394.8 213.1 396.3 208.4 395 203.7 390.9 199.1 384.4 194.6 375.7 190.2 365.4 186 354.1 181.8 342.5 177.8 331.1 173.9 320.8 170.1 312 166.5 305.3 163.1 301.1 159.8 299.6 156.8 300.9 153.9 304.9 151.2 311.5 148.7 320.2 146.4 330.5 144.4 341.8 142.5 353.4 140.9 364.8 139.5 375.1 138.3 383.9 137.4 390.6 136.7 394.8 136.2 396.3 135.9 395 135.9 390.9 136.2 384.4 136.7 375.7 137.4 365.4 138.3 354.1 139.5 342.5 140.9 331.1 142.5 320.8 144.4 312 146.4 305.3 148.7 301.1 151.2 299.6 153.9 300.9 156.8 304.9 159.8 311.5 163.1 320.2 166.5 330.5 170.1 341.8 173.9 353.4 177.8 364.8 181.8 375.1 186 383.9 190.2 390.6 194.6 394.8 199.1 396.3 203.7 395 208.4 390.9 213.1 384.4 217.9 375.7 222.7 365.4 227.6 354.1 232.5 342.5 237.4 331.1" fill="none" stroke="#eda548" stroke-width="0.45" stroke-opacity="0.56"/>
<path d="M236.8 324.6 241.6 315.2 246.5 307.7 251.3 302.6 256 300.1 260.8 300.4 265.4 303.5 270 309.2 274.6 317.2 279 327 283.4 338 287.6 349.6 291.7 361.2 295.7 372 299.5 381.4 303.2 388.9 306.8 394 310.2 396.5 313.4 396.1 316.4 393 319.3 387.3 321.9 379.3 324.4 369.6 326.6 358.5 328.7 346.9 330.5 335.4 332.1 324.6 333.5 315.2 334.6 307.7 335.6 302.6 336.3 300.1 336.7 300.4 337 303.5 337 309.2 336.7 317.2 336.3 327 335.6 338 334.6 349.6 333.5 361.2 332.1 372 330.5 381.4 328.7 388.9 326.6 394 324.4 396.5 321.9 396.1 319.3 393 316.4 387.3 313.4 379.3 310.2 369.6 306.8 358.5 303.2 346.9 299.5 335.4 295.7 324.6 291.7 315.2 287.6 307.7 283.4 302.6 279 300.1 274.6 300.4 270 303.5 265.4 309.2 260.8 317.2 256 327 251.3 338 246.5 349.6 241.6 361.2 236.8 372 231.9 381.4 227.1 388.9 222.3 394 217.5 396.5 212.8 396.1 208.1 393 203.5 387.3 199 379.3 194.6 369.6 190.2 358.5 186 346.9 181.9 335.4 177.9 324.6 174 315.2 170.3 307.7 166.8 302.6 163.4 300.1 160.2 300.4 157.2 303.5 154.3 309.2 151.7 317.2 149.2 327 147 338 144.9 349.6 143.1 361.2 141.5 372 140.1 381.4 138.9 388.9 138 394 137.3 396.5 136.9 396.1 136.6 393 136.6 387.3 136.9 379.3 137.3 369.6 138 358.5 138.9 346.9 140.1 335.4 141.5 324.6 143.1 315.2 144.9 307.7 147 302.6 149.2 300.1 151.7 300.4 154.3 303.5 157.2 309.2 160.2 317.2 163.4 327 166.8 338 170.3 349.6 174 361.2 177.9 372 181.9 381.4 186 388.9 190.2 394 194.6 396.5 199 396.1 203.5 393 208.1 387.3 212.8 379.3 217.5 369.6 222.3 358.5 227.1 346.9 231.9 335.4 236.8 324.6" fill="none" stroke="#eda548" stroke-width="0.45" stroke-opacity="0.56"/>
<path d="M237.1 321.1 242 312.2 246.9 305.4 251.7 301.1 256.5 299.6 261.3 300.9 266 304.9 270.7 311.5 275.2 320.2 279.7 330.5 284.1 341.8 288.3 353.6 292.5 365 296.5 375.4 300.4 384.3 304.1 391.1 307.7 395.3 311.1 396.9 314.3 395.6 317.4 391.6 320.2 385 322.9 376.3 325.4 366 327.7 354.7 329.7 342.9 331.6 331.5 333.2 321.1 334.6 312.2 335.7 305.4 336.7 301.1 337.4 299.6 337.9 300.9 338.1 304.9 338.1 311.5 337.9 320.2 337.4 330.5 336.7 341.8 335.7 353.6 334.6 365 333.2 375.4 331.6 384.3 329.7 391.1 327.7 395.3 325.4 396.9 322.9 395.6 320.2 391.6 317.4 385 314.3 376.3 311.1 366 307.7 354.7 304.1 342.9 300.4 331.5 296.5 321.1 292.5 312.2 288.3 305.4 284.1 301.1 279.7 299.6 275.2 300.9 270.7 304.9 266 311.5 261.3 320.2 256.5 330.5 251.7 341.8 246.9 353.6 242 365 237.1 375.4 232.3 384.3 227.4 391.1 222.5 395.3 217.7 396.9 213 395.6 208.3 391.6 203.6 385 199.1 376.3 194.6 366 190.2 354.7 185.9 342.9 181.8 331.5 177.8 321.1 173.9 312.2 170.2 305.4 166.6 301.1 163.2 299.6 160 300.9 156.9 304.9 154 311.5 151.4 320.2 148.9 330.5 146.6 341.8 144.6 353.6 142.7 365 141.1 375.4 139.7 384.3 138.5 391.1 137.6 395.3 136.9 396.9 136.4 395.6 136.2 391.6 136.2 385 136.4 376.3 136.9 366 137.6 354.7 138.5 342.9 139.7 331.5 141.1 321.1 142.7 312.2 144.6 305.4 146.6 301.1 148.9 299.6 151.4 300.9 154 304.9 156.9 311.5 160 320.2 163.2 330.5 166.6 341.8 170.2 353.6 173.9 365 177.8 375.4 181.8 384.3 185.9 391.1 190.2 395.3 194.6 396.9 199.1 395.6 203.6 391.6 208.3 385 213 376.3 217.7 366 222.5 354.7 227.4 342.9 232.3 331.5 237.1 321.1" fill="none" stroke="#eda548" stroke-width="0.45" stroke-opacity="0.56"/>
<path d="M236.6 324.4 241.4 315.2 246.3 307.9 251.1 303 255.9 300.7 260.6 301.1 265.3 304.3 269.9 310 274.5 318 278.9 327.7 283.3 338.6 287.5 350 291.6 361.4 295.6 372 299.5 381.2 303.2 388.5 306.7 393.4 310.1 395.7 313.3 395.3 316.4 392.1 319.2 386.4 321.9 378.4 324.3 368.7 326.6 357.8 328.6 346.3 330.5 335 332.1 324.4 333.5 315.2 334.6 307.9 335.6 303 336.3 300.7 336.7 301.1 337 304.3 337 310 336.7 318 336.3 327.7 335.6 338.6 334.6 350 333.5 361.4 332.1 372 330.5 381.2 328.6 388.5 326.6 393.4 324.3 395.7 321.9 395.3 319.2 392.1 316.4 386.4 313.3 378.4 310.1 368.7 306.7 357.8 303.2 346.3 299.5 335 295.6 324.4 291.6 315.2 287.5 307.9 283.3 303 278.9 300.7 274.5 301.1 269.9 304.3 265.3 310 260.6 318 255.9 327.7 251.1 338.6 246.3 350 241.4 361.4 236.6 372 231.7 381.2 226.9 388.5 222.1 393.4 217.3 395.7 212.6 395.3 207.9 392.1 203.3 386.4 198.7 378.4 194.3 368.7 189.9 357.8 185.7 346.3 181.6 335 177.6 324.4 173.7 315.2 170 307.9 166.5 303 163.1 300.7 159.9 301.1 156.8 304.3 154 310 151.3 318 148.9 327.7 146.6 338.6 144.6 350 142.7 361.4 141.1 372 139.7 381.2 138.6 388.5 137.6 393.4 136.9 395.7 136.5 395.3 136.2 392.1 136.2 386.4 136.5 378.4 136.9 368.7 137.6 357.8 138.6 346.3 139.7 335 141.1 324.4 142.7 315.2 144.6 307.9 146.6 303 148.9 300.7 151.3 301.1 154 304.3 156.8 310 159.9 318 163.1 327.7 166.5 338.6 170 350 173.7 361.4 177.6 372 181.6 381.2 185.7 388.5 189.9 393.4 194.3 395.7 198.7 395.3 203.3 392.1 207.9 386.4 212.6 378.4 217.3 368.7 222.1 357.8 226.9 346.3 231.7 335 236.6 324.4" fill="none" stroke="#eda548" stroke-width="0.45" stroke-opacity="0.56"/>
<path d="M236.3 308.3 241.2 302.8 246.1 299.9 250.9 299.9 255.8 302.6 260.6 307.9 265.3 315.6 270 325.2 274.6 336.1 279 347.6 283.4 359.2 287.7 370.2 291.9 379.8 295.9 387.7 299.8 393.2 303.6 396 307.2 396.1 310.6 393.4 313.9 388.1 316.9 380.4 319.8 370.8 322.5 359.9 325 348.3 327.3 336.7 329.3 325.8 331.2 316.1 332.8 308.3 334.2 302.8 335.4 299.9 336.3 299.9 337 302.6 337.5 307.9 337.8 315.6 337.8 325.2 337.5 336.1 337 347.6 336.3 359.2 335.4 370.2 334.2 379.8 332.8 387.7 331.2 393.2 329.3 396 327.3 396.1 325 393.4 322.5 388.1 319.8 380.4 316.9 370.8 313.9 359.9 310.6 348.3 307.2 336.7 303.6 325.8 299.8 316.1 295.9 308.3 291.9 302.8 287.7 299.9 283.4 299.9 279 302.6 274.6 307.9 270 315.6 265.3 325.2 260.6 336.1 255.8 347.6 250.9 359.2 246.1 370.2 241.2 379.8 236.3 387.7 231.4 393.2 226.5 396 221.6 396.1 216.8 393.4 212 388.1 207.2 380.4 202.6 370.8 198 359.9 193.5 348.3 189.1 336.7 184.8 325.8 180.6 316.1 176.6 308.3 172.7 302.8 169 299.9 165.4 299.9 161.9 302.6 158.7 307.9 155.6 315.6 152.7 325.2 150 336.1 147.5 347.6 145.3 359.2 143.2 370.2 141.4 379.8 139.7 387.7 138.3 393.2 137.1 396 136.2 396.1 135.5 393.4 135 388.1 134.8 380.4 134.8 370.8 135 359.9 135.5 348.3 136.2 336.7 137.1 325.8 138.3 316.1 139.7 308.3 141.4 302.8 143.2 299.9 145.3 299.9 147.5 302.6 150 307.9 152.7 315.6 155.6 325.2 158.7 336.1 161.9 347.6 165.4 359.2 169 370.2 172.7 379.8 176.6 387.7 180.6 393.2 184.8 396 189.1 396.1 193.5 393.4 198 388.1 202.6 380.4 207.2 370.8 212 359.9 216.8 348.3 221.6 336.7 226.5 325.8 231.4 316.1 236.3 308.3" fill="none" stroke="#eda548" stroke-width="0.45" stroke-opacity="0.56"/>
<path d="M237.5 317.1 242.4 309.4 247.3 303.9 252.1 301.1 256.9 300.9 261.7 303.5 266.4 308.7 271.1 316.1 275.7 325.5 280.1 336.1 284.5 347.4 288.8 358.8 292.9 369.5 297 379 300.8 386.7 304.6 392.1 308.2 395 311.6 395.2 314.8 392.6 317.9 387.4 320.8 379.9 323.4 370.6 325.9 360 328.2 348.6 330.2 337.3 332.1 326.5 333.7 317.1 335.1 309.4 336.3 303.9 337.2 301.1 337.9 300.9 338.4 303.5 338.6 308.7 338.6 316.1 338.4 325.5 337.9 336.1 337.2 347.4 336.3 358.8 335.1 369.5 333.7 379 332.1 386.7 330.2 392.1 328.2 395 325.9 395.2 323.4 392.6 320.8 387.4 317.9 379.9 314.8 370.6 311.6 360 308.2 348.6 304.6 337.3 300.8 326.5 297 317.1 292.9 309.4 288.8 303.9 284.5 301.1 280.1 300.9 275.7 303.5 271.1 308.7 266.4 316.1 261.7 325.5 256.9 336.1 252.1 347.4 247.3 358.8 242.4 369.5 237.5 379 232.6 386.7 227.7 392.1 222.9 395 218.1 395.2 213.3 392.6 208.6 387.4 203.9 379.9 199.4 370.6 194.9 360 190.5 348.6 186.2 337.3 182.1 326.5 178 317.1 174.2 309.4 170.4 303.9 166.8 301.1 163.4 300.9 160.2 303.5 157.1 308.7 154.3 316.1 151.6 325.5 149.1 336.1 146.8 347.4 144.8 358.8 142.9 369.5 141.3 379 139.9 386.7 138.7 392.1 137.8 395 137.1 395.2 136.6 392.6 136.4 387.4 136.4 379.9 136.6 370.6 137.1 360 137.8 348.6 138.7 337.3 139.9 326.5 141.3 317.1 142.9 309.4 144.8 303.9 146.8 301.1 149.1 300.9 151.6 303.5 154.3 308.7 157.1 316.1 160.2 325.5 163.4 336.1 166.8 347.4 170.4 358.8 174.2 369.5 178 379 182.1 386.7 186.2 392.1 190.5 395 194.9 395.2 199.4 392.6 203.9 387.4 208.6 379.9 213.3 370.6 218.1 360 222.9 348.6 227.7 337.3 232.6 326.5 237.5 317.1" fill="none" stroke="#eda548" stroke-width="0.45" stroke-opacity="0.56"/>
<path d="M236.8 309.7 241.6 303.9 246.4 300.8 251.2 300.5 255.9 302.9 260.6 307.9 265.2 315.3 269.7 324.6 274.2 335.3 278.6 346.7 282.9 358.2 287.1 369.2 291.2 378.9 295.1 386.9 298.9 392.6 302.6 395.7 306.1 396.1 309.4 393.7 312.6 388.6 315.6 381.2 318.4 371.9 321 361.2 323.5 349.8 325.7 338.3 327.7 327.3 329.5 317.6 331.1 309.7 332.5 303.9 333.6 300.8 334.5 300.5 335.2 302.9 335.7 307.9 335.9 315.3 335.9 324.6 335.7 335.3 335.2 346.7 334.5 358.2 333.6 369.2 332.5 378.9 331.1 386.9 329.5 392.6 327.7 395.7 325.7 396.1 323.5 393.7 321 388.6 318.4 381.2 315.6 371.9 312.6 361.2 309.4 349.8 306.1 338.3 302.6 327.3 298.9 317.6 295.1 309.7 291.2 303.9 287.1 300.8 282.9 300.5 278.6 302.9 274.2 307.9 269.7 315.3 265.2 324.6 260.6 335.3 255.9 346.7 251.2 358.2 246.4 369.2 241.6 378.9 236.8 386.9 232.1 392.6 227.3 395.7 222.5 396.1 217.8 393.7 213.1 388.6 208.5 381.2 203.9 371.9 199.5 361.2 195.1 349.8 190.8 338.3 186.6 327.3 182.5 317.6 178.6 309.7 174.8 303.9 171.1 300.8 167.6 300.5 164.3 302.9 161.1 307.9 158.1 315.3 155.3 324.6 152.6 335.3 150.2 346.7 148 358.2 146 369.2 144.2 378.9 142.6 386.9 141.2 392.6 140.1 395.7 139.1 396.1 138.4 393.7 138 388.6 137.8 381.2 137.8 371.9 138 361.2 138.4 349.8 139.1 338.3 140.1 327.3 141.2 317.6 142.6 309.7 144.2 303.9 146 300.8 148 300.5 150.2 302.9 152.6 307.9 155.3 315.3 158.1 324.6 161.1 335.3 164.3 346.7 167.6 358.2 171.1 369.2 174.8 378.9 178.6 386.9 182.5 392.6 186.6 395.7 190.8 396.1 195.1 393.7 199.5 388.6 203.9 381.2 208.5 371.9 213.1 361.2 217.8 349.8 222.5 338.3 227.3 327.3 232.1 317.6 236.8 309.7" fill="none" stroke="#eda548" stroke-width="0.45" stroke-opacity="0.56"/>
<path d="M235.8 308.3 240.6 303 245.5 300.2 250.4 300.3 255.2 303.1 260 308.5 264.7 316.2 269.4 325.8 273.9 336.6 278.4 348.1 282.8 359.6 287.1 370.5 291.2 380 295.3 387.6 299.1 393 302.9 395.7 306.5 395.7 309.9 392.9 313.1 387.5 316.2 379.8 319.1 370.2 321.7 359.4 324.2 347.8 326.5 336.3 328.6 325.5 330.4 316 332 308.3 333.4 303 334.6 300.2 335.5 300.3 336.2 303.1 336.7 308.5 337 316.2 337 325.8 336.7 336.6 336.2 348.1 335.5 359.6 334.6 370.5 333.4 380 332 387.6 330.4 393 328.6 395.7 326.5 395.7 324.2 392.9 321.7 387.5 319.1 379.8 316.2 370.2 313.1 359.4 309.9 347.8 306.5 336.3 302.9 325.5 299.1 316 295.3 308.3 291.2 303 287.1 300.2 282.8 300.3 278.4 303.1 273.9 308.5 269.4 316.2 264.7 325.8 260 336.6 255.2 348.1 250.4 359.6 245.5 370.5 240.6 380 235.8 387.6 230.9 393 226 395.7 221.1 395.7 216.3 392.9 211.5 387.5 206.8 379.8 202.2 370.2 197.6 359.4 193.1 347.8 188.7 336.3 184.4 325.5 180.3 316 176.3 308.3 172.4 303 168.6 300.2 165 300.3 161.6 303.1 158.4 308.5 155.3 316.2 152.4 325.8 149.8 336.6 147.3 348.1 145 359.6 143 370.5 141.1 380 139.5 387.6 138.1 393 136.9 395.7 136 395.7 135.3 392.9 134.8 387.5 134.6 379.8 134.6 370.2 134.8 359.4 135.3 347.8 136 336.3 136.9 325.5 138.1 316 139.5 308.3 141.1 303 143 300.2 145 300.3 147.3 303.1 149.8 308.5 152.4 316.2 155.3 325.8 158.4 336.6 161.6 348.1 165 359.6 168.6 370.5 172.4 380 176.3 387.6 180.3 393 184.4 395.7 188.7 395.7 193.1 392.9 197.6 387.5 202.2 379.8 206.8 370.2 211.5 359.4 216.3 347.8 221.1 336.3 226 325.5 230.9 316 235.8 308.3" fill="none" stroke="#eda548" stroke-width="0.45" stroke-opacity="0.56"/>
<path d="M236.6 314.8 241.5 307.4 246.4 302.4 251.3 300 256.1 300.3 260.9 303.5 265.6 309.2 270.3 317.2 274.9 327 279.4 338 283.8 349.5 288.1 361 292.2 371.7 296.3 381.1 300.2 388.5 303.9 393.5 307.5 395.9 310.9 395.6 314.2 392.4 317.3 386.7 320.1 378.7 322.8 368.9 325.3 357.9 327.6 346.4 329.7 334.9 331.5 324.2 333.1 314.8 334.5 307.4 335.7 302.4 336.7 300 337.4 300.3 337.8 303.5 338.1 309.2 338.1 317.2 337.8 327 337.4 338 336.7 349.5 335.7 361 334.5 371.7 333.1 381.1 331.5 388.5 329.7 393.5 327.6 395.9 325.3 395.6 322.8 392.4 320.1 386.7 317.3 378.7 314.2 368.9 310.9 357.9 307.5 346.4 303.9 334.9 300.2 324.2 296.3 314.8 292.2 307.4 288.1 302.4 283.8 300 279.4 300.3 274.9 303.5 270.3 309.2 265.6 317.2 260.9 327 256.1 338 251.3 349.5 246.4 361 241.5 371.7 236.6 381.1 231.7 388.5 226.8 393.5 221.9 395.9 217.1 395.6 212.3 392.4 207.6 386.7 202.9 378.7 198.3 368.9 193.8 357.9 189.4 346.4 185.1 334.9 181 324.2 176.9 314.8 173 307.4 169.3 302.4 165.7 300 162.3 300.3 159 303.5 155.9 309.2 153.1 317.2 150.4 327 147.9 338 145.6 349.5 143.5 361 141.7 371.7 140.1 381.1 138.7 388.5 137.5 393.5 136.5 395.9 135.8 395.6 135.4 392.4 135.1 386.7 135.1 378.7 135.4 368.9 135.8 357.9 136.5 346.4 137.5 334.9 138.7 324.2 140.1 314.8 141.7 307.4 143.5 302.4 145.6 300 147.9 300.3 150.4 303.5 153.1 309.2 155.9 317.2 159 327 162.3 338 165.7 349.5 169.3 361 173 371.7 176.9 381.1 181 388.5 185.1 393.5 189.4 395.9 193.8 395.6 198.3 392.4 202.9 386.7 207.6 378.7 212.3 368.9 217.1 357.9 221.9 346.4 226.8 334.9 231.7 324.2 236.6 314.8" fill="none" stroke="#eda548" stroke-width="0.45" stroke-opacity="0.56"/>
<path d="M236.7 306.9 241.6 302 246.6 299.7 251.5 300.3 256.4 303.7 261.2 309.7 266 318 270.7 328 275.3 339.3 279.9 351 284.3 362.7 288.6 373.5 292.8 382.9 296.9 390.2 300.8 395.2 304.6 397.5 308.3 396.9 311.7 393.5 315 387.5 318.1 379.2 321 369.2 323.7 357.9 326.2 346.1 328.5 334.5 330.6 323.7 332.5 314.3 334.1 306.9 335.6 302 336.7 299.7 337.7 300.3 338.4 303.7 338.9 309.7 339.1 318 339.1 328 338.9 339.3 338.4 351 337.7 362.7 336.7 373.5 335.6 382.9 334.1 390.2 332.5 395.2 330.6 397.5 328.5 396.9 326.2 393.5 323.7 387.5 321 379.2 318.1 369.2 315 357.9 311.7 346.1 308.3 334.5 304.6 323.7 300.8 314.3 296.9 306.9 292.8 302 288.6 299.7 284.3 300.3 279.9 303.7 275.3 309.7 270.7 318 266 328 261.2 339.3 256.4 351 251.5 362.7 246.6 373.5 241.6 382.9 236.7 390.2 231.7 395.2 226.8 397.5 221.9 396.9 217 393.5 212.1 387.5 207.4 379.2 202.7 369.2 198 357.9 193.5 346.1 189 334.5 184.7 323.7 180.5 314.3 176.4 306.9 172.5 302 168.7 299.7 165.1 300.3 161.6 303.7 158.3 309.7 155.2 318 152.3 328 149.6 339.3 147.1 351 144.8 362.7 142.7 373.5 140.8 382.9 139.2 390.2 137.8 395.2 136.6 397.5 135.6 396.9 134.9 393.5 134.4 387.5 134.2 379.2 134.2 369.2 134.4 357.9 134.9 346.1 135.6 334.5 136.6 323.7 137.8 314.3 139.2 306.9 140.8 302 142.7 299.7 144.8 300.3 147.1 303.7 149.6 309.7 152.3 318 155.2 328 158.3 339.3 161.6 351 165.1 362.7 168.7 373.5 172.5 382.9 176.4 390.2 180.5 395.2 184.7 397.5 189 396.9 193.5 393.5 198 387.5 202.7 379.2 207.4 369.2 212.1 357.9 217 346.1 221.9 334.5 226.8 323.7 231.7 314.3 236.7 306.9" fill="none" stroke="#eda548" stroke-width="0.45" stroke-opacity="0.56"/>
<path d="M236.3 307.9 241.1 302.9 245.9 300.5 250.6 300.9 255.4 304 260.1 309.6 264.7 317.5 269.3 327.2 273.8 338.1 278.2 349.6 282.5 360.9 286.7 371.5 290.8 380.8 294.7 388.2 298.5 393.2 302.2 395.6 305.7 395.2 309.1 392.1 312.3 386.4 315.3 378.5 318.1 368.8 320.7 358 323.2 346.5 325.4 335.1 327.4 324.5 329.2 315.3 330.8 307.9 332.2 302.9 333.4 300.5 334.3 300.9 335 304 335.4 309.6 335.7 317.5 335.7 327.2 335.4 338.1 335 349.6 334.3 360.9 333.4 371.5 332.2 380.8 330.8 388.2 329.2 393.2 327.4 395.6 325.4 395.2 323.2 392.1 320.7 386.4 318.1 378.5 315.3 368.8 312.3 358 309.1 346.5 305.7 335.1 302.2 324.5 298.5 315.3 294.7 307.9 290.8 302.9 286.7 300.5 282.5 300.9 278.2 304 273.8 309.6 269.3 317.5 264.7 327.2 260.1 338.1 255.4 349.6 250.6 360.9 245.9 371.5 241.1 380.8 236.3 388.2 231.5 393.2 226.7 395.6 221.9 395.2 217.2 392.1 212.5 386.4 207.8 378.5 203.3 368.8 198.8 358 194.4 346.5 190.1 335.1 185.9 324.5 181.8 315.3 177.8 307.9 174 302.9 170.3 300.5 166.8 300.9 163.4 304 160.3 309.6 157.3 317.5 154.4 327.2 151.8 338.1 149.4 349.6 147.1 360.9 145.1 371.5 143.3 380.8 141.7 388.2 140.3 393.2 139.2 395.6 138.2 395.2 137.6 392.1 137.1 386.4 136.9 378.5 136.9 368.8 137.1 358 137.6 346.5 138.2 335.1 139.2 324.5 140.3 315.3 141.7 307.9 143.3 302.9 145.1 300.5 147.1 300.9 149.4 304 151.8 309.6 154.4 317.5 157.3 327.2 160.3 338.1 163.4 349.6 166.8 360.9 170.3 371.5 174 380.8 177.8 388.2 181.8 393.2 185.9 395.6 190.1 395.2 194.4 392.1 198.8 386.4 203.3 378.5 207.8 368.8 212.5 358 217.2 346.5 221.9 335.1 226.7 324.5 231.5 315.3 236.3 307.9" fill="none" stroke="#eda548" stroke-width="0.45" stroke-opacity="0.56"/>
<path d="M236.7 303 241.7 300.8 246.7 301.4 251.7 304.7 256.6 310.5 261.5 318.5 266.3 328.3 271.1 339.2 275.7 350.7 280.3 362 284.8 372.5 289.2 381.6 293.4 388.8 297.5 393.6 301.5 395.8 305.3 395.2 309 391.9 312.5 386.1 315.8 378 318.9 368.3 321.9 357.3 324.6 345.9 327.1 334.6 329.5 324 331.6 314.9 333.4 307.8 335.1 303 336.5 300.8 337.7 301.4 338.7 304.7 339.4 310.5 339.9 318.5 340.1 328.3 340.1 339.2 339.9 350.7 339.4 362 338.7 372.5 337.7 381.6 336.5 388.8 335.1 393.6 333.4 395.8 331.6 395.2 329.5 391.9 327.1 386.1 324.6 378 321.9 368.3 318.9 357.3 315.8 345.9 312.5 334.6 309 324 305.3 314.9 301.5 307.8 297.5 303 293.4 300.8 289.2 301.4 284.8 304.7 280.3 310.5 275.7 318.5 271.1 328.3 266.3 339.2 261.5 350.7 256.6 362 251.7 372.5 246.7 381.6 241.7 388.8 236.7 393.6 231.7 395.8 226.7 395.2 221.8 391.9 216.9 386.1 212 378 207.1 368.3 202.4 357.3 197.7 345.9 193.1 334.6 188.7 324 184.3 314.9 180 307.8 175.9 303 171.9 300.8 168.1 301.4 164.5 304.7 161 310.5 157.7 318.5 154.5 328.3 151.6 339.2 148.9 350.7 146.3 362 144 372.5 141.9 381.6 140 388.8 138.3 393.6 136.9 395.8 135.7 395.2 134.8 391.9 134 386.1 133.6 378 133.3 368.3 133.3 357.3 133.6 345.9 134 334.6 134.8 324 135.7 314.9 136.9 307.8 138.3 303 140 300.8 141.9 301.4 144 304.7 146.3 310.5 148.9 318.5 151.6 328.3 154.5 339.2 157.7 350.7 161 362 164.5 372.5 168.1 381.6 171.9 388.8 175.9 393.6 180 395.8 184.3 395.2 188.7 391.9 193.1 386.1 197.7 378 202.4 368.3 207.1 357.3 212 345.9 216.9 334.6 221.8 324 226.7 314.9 231.7 307.8 236.7 303" fill="none" stroke="#eda548" stroke-width="0.45" stroke-opacity="0.56"/>
<path d="M236.1 300.8 241 299.2 245.9 300.5 250.8 304.6 255.6 311.2 260.4 320 265.2 330.4 269.9 341.9 274.4 353.7 279 365.2 283.4 375.7 287.7 384.6 291.8 391.4 295.9 395.7 299.8 397.3 303.6 396 307.2 391.9 310.6 385.3 313.8 376.5 316.9 366.1 319.8 354.6 322.5 342.8 325 331.3 327.3 320.8 329.4 311.9 331.2 305.1 332.9 300.8 334.3 299.2 335.4 300.5 336.4 304.6 337.1 311.2 337.6 320 337.8 330.4 337.8 341.9 337.6 353.7 337.1 365.2 336.4 375.7 335.4 384.6 334.3 391.4 332.9 395.7 331.2 397.3 329.4 396 327.3 391.9 325 385.3 322.5 376.5 319.8 366.1 316.9 354.6 313.8 342.8 310.6 331.3 307.2 320.8 303.6 311.9 299.8 305.1 295.9 300.8 291.8 299.2 287.7 300.5 283.4 304.6 279 311.2 274.4 320 269.9 330.4 265.2 341.9 260.4 353.7 255.6 365.2 250.8 375.7 245.9 384.6 241 391.4 236.1 395.7 231.2 397.3 226.3 396 221.4 391.9 216.5 385.3 211.7 376.5 207 366.1 202.3 354.6 197.7 342.8 193.2 331.3 188.8 320.8 184.5 311.9 180.3 305.1 176.3 300.8 172.4 299.2 168.6 300.5 165 304.6 161.6 311.2 158.3 320 155.2 330.4 152.3 341.9 149.6 353.7 147.2 365.2 144.9 375.7 142.8 384.6 140.9 391.4 139.3 395.7 137.9 397.3 136.7 396 135.8 391.9 135.1 385.3 134.6 376.5 134.4 366.1 134.4 354.6 134.6 342.8 135.1 331.3 135.8 320.8 136.7 311.9 137.9 305.1 139.3 300.8 140.9 299.2 142.8 300.5 144.9 304.6 147.2 311.2 149.6 320 152.3 330.4 155.2 341.9 158.3 353.7 161.6 365.2 165 375.7 168.6 384.6 172.4 391.4 176.3 395.7 180.3 397.3 184.5 396 188.8 391.9 193.2 385.3 197.7 376.5 202.3 366.1 207 354.6 211.7 342.8 216.5 331.3 221.4 320.8 226.3 311.9 231.2 305.1 236.1 300.8" fill="none" stroke="#eda548" stroke-width="0.45" stroke-opacity="0.56"/>
<path d="M235.8 301.3 240.7 300.4 245.6 302.4 250.5 306.9 255.3 313.8 260.1 322.7 264.8 333 269.4 344.2 274 355.5 278.5 366.4 282.9 376.2 287.2 384.3 291.3 390.3 295.4 393.8 299.2 394.6 303 392.6 306.6 388.1 310 381.2 313.2 372.3 316.3 362 319.2 350.8 321.9 339.5 324.3 328.6 326.6 318.8 328.7 310.7 330.5 304.7 332.2 301.3 333.6 300.4 334.7 302.4 335.7 306.9 336.4 313.8 336.8 322.7 337.1 333 337.1 344.2 336.8 355.5 336.4 366.4 335.7 376.2 334.7 384.3 333.6 390.3 332.2 393.8 330.5 394.6 328.7 392.6 326.6 388.1 324.3 381.2 321.9 372.3 319.2 362 316.3 350.8 313.2 339.5 310 328.6 306.6 318.8 303 310.7 299.2 304.7 295.4 301.3 291.3 300.4 287.2 302.4 282.9 306.9 278.5 313.8 274 322.7 269.4 333 264.8 344.2 260.1 355.5 255.3 366.4 250.5 376.2 245.6 384.3 240.7 390.3 235.8 393.8 230.9 394.6 226 392.6 221.2 388.1 216.4 381.2 211.6 372.3 206.9 362 202.2 350.8 197.6 339.5 193.1 328.6 188.8 318.8 184.5 310.7 180.3 304.7 176.3 301.3 172.4 300.4 168.7 302.4 165.1 306.9 161.7 313.8 158.4 322.7 155.3 333 152.5 344.2 149.8 355.5 147.3 366.4 145 376.2 143 384.3 141.1 390.3 139.5 393.8 138.1 394.6 136.9 392.6 136 388.1 135.3 381.2 134.8 372.3 134.6 362 134.6 350.8 134.8 339.5 135.3 328.6 136 318.8 136.9 310.7 138.1 304.7 139.5 301.3 141.1 300.4 143 302.4 145 306.9 147.3 313.8 149.8 322.7 152.5 333 155.3 344.2 158.4 355.5 161.7 366.4 165.1 376.2 168.7 384.3 172.4 390.3 176.3 393.8 180.3 394.6 184.5 392.6 188.8 388.1 193.1 381.2 197.6 372.3 202.2 362 206.9 350.8 211.6 339.5 216.4 328.6 221.2 318.8 226 310.7 230.9 304.7 235.8 301.3" fill="none" stroke="#eda548" stroke-width="0.45" stroke-opacity="0.56"/>
<path d="M235.5 300.1 240.4 301.1 245.3 304.9 250.1 311.2 255 319.6 259.7 329.7 264.4 340.9 269.1 352.4 273.7 363.8 278.1 374.2 282.5 383.1 286.8 389.9 291 394.4 295 396.1 298.9 395.1 302.6 391.3 306.2 385 309.6 376.6 312.8 366.5 315.9 355.3 318.8 343.7 321.4 332.4 323.9 322 326.2 313.1 328.3 306.2 330.1 301.8 331.7 300.1 333.1 301.1 334.3 304.9 335.2 311.2 335.9 319.6 336.4 329.7 336.6 340.9 336.6 352.4 336.4 363.8 335.9 374.2 335.2 383.1 334.3 389.9 333.1 394.4 331.7 396.1 330.1 395.1 328.3 391.3 326.2 385 323.9 376.6 321.4 366.5 318.8 355.3 315.9 343.7 312.8 332.4 309.6 322 306.2 313.1 302.6 306.2 298.9 301.8 295 300.1 291 301.1 286.8 304.9 282.5 311.2 278.1 319.6 273.7 329.7 269.1 340.9 264.4 352.4 259.7 363.8 255 374.2 250.1 383.1 245.3 389.9 240.4 394.4 235.5 396.1 230.6 395.1 225.8 391.3 220.9 385 216.1 376.6 211.3 366.5 206.6 355.3 201.9 343.7 197.4 332.4 192.9 322 188.5 313.1 184.2 306.2 180.1 301.8 176.1 300.1 172.2 301.1 168.4 304.9 164.9 311.2 161.4 319.6 158.2 329.7 155.1 340.9 152.3 352.4 149.6 363.8 147.1 374.2 144.8 383.1 142.8 389.9 140.9 394.4 139.3 396.1 137.9 395.1 136.7 391.3 135.8 385 135.1 376.6 134.6 366.5 134.4 355.3 134.4 343.7 134.6 332.4 135.1 322 135.8 313.1 136.7 306.2 137.9 301.8 139.3 300.1 140.9 301.1 142.8 304.9 144.8 311.2 147.1 319.6 149.6 329.7 152.3 340.9 155.1 352.4 158.2 363.8 161.4 374.2 164.9 383.1 168.4 389.9 172.2 394.4 176.1 396.1 180.1 395.1 184.2 391.3 188.5 385 192.9 376.6 197.4 366.5 201.9 355.3 206.6 343.7 211.3 332.4 216.1 322 220.9 313.1 225.8 306.2 230.6 301.8 235.5 300.1" fill="none" stroke="#eda548" stroke-width="0.45" stroke-opacity="0.56"/>
<path d="M237 301 241.9 301.5 246.7 304.8 251.5 310.6 256.2 318.5 260.9 328.2 265.6 339.1 270.2 350.5 274.7 361.8 279.1 372.3 283.5 381.4 287.7 388.6 291.8 393.5 295.7 395.7 299.6 395.2 303.3 391.9 306.8 386.2 310.2 378.2 313.4 368.5 316.4 357.6 319.2 346.2 321.9 334.9 324.3 324.4 326.6 315.3 328.6 308.1 330.4 303.3 332 301 333.4 301.5 334.6 304.8 335.5 310.6 336.2 318.5 336.6 328.2 336.9 339.1 336.9 350.5 336.6 361.8 336.2 372.3 335.5 381.4 334.6 388.6 333.4 393.5 332 395.7 330.4 395.2 328.6 391.9 326.6 386.2 324.3 378.2 321.9 368.5 319.2 357.6 316.4 346.2 313.4 334.9 310.2 324.4 306.8 315.3 303.3 308.1 299.6 303.3 295.7 301 291.8 301.5 287.7 304.8 283.5 310.6 279.1 318.5 274.7 328.2 270.2 339.1 265.6 350.5 260.9 361.8 256.2 372.3 251.5 381.4 246.7 388.6 241.9 393.5 237 395.7 232.2 395.2 227.4 391.9 222.6 386.2 217.9 378.2 213.2 368.5 208.5 357.6 203.9 346.2 199.4 334.9 195 324.4 190.6 315.3 186.4 308.1 182.3 303.3 178.4 301 174.5 301.5 170.8 304.8 167.3 310.6 163.9 318.5 160.7 328.2 157.7 339.1 154.9 350.5 152.2 361.8 149.8 372.3 147.5 381.4 145.5 388.6 143.7 393.5 142.1 395.7 140.7 395.2 139.5 391.9 138.6 386.2 137.9 378.2 137.5 368.5 137.2 357.6 137.2 346.2 137.5 334.9 137.9 324.4 138.6 315.3 139.5 308.1 140.7 303.3 142.1 301 143.7 301.5 145.5 304.8 147.5 310.6 149.8 318.5 152.2 328.2 154.9 339.1 157.7 350.5 160.7 361.8 163.9 372.3 167.3 381.4 170.8 388.6 174.5 393.5 178.4 395.7 182.3 395.2 186.4 391.9 190.6 386.2 195 378.2 199.4 368.5 203.9 357.6 208.5 346.2 213.2 334.9 217.9 324.4 222.6 315.3 227.4 308.1 232.2 303.3 237 301" fill="none" stroke="#eda548" stroke-width="0.45" stroke-opacity="0.56"/>
<path d="M236.7 300.7 241.6 303 246.5 307.9 251.4 315.2 256.2 324.4 261 334.9 265.7 346.3 270.4 357.7 275 368.6 279.5 378.3 283.9 386.3 288.1 392 292.3 395.2 296.3 395.7 300.2 393.4 304 388.5 307.6 381.2 311 372 314.2 361.5 317.3 350.1 320.2 338.7 322.9 327.8 325.4 318.1 327.6 310.1 329.7 304.4 331.6 301.2 333.2 300.7 334.6 303 335.8 307.9 336.7 315.2 337.4 324.4 337.9 334.9 338.1 346.3 338.1 357.7 337.9 368.6 337.4 378.3 336.7 386.3 335.8 392 334.6 395.2 333.2 395.7 331.6 393.4 329.7 388.5 327.6 381.2 325.4 372 322.9 361.5 320.2 350.1 317.3 338.7 314.2 327.8 311 318.1 307.6 310.1 304 304.4 300.2 301.2 296.3 300.7 292.3 303 288.1 307.9 283.9 315.2 279.5 324.4 275 334.9 270.4 346.3 265.7 357.7 261 368.6 256.2 378.3 251.4 386.3 246.5 392 241.6 395.2 236.7 395.7 231.8 393.4 226.9 388.5 222.1 381.2 217.3 372 212.5 361.5 207.7 350.1 203.1 338.7 198.5 327.8 194 318.1 189.6 310.1 185.3 304.4 181.2 301.2 177.1 300.7 173.2 303 169.5 307.9 165.9 315.2 162.5 324.4 159.2 334.9 156.2 346.3 153.3 357.7 150.6 368.6 148.1 378.3 145.8 386.3 143.8 392 141.9 395.2 140.3 395.7 138.9 393.4 137.7 388.5 136.8 381.2 136.1 372 135.6 361.5 135.3 350.1 135.3 338.7 135.6 327.8 136.1 318.1 136.8 310.1 137.7 304.4 138.9 301.2 140.3 300.7 141.9 303 143.8 307.9 145.8 315.2 148.1 324.4 150.6 334.9 153.3 346.3 156.2 357.7 159.2 368.6 162.5 378.3 165.9 386.3 169.5 392 173.2 395.2 177.1 395.7 181.2 393.4 185.3 388.5 189.6 381.2 194 372 198.5 361.5 203.1 350.1 207.7 338.7 212.5 327.8 217.3 318.1 222.1 310.1 226.9 304.4 231.8 301.2 236.7 300.7" fill="none" stroke="#eda548" stroke-width="0.45" stroke-opacity="0.56"/>
<path d="M236.6 301.3 241.5 305.1 246.4 311.5 251.2 320 256 330.1 260.8 341.2 265.5 352.8 270.1 364.1 274.7 374.4 279.2 383.2 283.5 390 287.8 394.3 292 395.9 296 394.8 299.8 390.9 303.6 384.5 307.1 376 310.6 365.9 313.8 354.8 316.8 343.2 319.7 332 322.4 321.6 324.9 312.8 327.1 306.1 329.2 301.7 331 300.1 332.6 301.3 334 305.1 335.2 311.5 336.1 320 336.8 330.1 337.3 341.2 337.5 352.8 337.5 364.1 337.3 374.4 336.8 383.2 336.1 390 335.2 394.3 334 395.9 332.6 394.8 331 390.9 329.2 384.5 327.1 376 324.9 365.9 322.4 354.8 319.7 343.2 316.8 332 313.8 321.6 310.6 312.8 307.1 306.1 303.6 301.7 299.8 300.1 296 301.3 292 305.1 287.8 311.5 283.5 320 279.2 330.1 274.7 341.2 270.1 352.8 265.5 364.1 260.8 374.4 256 383.2 251.2 390 246.4 394.3 241.5 395.9 236.6 394.8 231.8 390.9 226.9 384.5 222 376 217.2 365.9 212.5 354.8 207.8 343.2 203.1 332 198.6 321.6 194.1 312.8 189.7 306.1 185.5 301.7 181.3 300.1 177.3 301.3 173.4 305.1 169.7 311.5 166.1 320 162.7 330.1 159.5 341.2 156.4 352.8 153.6 364.1 150.9 374.4 148.4 383.2 146.1 390 144.1 394.3 142.2 395.9 140.6 394.8 139.2 390.9 138.1 384.5 137.1 376 136.4 365.9 136 354.8 135.7 343.2 135.7 332 136 321.6 136.4 312.8 137.1 306.1 138.1 301.7 139.2 300.1 140.6 301.3 142.2 305.1 144.1 311.5 146.1 320 148.4 330.1 150.9 341.2 153.6 352.8 156.4 364.1 159.5 374.4 162.7 383.2 166.1 390 169.7 394.3 173.4 395.9 177.3 394.8 181.3 390.9 185.5 384.5 189.7 376 194.1 365.9 198.6 354.8 203.1 343.2 207.8 332 212.5 321.6 217.2 312.8 222 306.1 226.9 301.7 231.8 300.1 236.6 301.3" fill="none" stroke="#eda548" stroke-width="0.45" stroke-opacity="0.56"/>
<path d="M237.8 305.6 242.7 312.1 247.6 320.7 252.5 331 257.3 342.2 262.1 353.9 266.8 365.2 271.5 375.6 276.1 384.3 280.6 391.1 285 395.3 289.3 396.9 293.4 395.6 297.5 391.6 301.4 385.1 305.1 376.5 308.7 366.3 312.1 355 315.4 343.4 318.4 332.1 321.3 321.7 324 312.9 326.5 306.2 328.8 301.9 330.8 300.4 332.7 301.6 334.3 305.6 335.7 312.1 336.9 320.7 337.8 331 338.5 342.2 339 353.9 339.2 365.2 339.2 375.6 339 384.3 338.5 391.1 337.8 395.3 336.9 396.9 335.7 395.6 334.3 391.6 332.7 385.1 330.8 376.5 328.8 366.3 326.5 355 324 343.4 321.3 332.1 318.4 321.7 315.4 312.9 312.1 306.2 308.7 301.9 305.1 300.4 301.4 301.6 297.5 305.6 293.4 312.1 289.3 320.7 285 331 280.6 342.2 276.1 353.9 271.5 365.2 266.8 375.6 262.1 384.3 257.3 391.1 252.5 395.3 247.6 396.9 242.7 395.6 237.8 391.6 232.9 385.1 228.1 376.5 223.2 366.3 218.4 355 213.6 343.4 208.8 332.1 204.2 321.7 199.6 312.9 195.1 306.2 190.7 301.9 186.4 300.4 182.3 301.6 178.2 305.6 174.3 312.1 170.6 320.7 167 331 163.6 342.2 160.3 353.9 157.3 365.2 154.4 375.6 151.7 384.3 149.2 391.1 146.9 395.3 144.9 396.9 143 395.6 141.4 391.6 140 385.1 138.8 376.5 137.9 366.3 137.2 355 136.7 343.4 136.5 332.1 136.5 321.7 136.7 312.9 137.2 306.2 137.9 301.9 138.8 300.4 140 301.6 141.4 305.6 143 312.1 144.9 320.7 146.9 331 149.2 342.2 151.7 353.9 154.4 365.2 157.3 375.6 160.3 384.3 163.6 391.1 167 395.3 170.6 396.9 174.3 395.6 178.2 391.6 182.3 385.1 186.4 376.5 190.7 366.3 195.1 355 199.6 343.4 204.2 332.1 208.8 321.7 213.6 312.9 218.4 306.2 223.2 301.9 228.1 300.4 232.9 301.6 237.8 305.6" fill="none" stroke="#eda548" stroke-width="0.45" stroke-opacity="0.56"/>
<path d="M237.6 300.9 242.5 304.3 247.4 310.2 252.3 318.5 257.2 328.4 261.9 339.6 266.7 351.2 271.4 362.7 275.9 373.4 280.4 382.7 284.8 389.9 289.1 394.8 293.3 397 297.3 396.3 301.2 392.9 305 386.9 308.6 378.7 312 368.8 315.3 357.6 318.3 346 321.2 334.5 323.9 323.8 326.4 314.5 328.7 307.3 330.8 302.4 332.6 300.2 334.2 300.9 335.6 304.3 336.8 310.2 337.8 318.5 338.5 328.4 338.9 339.6 339.2 351.2 339.2 362.7 338.9 373.4 338.5 382.7 337.8 389.9 336.8 394.8 335.6 397 334.2 396.3 332.6 392.9 330.8 386.9 328.7 378.7 326.4 368.8 323.9 357.6 321.2 346 318.3 334.5 315.3 323.8 312 314.5 308.6 307.3 305 302.4 301.2 300.2 297.3 300.9 293.3 304.3 289.1 310.2 284.8 318.5 280.4 328.4 275.9 339.6 271.4 351.2 266.7 362.7 261.9 373.4 257.2 382.7 252.3 389.9 247.4 394.8 242.5 397 237.6 396.3 232.7 392.9 227.8 386.9 223 378.7 218.1 368.8 213.3 357.6 208.6 346 203.9 334.5 199.3 323.8 194.8 314.5 190.4 307.3 186.2 302.4 182 300.2 177.9 300.9 174 304.3 170.3 310.2 166.7 318.5 163.3 328.4 160 339.6 156.9 351.2 154.1 362.7 151.4 373.4 148.9 382.7 146.6 389.9 144.5 394.8 142.7 397 141.1 396.3 139.6 392.9 138.5 386.9 137.5 378.7 136.8 368.8 136.3 357.6 136.1 346 136.1 334.5 136.3 323.8 136.8 314.5 137.5 307.3 138.5 302.4 139.6 300.2 141.1 300.9 142.7 304.3 144.5 310.2 146.6 318.5 148.9 328.4 151.4 339.6 154.1 351.2 156.9 362.7 160 373.4 163.3 382.7 166.7 389.9 170.3 394.8 174 397 177.9 396.3 182 392.9 186.2 386.9 190.4 378.7 194.8 368.8 199.3 357.6 203.9 346 208.6 334.5 213.3 323.8 218.1 314.5 223 307.3 227.8 302.4 232.7 300.2 237.6 300.9" fill="none" stroke="#eda548" stroke-width="0.45" stroke-opacity="0.56"/>
<path d="M236.8 306.5 241.7 313 246.5 321.6 251.3 331.8 256.1 343 260.8 354.4 265.4 365.5 270 375.6 274.6 384.1 279 390.6 283.3 394.5 287.6 395.8 291.7 394.4 295.6 390.3 299.5 383.7 303.2 375.1 306.7 364.9 310.1 353.7 313.3 342.3 316.3 331.2 319.2 321.1 321.8 312.6 324.3 306.1 326.5 302.2 328.6 300.9 330.4 302.3 332 306.5 333.4 313 334.5 321.6 335.5 331.8 336.2 343 336.6 354.4 336.9 365.5 336.9 375.6 336.6 384.1 336.2 390.6 335.5 394.5 334.5 395.8 333.4 394.4 332 390.3 330.4 383.7 328.6 375.1 326.5 364.9 324.3 353.7 321.8 342.3 319.2 331.2 316.3 321.1 313.3 312.6 310.1 306.1 306.7 302.2 303.2 300.9 299.5 302.3 295.6 306.5 291.7 313 287.6 321.6 283.3 331.8 279 343 274.6 354.4 270 365.5 265.4 375.6 260.8 384.1 256.1 390.6 251.3 394.5 246.5 395.8 241.7 394.4 236.8 390.3 232 383.7 227.2 375.1 222.4 364.9 217.6 353.7 212.9 342.3 208.2 331.2 203.6 321.1 199.1 312.6 194.7 306.1 190.3 302.2 186.1 300.9 182 302.3 178 306.5 174.2 313 170.5 321.6 166.9 331.8 163.6 343 160.4 354.4 157.3 365.5 154.5 375.6 151.8 384.1 149.4 390.6 147.1 394.5 145.1 395.8 143.3 394.4 141.7 390.3 140.3 383.7 139.1 375.1 138.2 364.9 137.5 353.7 137 342.3 136.8 331.2 136.8 321.1 137 312.6 137.5 306.1 138.2 302.2 139.1 300.9 140.3 302.3 141.7 306.5 143.3 313 145.1 321.6 147.1 331.8 149.4 343 151.8 354.4 154.5 365.5 157.3 375.6 160.4 384.1 163.6 390.6 166.9 394.5 170.5 395.8 174.2 394.4 178 390.3 182 383.7 186.1 375.1 190.3 364.9 194.7 353.7 199.1 342.3 203.6 331.2 208.2 321.1 212.9 312.6 217.6 306.1 222.4 302.2 227.2 300.9 232 302.3 236.8 306.5" fill="none" stroke="#eda548" stroke-width="0.45" stroke-opacity="0.56"/>
<path d="M236.7 304.2 241.6 309.9 246.4 317.8 251.3 327.4 256.1 338.3 260.8 349.8 265.5 361.2 270.1 371.8 274.7 381.1 279.2 388.4 283.5 393.5 287.8 395.9 291.9 395.5 295.9 392.4 299.8 386.7 303.5 378.8 307.1 369.2 310.5 358.3 313.7 346.8 316.7 335.4 319.6 324.8 322.3 315.5 324.7 308.2 327 303.1 329 300.7 330.9 301.1 332.5 304.2 333.9 309.9 335 317.8 336 327.4 336.7 338.3 337.2 349.8 337.4 361.2 337.4 371.8 337.2 381.1 336.7 388.4 336 393.5 335 395.9 333.9 395.5 332.5 392.4 330.9 386.7 329 378.8 327 369.2 324.7 358.3 322.3 346.8 319.6 335.4 316.7 324.8 313.7 315.5 310.5 308.2 307.1 303.1 303.5 300.7 299.8 301.1 295.9 304.2 291.9 309.9 287.8 317.8 283.5 327.4 279.2 338.3 274.7 349.8 270.1 361.2 265.5 371.8 260.8 381.1 256.1 388.4 251.3 393.5 246.4 395.9 241.6 395.5 236.7 392.4 231.9 386.7 227 378.8 222.2 369.2 217.4 358.3 212.6 346.8 207.9 335.4 203.3 324.8 198.8 315.5 194.3 308.2 189.9 303.1 185.7 300.7 181.6 301.1 177.5 304.2 173.7 309.9 170 317.8 166.4 327.4 163 338.3 159.8 349.8 156.7 361.2 153.9 371.8 151.2 381.1 148.7 388.4 146.5 393.5 144.4 395.9 142.6 395.5 141 392.4 139.6 386.7 138.4 378.8 137.5 369.2 136.8 358.3 136.3 346.8 136.1 335.4 136.1 324.8 136.3 315.5 136.8 308.2 137.5 303.1 138.4 300.7 139.6 301.1 141 304.2 142.6 309.9 144.4 317.8 146.5 327.4 148.7 338.3 151.2 349.8 153.9 361.2 156.7 371.8 159.8 381.1 163 388.4 166.4 393.5 170 395.9 173.7 395.5 177.5 392.4 181.6 386.7 185.7 378.8 189.9 369.2 194.3 358.3 198.8 346.8 203.3 335.4 207.9 324.8 212.6 315.5 217.4 308.2 222.2 303.1 227 300.7 231.9 301.1 236.7 304.2" fill="none" stroke="#eda548" stroke-width="0.45" stroke-opacity="0.56"/>
<path d="M237.5 306.6 242.3 313.9 247.1 323.2 251.9 334 256.7 345.5 261.4 357.3 266.1 368.4 270.7 378.5 275.2 386.7 279.6 392.7 284 396.1 288.2 396.8 292.3 394.6 296.3 389.7 300.1 382.4 303.8 373.1 307.3 362.4 310.7 350.8 313.9 339.1 317 327.9 319.8 317.9 322.4 309.6 324.9 303.6 327.1 300.2 329.2 299.6 331 301.8 332.6 306.6 334 313.9 335.1 323.2 336.1 334 336.8 345.5 337.2 357.3 337.5 368.4 337.5 378.5 337.2 386.7 336.8 392.7 336.1 396.1 335.1 396.8 334 394.6 332.6 389.7 331 382.4 329.2 373.1 327.1 362.4 324.9 350.8 322.4 339.1 319.8 327.9 317 317.9 313.9 309.6 310.7 303.6 307.3 300.2 303.8 299.6 300.1 301.8 296.3 306.6 292.3 313.9 288.2 323.2 284 334 279.6 345.5 275.2 357.3 270.7 368.4 266.1 378.5 261.4 386.7 256.7 392.7 251.9 396.1 247.1 396.8 242.3 394.6 237.5 389.7 232.7 382.4 227.8 373.1 223 362.4 218.3 350.8 213.6 339.1 208.9 327.9 204.3 317.9 199.8 309.6 195.4 303.6 191 300.2 186.8 299.6 182.7 301.8 178.7 306.6 174.9 313.9 171.2 323.2 167.6 334 164.3 345.5 161.1 357.3 158 368.4 155.2 378.5 152.6 386.7 150.1 392.7 147.9 396.1 145.8 396.8 144 394.6 142.4 389.7 141 382.4 139.9 373.1 138.9 362.4 138.2 350.8 137.8 339.1 137.5 327.9 137.5 317.9 137.8 309.6 138.2 303.6 138.9 300.2 139.9 299.6 141 301.8 142.4 306.6 144 313.9 145.8 323.2 147.9 334 150.1 345.5 152.6 357.3 155.2 368.4 158 378.5 161.1 386.7 164.3 392.7 167.6 396.1 171.2 396.8 174.9 394.6 178.7 389.7 182.7 382.4 186.8 373.1 191 362.4 195.4 350.8 199.8 339.1 204.3 327.9 208.9 317.9 213.6 309.6 218.3 303.6 223 300.2 227.8 299.6 232.7 301.8 237.5 306.6" fill="none" stroke="#eda548" stroke-width="0.45" stroke-opacity="0.56"/>
<path d="M236.9 313 241.8 322.1 246.7 332.6 251.6 344 256.4 355.7 261.2 366.9 265.9 377 270.6 385.4 275.2 391.7 279.7 395.4 284 396.3 288.3 394.5 292.5 389.9 296.5 382.9 300.4 373.9 304.2 363.4 307.7 351.9 311.2 340.3 314.4 329.1 317.5 319 320.4 310.5 323 304.3 325.5 300.6 327.8 299.6 329.9 301.5 331.7 306 333.3 313 334.7 322.1 335.9 332.6 336.9 344 337.6 355.7 338 366.9 338.3 377 338.3 385.4 338 391.7 337.6 395.4 336.9 396.3 335.9 394.5 334.7 389.9 333.3 382.9 331.7 373.9 329.9 363.4 327.8 351.9 325.5 340.3 323 329.1 320.4 319 317.5 310.5 314.4 304.3 311.2 300.6 307.7 299.6 304.2 301.5 300.4 306 296.5 313 292.5 322.1 288.3 332.6 284 344 279.7 355.7 275.2 366.9 270.6 377 265.9 385.4 261.2 391.7 256.4 395.4 251.6 396.3 246.7 394.5 241.8 389.9 236.9 382.9 232 373.9 227.2 363.4 222.3 351.9 217.5 340.3 212.7 329.1 208 319 203.3 310.5 198.7 304.3 194.2 300.6 189.8 299.6 185.6 301.5 181.4 306 177.4 313 173.5 322.1 169.7 332.6 166.1 344 162.7 355.7 159.5 366.9 156.4 377 153.5 385.4 150.8 391.7 148.4 395.4 146.1 396.3 144 394.5 142.2 389.9 140.5 382.9 139.1 373.9 138 363.4 137 351.9 136.3 340.3 135.8 329.1 135.6 319 135.6 310.5 135.8 304.3 136.3 300.6 137 299.6 138 301.5 139.1 306 140.5 313 142.2 322.1 144 332.6 146.1 344 148.4 355.7 150.8 366.9 153.5 377 156.4 385.4 159.5 391.7 162.7 395.4 166.1 396.3 169.7 394.5 173.5 389.9 177.4 382.9 181.4 373.9 185.6 363.4 189.8 351.9 194.2 340.3 198.7 329.1 203.3 319 208 310.5 212.7 304.3 217.5 300.6 222.3 299.6 227.2 301.5 232 306 236.9 313" fill="none" stroke="#eda548" stroke-width="0.45" stroke-opacity="0.56"/>
<path d="M237.7 315.8 242.6 324.9 247.5 335.4 252.4 346.7 257.2 358.1 262 369 266.8 378.7 271.5 386.7 276.1 392.4 280.6 395.7 285 396.2 289.3 393.9 293.5 389.1 297.5 381.9 301.4 372.7 305.2 362.2 308.8 350.9 312.2 339.5 315.5 328.6 318.6 318.9 321.5 311 324.2 305.2 326.7 302 329 301.5 331 303.7 332.9 308.6 334.5 315.8 335.9 324.9 337.1 335.4 338 346.7 338.8 358.1 339.2 369 339.5 378.7 339.5 386.7 339.2 392.4 338.8 395.7 338 396.2 337.1 393.9 335.9 389.1 334.5 381.9 332.9 372.7 331 362.2 329 350.9 326.7 339.5 324.2 328.6 321.5 318.9 318.6 311 315.5 305.2 312.2 302 308.8 301.5 305.2 303.7 301.4 308.6 297.5 315.8 293.5 324.9 289.3 335.4 285 346.7 280.6 358.1 276.1 369 271.5 378.7 266.8 386.7 262 392.4 257.2 395.7 252.4 396.2 247.5 393.9 242.6 389.1 237.7 381.9 232.8 372.7 227.9 362.2 223 350.9 218.1 339.5 213.3 328.6 208.6 318.9 203.9 311 199.3 305.2 194.8 302 190.4 301.5 186.1 303.7 181.9 308.6 177.8 315.8 173.9 324.9 170.2 335.4 166.6 346.7 163.1 358.1 159.9 369 156.8 378.7 153.9 386.7 151.2 392.4 148.7 395.7 146.4 396.2 144.3 393.9 142.5 389.1 140.8 381.9 139.4 372.7 138.3 362.2 137.3 350.9 136.6 339.5 136.1 328.6 135.9 318.9 135.9 311 136.1 305.2 136.6 302 137.3 301.5 138.3 303.7 139.4 308.6 140.8 315.8 142.5 324.9 144.3 335.4 146.4 346.7 148.7 358.1 151.2 369 153.9 378.7 156.8 386.7 159.9 392.4 163.1 395.7 166.6 396.2 170.2 393.9 173.9 389.1 177.8 381.9 181.9 372.7 186.1 362.2 190.4 350.9 194.8 339.5 199.3 328.6 203.9 318.9 208.6 311 213.3 305.2 218.1 302 223 301.5 227.9 303.7 232.8 308.6 237.7 315.8" fill="none" stroke="#eda548" stroke-width="0.45" stroke-opacity="0.56"/>
<path d="M236.5 322.2 241.5 332.8 246.4 344.2 251.4 355.9 256.2 367.1 261.1 377.2 265.9 385.6 270.6 391.8 275.2 395.5 279.8 396.4 284.2 394.5 288.5 389.9 292.8 382.9 296.8 373.8 300.8 363.3 304.6 351.8 308.2 340.2 311.7 328.9 315 318.8 318.1 310.4 321 304.2 323.7 300.6 326.2 299.6 328.5 301.5 330.6 306.1 332.5 313.2 334.1 322.2 335.5 332.8 336.7 344.2 337.7 355.9 338.4 367.1 338.9 377.2 339.1 385.6 339.1 391.8 338.9 395.5 338.4 396.4 337.7 394.5 336.7 389.9 335.5 382.9 334.1 373.8 332.5 363.3 330.6 351.8 328.5 340.2 326.2 328.9 323.7 318.8 321 310.4 318.1 304.2 315 300.6 311.7 299.6 308.2 301.5 304.6 306.1 300.8 313.2 296.8 322.2 292.8 332.8 288.5 344.2 284.2 355.9 279.8 367.1 275.2 377.2 270.6 385.6 265.9 391.8 261.1 395.5 256.2 396.4 251.4 394.5 246.4 389.9 241.5 382.9 236.5 373.8 231.6 363.3 226.6 351.8 221.7 340.2 216.8 328.9 212 318.8 207.2 310.4 202.5 304.2 197.8 300.6 193.3 299.6 188.8 301.5 184.5 306.1 180.3 313.2 176.2 322.2 172.3 332.8 168.5 344.2 164.9 355.9 161.4 367.1 158.1 377.2 155 385.6 152.1 391.8 149.4 395.5 146.9 396.4 144.6 394.5 142.5 389.9 140.6 382.9 138.9 373.8 137.5 363.3 136.3 351.8 135.4 340.2 134.7 328.9 134.2 318.8 134 310.4 134 304.2 134.2 300.6 134.7 299.6 135.4 301.5 136.3 306.1 137.5 313.2 138.9 322.2 140.6 332.8 142.5 344.2 144.6 355.9 146.9 367.1 149.4 377.2 152.1 385.6 155 391.8 158.1 395.5 161.4 396.4 164.9 394.5 168.5 389.9 172.3 382.9 176.2 373.8 180.3 363.3 184.5 351.8 188.8 340.2 193.3 328.9 197.8 318.8 202.5 310.4 207.2 304.2 212 300.6 216.8 299.6 221.7 301.5 226.6 306.1 231.6 313.2 236.5 322.2" fill="none" stroke="#eda548" stroke-width="0.45" stroke-opacity="0.56"/>
<path d="M237 315.1 241.9 324.5 246.8 335.3 251.6 346.7 256.5 358.3 261.2 369.1 265.9 378.8 270.6 386.6 275.2 392.1 279.6 395.1 284 395.3 288.3 392.8 292.4 387.6 296.5 380 300.3 370.6 304.1 359.9 307.7 348.4 311.1 336.9 314.3 326.1 317.4 316.4 320.2 308.6 322.9 303 325.4 300.1 327.7 299.9 329.7 302.4 331.6 307.6 333.2 315.1 334.6 324.5 335.7 335.3 336.7 346.7 337.4 358.3 337.9 369.1 338.1 378.8 338.1 386.6 337.9 392.1 337.4 395.1 336.7 395.3 335.7 392.8 334.6 387.6 333.2 380 331.6 370.6 329.7 359.9 327.7 348.4 325.4 336.9 322.9 326.1 320.2 316.4 317.4 308.6 314.3 303 311.1 300.1 307.7 299.9 304.1 302.4 300.3 307.6 296.5 315.1 292.4 324.5 288.3 335.3 284 346.7 279.6 358.3 275.2 369.1 270.6 378.8 265.9 386.6 261.2 392.1 256.5 395.1 251.6 395.3 246.8 392.8 241.9 387.6 237 380 232.2 370.6 227.3 359.9 222.4 348.4 217.6 336.9 212.8 326.1 208.1 316.4 203.5 308.6 198.9 303 194.4 300.1 190.1 299.9 185.8 302.4 181.6 307.6 177.6 315.1 173.7 324.5 170 335.3 166.4 346.7 163 358.3 159.8 369.1 156.7 378.8 153.8 386.6 151.2 392.1 148.7 395.1 146.4 395.3 144.4 392.8 142.5 387.6 140.9 380 139.5 370.6 138.3 359.9 137.4 348.4 136.7 336.9 136.2 326.1 136 316.4 136 308.6 136.2 303 136.7 300.1 137.4 299.9 138.3 302.4 139.5 307.6 140.9 315.1 142.5 324.5 144.4 335.3 146.4 346.7 148.7 358.3 151.2 369.1 153.8 378.8 156.7 386.6 159.8 392.1 163 395.1 166.4 395.3 170 392.8 173.7 387.6 177.6 380 181.6 370.6 185.8 359.9 190.1 348.4 194.4 336.9 198.9 326.1 203.5 316.4 208.1 308.6 212.8 303 217.6 300.1 222.4 299.9 227.3 302.4 232.2 307.6 237 315.1" fill="none" stroke="#eda548" stroke-width="0.45" stroke-opacity="0.56"/>
<path d="M237 332 242 343.3 247 354.8 251.9 366 256.8 376.2 261.6 384.7 266.4 391.2 271.2 395.1 275.8 396.3 280.4 394.8 284.8 390.5 289.2 383.8 293.4 375 297.5 364.7 301.4 353.4 305.2 341.8 308.9 330.7 312.3 320.5 315.6 312 318.8 305.5 321.7 301.6 324.4 300.4 326.9 301.9 329.2 306.2 331.3 312.9 333.2 321.7 334.8 332 336.3 343.3 337.5 354.8 338.4 366 339.1 376.2 339.6 384.7 339.8 391.2 339.8 395.1 339.6 396.3 339.1 394.8 338.4 390.5 337.5 383.8 336.3 375 334.8 364.7 333.2 353.4 331.3 341.8 329.2 330.7 326.9 320.5 324.4 312 321.7 305.5 318.8 301.6 315.6 300.4 312.3 301.9 308.9 306.2 305.2 312.9 301.4 321.7 297.5 332 293.4 343.3 289.2 354.8 284.8 366 280.4 376.2 275.8 384.7 271.2 391.2 266.4 395.1 261.6 396.3 256.8 394.8 251.9 390.5 247 383.8 242 375 237 364.7 232.1 353.4 227.1 341.8 222.2 330.7 217.3 320.5 212.4 312 207.6 305.5 202.9 301.6 198.3 300.4 193.7 301.9 189.2 306.2 184.9 312.9 180.7 321.7 176.6 332 172.6 343.3 168.8 354.8 165.2 366 161.7 376.2 158.4 384.7 155.3 391.2 152.4 395.1 149.7 396.3 147.2 394.8 144.9 390.5 142.8 383.8 140.9 375 139.2 364.7 137.8 353.4 136.6 341.8 135.7 330.7 134.9 320.5 134.5 312 134.2 305.5 134.2 301.6 134.5 300.4 134.9 301.9 135.7 306.2 136.6 312.9 137.8 321.7 139.2 332 140.9 343.3 142.8 354.8 144.9 366 147.2 376.2 149.7 384.7 152.4 391.2 155.3 395.1 158.4 396.3 161.7 394.8 165.2 390.5 168.8 383.8 172.6 375 176.6 364.7 180.7 353.4 184.9 341.8 189.2 330.7 193.7 320.5 198.3 312 202.9 305.5 207.6 301.6 212.4 300.4 217.3 301.9 222.2 306.2 227.1 312.9 232.1 321.7 237 332" fill="none" stroke="#eda548" stroke-width="0.45" stroke-opacity="0.56"/>
<path d="M236.3 326.6 241.2 337.5 246 349 250.9 360.4 255.7 371.1 260.4 380.6 265.1 388.1 269.8 393.3 274.3 395.9 278.8 395.7 283.1 392.8 287.4 387.3 291.5 379.5 295.6 369.9 299.4 359 303.2 347.6 306.7 336.1 310.1 325.4 313.4 315.9 316.4 308.4 319.3 303.2 321.9 300.6 324.4 300.8 326.7 303.7 328.7 309.2 330.6 317 332.2 326.6 333.6 337.5 334.7 349 335.7 360.4 336.4 371.1 336.9 380.6 337.1 388.1 337.1 393.3 336.9 395.9 336.4 395.7 335.7 392.8 334.7 387.3 333.6 379.5 332.2 369.9 330.6 359 328.7 347.6 326.7 336.1 324.4 325.4 321.9 315.9 319.3 308.4 316.4 303.2 313.4 300.6 310.1 300.8 306.7 303.7 303.2 309.2 299.4 317 295.6 326.6 291.5 337.5 287.4 349 283.1 360.4 278.8 371.1 274.3 380.6 269.8 388.1 265.1 393.3 260.4 395.9 255.7 395.7 250.9 392.8 246 387.3 241.2 379.5 236.3 369.9 231.4 359 226.6 347.6 221.7 336.1 216.9 325.4 212.2 315.9 207.5 308.4 202.8 303.2 198.3 300.6 193.8 300.8 189.4 303.7 185.2 309.2 181 317 177 326.6 173.1 337.5 169.4 349 165.9 360.4 162.5 371.1 159.2 380.6 156.2 388.1 153.3 393.3 150.6 395.9 148.2 395.7 145.9 392.8 143.8 387.3 142 379.5 140.4 369.9 139 359 137.8 347.6 136.9 336.1 136.2 325.4 135.7 315.9 135.5 308.4 135.5 303.2 135.7 300.6 136.2 300.8 136.9 303.7 137.8 309.2 139 317 140.4 326.6 142 337.5 143.8 349 145.9 360.4 148.2 371.1 150.6 380.6 153.3 388.1 156.2 393.3 159.2 395.9 162.5 395.7 165.9 392.8 169.4 387.3 173.1 379.5 177 369.9 181 359 185.2 347.6 189.4 336.1 193.8 325.4 198.3 315.9 202.8 308.4 207.5 303.2 212.2 300.6 216.9 300.8 221.7 303.7 226.6 309.2 231.4 317 236.3 326.6" fill="none" stroke="#eda548" stroke-width="0.45" stroke-opacity="0.56"/>
<path d="M236.7 329 241.6 340 246.5 351.4 251.4 362.7 256.2 373.1 261 382 265.7 389 270.3 393.7 274.9 395.7 279.4 394.9 283.8 391.4 288.1 385.4 292.2 377.2 296.2 367.4 300.1 356.4 303.9 345 307.5 333.8 310.9 323.3 314.1 314.4 317.2 307.4 320.1 302.8 322.7 300.8 325.2 301.5 327.5 305 329.6 311 331.4 319.2 333 329 334.4 340 335.6 351.4 336.5 362.7 337.2 373.1 337.7 382 337.9 389 337.9 393.7 337.7 395.7 337.2 394.9 336.5 391.4 335.6 385.4 334.4 377.2 333 367.4 331.4 356.4 329.6 345 327.5 333.8 325.2 323.3 322.7 314.4 320.1 307.4 317.2 302.8 314.1 300.8 310.9 301.5 307.5 305 303.9 311 300.1 319.2 296.2 329 292.2 340 288.1 351.4 283.8 362.7 279.4 373.1 274.9 382 270.3 389 265.7 393.7 261 395.7 256.2 394.9 251.4 391.4 246.5 385.4 241.6 377.2 236.7 367.4 231.8 356.4 226.9 345 222.1 333.8 217.3 323.3 212.5 314.4 207.8 307.4 203.1 302.8 198.5 300.8 194 301.5 189.7 305 185.4 311 181.2 319.2 177.2 329 173.3 340 169.6 351.4 166 362.7 162.6 373.1 159.3 382 156.3 389 153.4 393.7 150.7 395.7 148.2 394.9 145.9 391.4 143.9 385.4 142 377.2 140.4 367.4 139 356.4 137.8 345 136.9 333.8 136.2 323.3 135.7 314.4 135.5 307.4 135.5 302.8 135.7 300.8 136.2 301.5 136.9 305 137.8 311 139 319.2 140.4 329 142 340 143.9 351.4 145.9 362.7 148.2 373.1 150.7 382 153.4 389 156.3 393.7 159.3 395.7 162.6 394.9 166 391.4 169.6 385.4 173.3 377.2 177.2 367.4 181.2 356.4 185.4 345 189.7 333.8 194 323.3 198.5 314.4 203.1 307.4 207.8 302.8 212.5 300.8 217.3 301.5 222.1 305 226.9 311 231.8 319.2 236.7 329" fill="none" stroke="#eda548" stroke-width="0.45" stroke-opacity="0.56"/>
<path d="M237.2 335.5 242 347 246.9 358.6 251.7 369.6 256.4 379.3 261.2 387.3 265.8 393 270.4 396.1 275 396.4 279.4 394 283.7 388.8 288 381.4 292.1 372 296.1 361.3 299.9 349.8 303.6 338.2 307.1 327.2 310.5 317.4 313.7 309.5 316.8 303.8 319.6 300.7 322.3 300.3 324.7 302.8 327 307.9 329 315.4 330.8 324.7 332.4 335.5 333.8 347 335 358.6 335.9 369.6 336.6 379.3 337.1 387.3 337.3 393 337.3 396.1 337.1 396.4 336.6 394 335.9 388.8 335 381.4 333.8 372 332.4 361.3 330.8 349.8 329 338.2 327 327.2 324.7 317.4 322.3 309.5 319.6 303.8 316.8 300.7 313.7 300.3 310.5 302.8 307.1 307.9 303.6 315.4 299.9 324.7 296.1 335.5 292.1 347 288 358.6 283.7 369.6 279.4 379.3 275 387.3 270.4 393 265.8 396.1 261.2 396.4 256.4 394 251.7 388.8 246.9 381.4 242 372 237.2 361.3 232.4 349.8 227.5 338.2 222.7 327.2 218 317.4 213.2 309.5 208.6 303.8 204 300.7 199.4 300.3 195 302.8 190.7 307.9 186.4 315.4 182.3 324.7 178.3 335.5 174.5 347 170.8 358.6 167.2 369.6 163.9 379.3 160.7 387.3 157.6 393 154.8 396.1 152.1 396.4 149.7 394 147.4 388.8 145.4 381.4 143.6 372 142 361.3 140.6 349.8 139.4 338.2 138.5 327.2 137.8 317.4 137.3 309.5 137.1 303.8 137.1 300.7 137.3 300.3 137.8 302.8 138.5 307.9 139.4 315.4 140.6 324.7 142 335.5 143.6 347 145.4 358.6 147.4 369.6 149.7 379.3 152.1 387.3 154.8 393 157.6 396.1 160.7 396.4 163.9 394 167.2 388.8 170.8 381.4 174.5 372 178.3 361.3 182.3 349.8 186.4 338.2 190.7 327.2 195 317.4 199.4 309.5 204 303.8 208.6 300.7 213.2 300.3 218 302.8 222.7 307.9 227.5 315.4 232.4 324.7 237.2 335.5" fill="none" stroke="#eda548" stroke-width="0.45" stroke-opacity="0.56"/>
<path d="M237.1 335.2 241.9 346.6 246.8 358.1 251.6 369.1 256.4 378.8 261.1 386.8 265.8 392.6 270.5 395.9 275 396.4 279.5 394.1 283.8 389.2 288.1 381.9 292.2 372.7 296.2 362.1 300.1 350.7 303.8 339.2 307.3 328.3 310.7 318.5 314 310.5 317 304.7 319.9 301.4 322.5 300.9 325 303.2 327.2 308.1 329.3 315.4 331.1 324.6 332.7 335.2 334.1 346.6 335.3 358.1 336.2 369.1 336.9 378.8 337.4 386.8 337.6 392.6 337.6 395.9 337.4 396.4 336.9 394.1 336.2 389.2 335.3 381.9 334.1 372.7 332.7 362.1 331.1 350.7 329.3 339.2 327.2 328.3 325 318.5 322.5 310.5 319.9 304.7 317 301.4 314 300.9 310.7 303.2 307.3 308.1 303.8 315.4 300.1 324.6 296.2 335.2 292.2 346.6 288.1 358.1 283.8 369.1 279.5 378.8 275 386.8 270.5 392.6 265.8 395.9 261.1 396.4 256.4 394.1 251.6 389.2 246.8 381.9 241.9 372.7 237.1 362.1 232.2 350.7 227.4 339.2 222.5 328.3 217.7 318.5 213 310.5 208.3 304.7 203.7 301.4 199.1 300.9 194.7 303.2 190.3 308.1 186.1 315.4 181.9 324.6 177.9 335.2 174.1 346.6 170.4 358.1 166.8 369.1 163.4 378.8 160.2 386.8 157.1 392.6 154.3 395.9 151.6 396.4 149.1 394.1 146.9 389.2 144.8 381.9 143 372.7 141.4 362.1 140 350.7 138.8 339.2 137.9 328.3 137.2 318.5 136.7 310.5 136.5 304.7 136.5 301.4 136.7 300.9 137.2 303.2 137.9 308.1 138.8 315.4 140 324.6 141.4 335.2 143 346.6 144.8 358.1 146.9 369.1 149.1 378.8 151.6 386.8 154.3 392.6 157.1 395.9 160.2 396.4 163.4 394.1 166.8 389.2 170.4 381.9 174.1 372.7 177.9 362.1 181.9 350.7 186.1 339.2 190.3 328.3 194.7 318.5 199.1 310.5 203.7 304.7 208.3 301.4 213 300.9 217.7 303.2 222.5 308.1 227.4 315.4 232.2 324.6 237.1 335.2" fill="none" stroke="#eda548" stroke-width="0.45" stroke-opacity="0.56"/>
<path d="M236.8 339.2 241.7 350.8 246.5 362.3 251.3 372.9 256.1 382 260.8 389.2 265.5 394 270.2 396.1 274.7 395.4 279.1 391.9 283.5 385.9 287.7 377.7 291.9 367.7 295.9 356.6 299.7 345 303.4 333.6 307 323 310.4 313.8 313.6 306.7 316.6 301.9 319.5 299.8 322.2 300.5 324.6 304 326.9 310 328.9 318.2 330.8 328.1 332.4 339.2 333.8 350.8 334.9 362.3 335.8 372.9 336.6 382 337 389.2 337.3 394 337.3 396.1 337 395.4 336.6 391.9 335.8 385.9 334.9 377.7 333.8 367.7 332.4 356.6 330.8 345 328.9 333.6 326.9 323 324.6 313.8 322.2 306.7 319.5 301.9 316.6 299.8 313.6 300.5 310.4 304 307 310 303.4 318.2 299.7 328.1 295.9 339.2 291.9 350.8 287.7 362.3 283.5 372.9 279.1 382 274.7 389.2 270.2 394 265.5 396.1 260.8 395.4 256.1 391.9 251.3 385.9 246.5 377.7 241.7 367.7 236.8 356.6 231.9 345 227.1 333.6 222.3 323 217.5 313.8 212.8 306.7 208.1 301.9 203.5 299.8 198.9 300.5 194.5 304 190.1 310 185.9 318.2 181.7 328.1 177.7 339.2 173.9 350.8 170.2 362.3 166.6 372.9 163.2 382 160 389.2 157 394 154.1 396.1 151.4 395.4 149 391.9 146.7 385.9 144.7 377.7 142.9 367.7 141.2 356.6 139.9 345 138.7 333.6 137.8 323 137.1 313.8 136.6 306.7 136.4 301.9 136.4 299.8 136.6 300.5 137.1 304 137.8 310 138.7 318.2 139.9 328.1 141.2 339.2 142.9 350.8 144.7 362.3 146.7 372.9 149 382 151.4 389.2 154.1 394 157 396.1 160 395.4 163.2 391.9 166.6 385.9 170.2 377.7 173.9 367.7 177.7 356.6 181.7 345 185.9 333.6 190.1 323 194.5 313.8 198.9 306.7 203.5 301.9 208.1 299.8 212.8 300.5 217.5 304 222.3 310 227.1 318.2 231.9 328.1 236.8 339.2" fill="none" stroke="#eda548" stroke-width="0.45" stroke-opacity="0.56"/>
<path d="M236.1 340.4 241 352 245.8 363.4 250.7 373.9 255.5 382.9 260.3 389.9 265 394.4 269.6 396.3 274.2 395.3 278.6 391.5 283 385.2 287.3 376.8 291.4 366.7 295.4 355.4 299.3 343.8 303 332.4 306.6 321.8 310 312.8 313.2 305.9 316.3 301.4 319.2 299.5 321.8 300.5 324.3 304.3 326.6 310.6 328.6 319 330.5 329.1 332.1 340.4 333.5 352 334.6 363.4 335.6 373.9 336.3 382.9 336.8 389.9 337 394.4 337 396.3 336.8 395.3 336.3 391.5 335.6 385.2 334.6 376.8 333.5 366.7 332.1 355.4 330.5 343.8 328.6 332.4 326.6 321.8 324.3 312.8 321.8 305.9 319.2 301.4 316.3 299.5 313.2 300.5 310 304.3 306.6 310.6 303 319 299.3 329.1 295.4 340.4 291.4 352 287.3 363.4 283 373.9 278.6 382.9 274.2 389.9 269.6 394.4 265 396.3 260.3 395.3 255.5 391.5 250.7 385.2 245.8 376.8 241 366.7 236.1 355.4 231.2 343.8 226.4 332.4 221.5 321.8 216.7 312.8 212 305.9 207.2 301.4 202.6 299.5 198 300.5 193.6 304.3 189.2 310.6 184.9 319 180.8 329.1 176.8 340.4 172.9 352 169.2 363.4 165.6 373.9 162.2 382.9 159 389.9 155.9 394.4 153 396.3 150.4 395.3 147.9 391.5 145.6 385.2 143.6 376.8 141.7 366.7 140.1 355.4 138.7 343.8 137.6 332.4 136.6 321.8 135.9 312.8 135.5 305.9 135.2 301.4 135.2 299.5 135.5 300.5 135.9 304.3 136.6 310.6 137.6 319 138.7 329.1 140.1 340.4 141.7 352 143.6 363.4 145.6 373.9 147.9 382.9 150.4 389.9 153 394.4 155.9 396.3 159 395.3 162.2 391.5 165.6 385.2 169.2 376.8 172.9 366.7 176.8 355.4 180.8 343.8 184.9 332.4 189.2 321.8 193.6 312.8 198 305.9 202.6 301.4 207.2 299.5 212 300.5 216.7 304.3 221.5 310.6 226.4 319 231.2 329.1 236.1 340.4" fill="none" stroke="#eda548" stroke-width="0.45" stroke-opacity="0.56"/>
<path d="M236.9 350.6 241.7 362 246.5 372.6 251.3 381.8 256.1 389 260.8 393.9 265.5 396.1 270.1 395.5 274.6 392.2 279 386.3 283.4 378.2 287.6 368.4 291.7 357.3 295.7 345.8 299.5 334.4 303.2 323.7 306.7 314.5 310.1 307.3 313.3 302.4 316.3 300.2 319.2 300.8 321.8 304.1 324.3 310 326.5 318.1 328.6 328 330.4 339 332 350.6 333.4 362 334.5 372.6 335.5 381.8 336.2 389 336.6 393.9 336.9 396.1 336.9 395.5 336.6 392.2 336.2 386.3 335.5 378.2 334.5 368.4 333.4 357.3 332 345.8 330.4 334.4 328.6 323.7 326.5 314.5 324.3 307.3 321.8 302.4 319.2 300.2 316.3 300.8 313.3 304.1 310.1 310 306.7 318.1 303.2 328 299.5 339 295.7 350.6 291.7 362 287.6 372.6 283.4 381.8 279 389 274.6 393.9 270.1 396.1 265.5 395.5 260.8 392.2 256.1 386.3 251.3 378.2 246.5 368.4 241.7 357.3 236.9 345.8 232 334.4 227.2 323.7 222.4 314.5 217.7 307.3 212.9 302.4 208.3 300.2 203.7 300.8 199.2 304.1 194.7 310 190.4 318.1 186.2 328 182.1 339 178.1 350.6 174.3 362 170.6 372.6 167 381.8 163.6 389 160.4 393.9 157.4 396.1 154.6 395.5 151.9 392.2 149.5 386.3 147.2 378.2 145.2 368.4 143.4 357.3 141.8 345.8 140.4 334.4 139.2 323.7 138.3 314.5 137.6 307.3 137.1 302.4 136.9 300.2 136.9 300.8 137.1 304.1 137.6 310 138.3 318.1 139.2 328 140.4 339 141.8 350.6 143.4 362 145.2 372.6 147.2 381.8 149.5 389 151.9 393.9 154.6 396.1 157.4 395.5 160.4 392.2 163.6 386.3 167 378.2 170.6 368.4 174.3 357.3 178.1 345.8 182.1 334.4 186.2 323.7 190.4 314.5 194.7 307.3 199.2 302.4 203.7 300.2 208.3 300.8 212.9 304.1 217.7 310 222.4 318.1 227.2 328 232 339 236.9 350.6" fill="none" stroke="#eda548" stroke-width="0.45" stroke-opacity="0.56"/>
<path d="M236.9 347 241.7 358.5 246.6 369.4 251.5 379 256.3 386.8 261 392.3 265.7 395.3 270.4 395.5 274.9 393 279.4 387.8 283.8 380.3 288 371 292.2 360.3 296.2 348.9 300.1 337.4 303.8 326.5 307.4 316.9 310.8 309.1 314 303.6 317.1 300.6 319.9 300.4 322.6 302.9 325.1 308.1 327.4 315.6 329.4 324.9 331.3 335.6 332.9 347 334.3 358.5 335.4 369.4 336.4 379 337.1 386.8 337.6 392.3 337.8 395.3 337.8 395.5 337.6 393 337.1 387.8 336.4 380.3 335.4 371 334.3 360.3 332.9 348.9 331.3 337.4 329.4 326.5 327.4 316.9 325.1 309.1 322.6 303.6 319.9 300.6 317.1 300.4 314 302.9 310.8 308.1 307.4 315.6 303.8 324.9 300.1 335.6 296.2 347 292.2 358.5 288 369.4 283.8 379 279.4 386.8 274.9 392.3 270.4 395.3 265.7 395.5 261 393 256.3 387.8 251.5 380.3 246.6 371 241.7 360.3 236.9 348.9 232 337.4 227.1 326.5 222.3 316.9 217.5 309.1 212.7 303.6 208 300.6 203.4 300.4 198.8 302.9 194.3 308.1 190 315.6 185.7 324.9 181.5 335.6 177.5 347 173.7 358.5 169.9 369.4 166.4 379 162.9 386.8 159.7 392.3 156.7 395.3 153.8 395.5 151.1 393 148.6 387.8 146.4 380.3 144.3 371 142.5 360.3 140.9 348.9 139.5 337.4 138.3 326.5 137.4 316.9 136.7 309.1 136.2 303.6 135.9 300.6 135.9 300.4 136.2 302.9 136.7 308.1 137.4 315.6 138.3 324.9 139.5 335.6 140.9 347 142.5 358.5 144.3 369.4 146.4 379 148.6 386.8 151.1 392.3 153.8 395.3 156.7 395.5 159.7 393 162.9 387.8 166.4 380.3 169.9 371 173.7 360.3 177.5 348.9 181.5 337.4 185.7 326.5 190 316.9 194.3 309.1 198.8 303.6 203.4 300.6 208 300.4 212.7 302.9 217.5 308.1 222.3 315.6 227.1 324.9 232 335.6 236.9 347" fill="none" stroke="#eda548" stroke-width="0.45" stroke-opacity="0.56"/>
<path d="M236.7 361.5 241.5 372.1 246.3 381.4 251.1 388.8 255.8 393.8 260.6 396.2 265.2 395.8 269.8 392.7 274.3 387 278.7 379.1 283 369.3 287.2 358.4 291.3 346.9 295.3 335.5 299.1 324.8 302.8 315.6 306.3 308.2 309.7 303.2 312.9 300.8 315.9 301.2 318.7 304.3 321.4 310 323.8 317.9 326 327.6 328.1 338.6 329.9 350.1 331.5 361.5 332.9 372.1 334 381.4 334.9 388.8 335.6 393.8 336.1 396.2 336.3 395.8 336.3 392.7 336.1 387 335.6 379.1 334.9 369.3 334 358.4 332.9 346.9 331.5 335.5 329.9 324.8 328.1 315.6 326 308.2 323.8 303.2 321.4 300.8 318.7 301.2 315.9 304.3 312.9 310 309.7 317.9 306.3 327.6 302.8 338.6 299.1 350.1 295.3 361.5 291.3 372.1 287.2 381.4 283 388.8 278.7 393.8 274.3 396.2 269.8 395.8 265.2 392.7 260.6 387 255.8 379.1 251.1 369.3 246.3 358.4 241.5 346.9 236.7 335.5 231.9 324.8 227.1 315.6 222.3 308.2 217.6 303.2 212.9 300.8 208.2 301.2 203.6 304.3 199.1 310 194.7 317.9 190.4 327.6 186.2 338.6 182.1 350.1 178.1 361.5 174.3 372.1 170.6 381.4 167.1 388.8 163.7 393.8 160.5 396.2 157.5 395.8 154.7 392.7 152.1 387 149.6 379.1 147.4 369.3 145.3 358.4 143.5 346.9 141.9 335.5 140.6 324.8 139.4 315.6 138.5 308.2 137.8 303.2 137.3 300.8 137.1 301.2 137.1 304.3 137.3 310 137.8 317.9 138.5 327.6 139.4 338.6 140.6 350.1 141.9 361.5 143.5 372.1 145.3 381.4 147.4 388.8 149.6 393.8 152.1 396.2 154.7 395.8 157.5 392.7 160.5 387 163.7 379.1 167.1 369.3 170.6 358.4 174.3 346.9 178.1 335.5 182.1 324.8 186.2 315.6 190.4 308.2 194.7 303.2 199.1 300.8 203.6 301.2 208.2 304.3 212.9 310 217.6 317.9 222.3 327.6 227.1 338.6 231.9 350.1 236.7 361.5" fill="none" stroke="#eda548" stroke-width="0.45" stroke-opacity="0.56"/>
<path d="M237.1 357.6 242 368.5 246.9 378.3 251.7 386.4 256.6 392.3 261.3 395.7 266.1 396.3 270.7 394.2 275.3 389.4 279.8 382.2 284.2 373.1 288.5 362.6 292.7 351.3 296.7 339.8 300.6 328.9 304.3 319.1 307.9 311 311.4 305.1 314.6 301.8 317.7 301.2 320.6 303.3 323.2 308.1 325.7 315.2 328 324.3 330.1 334.8 331.9 346.1 333.5 357.6 334.9 368.5 336.1 378.3 337.1 386.4 337.8 392.3 338.2 395.7 338.5 396.3 338.5 394.2 338.2 389.4 337.8 382.2 337.1 373.1 336.1 362.6 334.9 351.3 333.5 339.8 331.9 328.9 330.1 319.1 328 311 325.7 305.1 323.2 301.8 320.6 301.2 317.7 303.3 314.6 308.1 311.4 315.2 307.9 324.3 304.3 334.8 300.6 346.1 296.7 357.6 292.7 368.5 288.5 378.3 284.2 386.4 279.8 392.3 275.3 395.7 270.7 396.3 266.1 394.2 261.3 389.4 256.6 382.2 251.7 373.1 246.9 362.6 242 351.3 237.1 339.8 232.2 328.9 227.3 319.1 222.4 311 217.6 305.1 212.8 301.8 208.1 301.2 203.4 303.3 198.8 308.1 194.3 315.2 189.9 324.3 185.6 334.8 181.5 346.1 177.4 357.6 173.5 368.5 169.8 378.3 166.2 386.4 162.8 392.3 159.5 395.7 156.5 396.3 153.6 394.2 150.9 389.4 148.4 382.2 146.1 373.1 144.1 362.6 142.2 351.3 140.6 339.8 139.2 328.9 138 319.1 137.1 311 136.4 305.1 135.9 301.8 135.7 301.2 135.7 303.3 135.9 308.1 136.4 315.2 137.1 324.3 138 334.8 139.2 346.1 140.6 357.6 142.2 368.5 144.1 378.3 146.1 386.4 148.4 392.3 150.9 395.7 153.6 396.3 156.5 394.2 159.5 389.4 162.8 382.2 166.2 373.1 169.8 362.6 173.5 351.3 177.4 339.8 181.5 328.9 185.6 319.1 189.9 311 194.3 305.1 198.8 301.8 203.4 301.2 208.1 303.3 212.8 308.1 217.6 315.2 222.4 324.3 227.3 334.8 232.2 346.1 237.1 357.6" fill="none" stroke="#eda548" stroke-width="0.45" stroke-opacity="0.56"/>
<path d="M237.2 362.2 242.1 372.7 247 381.7 251.8 388.9 256.7 393.7 261.4 395.9 266.2 395.3 270.8 392.1 275.4 386.3 279.9 378.3 284.3 368.5 288.6 357.7 292.7 346.2 296.8 335 300.7 324.5 304.4 315.4 308 308.2 311.4 303.4 314.7 301.2 317.7 301.8 320.6 305.1 323.3 310.9 325.8 318.9 328 328.6 330.1 339.5 332 350.9 333.6 362.2 335 372.7 336.2 381.7 337.1 388.9 337.8 393.7 338.3 395.9 338.5 395.3 338.5 392.1 338.3 386.3 337.8 378.3 337.1 368.5 336.2 357.7 335 346.2 333.6 335 332 324.5 330.1 315.4 328 308.2 325.8 303.4 323.3 301.2 320.6 301.8 317.7 305.1 314.7 310.9 311.4 318.9 308 328.6 304.4 339.5 300.7 350.9 296.8 362.2 292.7 372.7 288.6 381.7 284.3 388.9 279.9 393.7 275.4 395.9 270.8 395.3 266.2 392.1 261.4 386.3 256.7 378.3 251.8 368.5 247 357.7 242.1 346.2 237.2 335 232.3 324.5 227.4 315.4 222.5 308.2 217.7 303.4 212.9 301.2 208.2 301.8 203.5 305.1 199 310.9 194.5 318.9 190.1 328.6 185.8 339.5 181.6 350.9 177.6 362.2 173.7 372.7 170 381.7 166.4 388.9 163 393.7 159.7 395.9 156.6 395.3 153.8 392.1 151.1 386.3 148.6 378.3 146.3 368.5 144.3 357.7 142.4 346.2 140.8 335 139.4 324.5 138.2 315.4 137.3 308.2 136.6 303.4 136.1 301.2 135.9 301.8 135.9 305.1 136.1 310.9 136.6 318.9 137.3 328.6 138.2 339.5 139.4 350.9 140.8 362.2 142.4 372.7 144.3 381.7 146.3 388.9 148.6 393.7 151.1 395.9 153.8 395.3 156.6 392.1 159.7 386.3 163 378.3 166.4 368.5 170 357.7 173.7 346.2 177.6 335 181.6 324.5 185.8 315.4 190.1 308.2 194.5 303.4 199 301.2 203.5 301.8 208.2 305.1 212.9 310.9 217.7 318.9 222.5 328.6 227.4 339.5 232.3 350.9 237.2 362.2" fill="none" stroke="#eda548" stroke-width="0.45" stroke-opacity="0.56"/>
<path d="M237.3 368.1 242.1 378 246.9 386.3 251.7 392.4 256.5 395.9 261.2 396.7 265.9 394.7 270.5 390 275 382.8 279.4 373.7 283.8 363.2 288 351.7 292.1 340.1 296.1 329 299.9 319 303.6 310.7 307.2 304.7 310.6 301.1 313.8 300.4 316.8 302.4 319.6 307.1 322.3 314.2 324.7 323.3 327 333.9 329 345.3 330.9 356.9 332.5 368.1 333.8 378 335 386.3 335.9 392.4 336.6 395.9 337.1 396.7 337.3 394.7 337.3 390 337.1 382.8 336.6 373.7 335.9 363.2 335 351.7 333.8 340.1 332.5 329 330.9 319 329 310.7 327 304.7 324.7 301.1 322.3 300.4 319.6 302.4 316.8 307.1 313.8 314.2 310.6 323.3 307.2 333.9 303.6 345.3 299.9 356.9 296.1 368.1 292.1 378 288 386.3 283.8 392.4 279.4 395.9 275 396.7 270.5 394.7 265.9 390 261.2 382.8 256.5 373.7 251.7 363.2 246.9 351.7 242.1 340.1 237.3 329 232.4 319 227.6 310.7 222.8 304.7 218 301.1 213.3 300.4 208.7 302.4 204.1 307.1 199.5 314.2 195.1 323.3 190.8 333.9 186.5 345.3 182.4 356.9 178.4 368.1 174.6 378 170.9 386.3 167.4 392.4 164 395.9 160.8 396.7 157.8 394.7 154.9 390 152.3 382.8 149.8 373.7 147.6 363.2 145.5 351.7 143.7 340.1 142.1 329 140.7 319 139.5 310.7 138.6 304.7 137.9 301.1 137.5 300.4 137.2 302.4 137.2 307.1 137.5 314.2 137.9 323.3 138.6 333.9 139.5 345.3 140.7 356.9 142.1 368.1 143.7 378 145.5 386.3 147.6 392.4 149.8 395.9 152.3 396.7 154.9 394.7 157.8 390 160.8 382.8 164 373.7 167.4 363.2 170.9 351.7 174.6 340.1 178.4 329 182.4 319 186.5 310.7 190.8 304.7 195.1 301.1 199.5 300.4 204.1 302.4 208.7 307.1 213.3 314.2 218 323.3 222.8 333.9 227.6 345.3 232.4 356.9 237.3 368.1" fill="none" stroke="#eda548" stroke-width="0.45" stroke-opacity="0.56"/>
<path d="M237.4 373.8 242.2 382.6 247 389.4 251.8 393.7 256.5 395.4 261.2 394.3 265.9 390.6 270.4 384.3 274.9 375.9 279.3 365.9 283.7 354.8 287.9 343.4 291.9 332.1 295.9 321.8 299.7 313.1 303.4 306.3 306.9 301.9 310.3 300.2 313.5 301.3 316.5 305.1 319.3 311.4 322 319.7 324.4 329.8 326.6 340.8 328.7 352.3 330.5 363.5 332.1 373.8 333.4 382.6 334.6 389.4 335.5 393.7 336.2 395.4 336.7 394.3 336.9 390.6 336.9 384.3 336.7 375.9 336.2 365.9 335.5 354.8 334.6 343.4 333.4 332.1 332.1 321.8 330.5 313.1 328.7 306.3 326.6 301.9 324.4 300.2 322 301.3 319.3 305.1 316.5 311.4 313.5 319.7 310.3 329.8 306.9 340.8 303.4 352.3 299.7 363.5 295.9 373.8 291.9 382.6 287.9 389.4 283.7 393.7 279.3 395.4 274.9 394.3 270.4 390.6 265.9 384.3 261.2 375.9 256.5 365.9 251.8 354.8 247 343.4 242.2 332.1 237.4 321.8 232.6 313.1 227.8 306.3 223 301.9 218.3 300.2 213.6 301.3 209 305.1 204.4 311.4 199.9 319.7 195.5 329.8 191.2 340.8 187 352.3 182.9 363.5 178.9 373.8 175.1 382.6 171.4 389.4 167.9 393.7 164.5 395.4 161.3 394.3 158.3 390.6 155.5 384.3 152.9 375.9 150.4 365.9 148.2 354.8 146.2 343.4 144.4 332.1 142.8 321.8 141.4 313.1 140.2 306.3 139.3 301.9 138.6 300.2 138.2 301.3 137.9 305.1 137.9 311.4 138.2 319.7 138.6 329.8 139.3 340.8 140.2 352.3 141.4 363.5 142.8 373.8 144.4 382.6 146.2 389.4 148.2 393.7 150.4 395.4 152.9 394.3 155.5 390.6 158.3 384.3 161.3 375.9 164.5 365.9 167.9 354.8 171.4 343.4 175.1 332.1 178.9 321.8 182.9 313.1 187 306.3 191.2 301.9 195.5 300.2 199.9 301.3 204.4 305.1 209 311.4 213.6 319.7 218.3 329.8 223 340.8 227.8 352.3 232.6 363.5 237.4 373.8" fill="none" stroke="#eda548" stroke-width="0.45" stroke-opacity="0.56"/>
<path d="M237.3 379 242.2 387 247.2 392.8 252.1 396 257 396.4 261.8 393.9 266.6 388.9 271.3 381.4 275.9 372 280.5 361.2 284.9 349.7 289.2 338.1 293.4 327 297.5 317.2 301.5 309.2 305.2 303.4 308.9 300.2 312.3 299.8 315.6 302.3 318.7 307.3 321.6 314.8 324.3 324.2 326.9 335 329.2 346.5 331.3 358.1 333.1 369.2 334.8 379 336.2 387 337.4 392.8 338.3 396 339 396.4 339.5 393.9 339.8 388.9 339.8 381.4 339.5 372 339 361.2 338.3 349.7 337.4 338.1 336.2 327 334.8 317.2 333.1 309.2 331.3 303.4 329.2 300.2 326.9 299.8 324.3 302.3 321.6 307.3 318.7 314.8 315.6 324.2 312.3 335 308.9 346.5 305.2 358.1 301.5 369.2 297.5 379 293.4 387 289.2 392.8 284.9 396 280.5 396.4 275.9 393.9 271.3 388.9 266.6 381.4 261.8 372 257 361.2 252.1 349.7 247.2 338.1 242.2 327 237.3 317.2 232.3 309.2 227.4 303.4 222.4 300.2 217.6 299.8 212.7 302.3 207.9 307.3 203.2 314.8 198.6 324.2 194.1 335 189.6 346.5 185.3 358.1 181.1 369.2 177 379 173.1 387 169.3 392.8 165.6 396 162.2 396.4 158.9 393.9 155.8 388.9 152.9 381.4 150.2 372 147.7 361.2 145.4 349.7 143.3 338.1 141.4 327 139.8 317.2 138.3 309.2 137.2 303.4 136.2 300.2 135.5 299.8 135 302.3 134.8 307.3 134.8 314.8 135 324.2 135.5 335 136.2 346.5 137.2 358.1 138.3 369.2 139.8 379 141.4 387 143.3 392.8 145.4 396 147.7 396.4 150.2 393.9 152.9 388.9 155.8 381.4 158.9 372 162.2 361.2 165.6 349.7 169.3 338.1 173.1 327 177 317.2 181.1 309.2 185.3 303.4 189.6 300.2 194.1 299.8 198.6 302.3 203.2 307.3 207.9 314.8 212.7 324.2 217.6 335 222.4 346.5 227.4 358.1 232.3 369.2 237.3 379" fill="none" stroke="#eda548" stroke-width="0.45" stroke-opacity="0.56"/>
<path d="M236.7 373 241.6 382.1 246.4 389.3 251.3 394.1 256.1 396.2 260.8 395.6 265.5 392.2 270.2 386.2 274.7 378.1 279.2 368.3 283.6 357.3 287.8 345.8 292 334.4 296 323.8 299.9 314.7 303.6 307.6 307.2 302.8 310.6 300.6 313.8 301.3 316.9 304.6 319.7 310.6 322.4 318.7 324.9 328.5 327.1 339.5 329.2 351.1 331 362.4 332.7 373 334 382.1 335.2 389.3 336.2 394.1 336.9 396.2 337.3 395.6 337.6 392.2 337.6 386.2 337.3 378.1 336.9 368.3 336.2 357.3 335.2 345.8 334 334.4 332.7 323.8 331 314.7 329.2 307.6 327.1 302.8 324.9 300.6 322.4 301.3 319.7 304.6 316.9 310.6 313.8 318.7 310.6 328.5 307.2 339.5 303.6 351.1 299.9 362.4 296 373 292 382.1 287.8 389.3 283.6 394.1 279.2 396.2 274.7 395.6 270.2 392.2 265.5 386.2 260.8 378.1 256.1 368.3 251.3 357.3 246.4 345.8 241.6 334.4 236.7 323.8 231.8 314.7 226.9 307.6 222.1 302.8 217.3 300.6 212.5 301.3 207.8 304.6 203.2 310.6 198.6 318.7 194.1 328.5 189.8 339.5 185.5 351.1 181.4 362.4 177.4 373 173.5 382.1 169.8 389.3 166.2 394.1 162.8 396.2 159.5 395.6 156.5 392.2 153.6 386.2 151 378.1 148.5 368.3 146.2 357.3 144.2 345.8 142.3 334.4 140.7 323.8 139.3 314.7 138.1 307.6 137.2 302.8 136.5 300.6 136 301.3 135.8 304.6 135.8 310.6 136 318.7 136.5 328.5 137.2 339.5 138.1 351.1 139.3 362.4 140.7 373 142.3 382.1 144.2 389.3 146.2 394.1 148.5 396.2 151 395.6 153.6 392.2 156.5 386.2 159.5 378.1 162.8 368.3 166.2 357.3 169.8 345.8 173.5 334.4 177.4 323.8 181.4 314.7 185.5 307.6 189.8 302.8 194.1 300.6 198.6 301.3 203.2 304.6 207.8 310.6 212.5 318.7 217.3 328.5 222.1 339.5 226.9 351.1 231.8 362.4 236.7 373" fill="none" stroke="#eda548" stroke-width="0.45" stroke-opacity="0.56"/>
<path d="M236.7 380.9 241.6 388.6 246.5 393.9 251.3 396.7 256.1 396.6 260.9 393.8 265.6 388.3 270.3 380.6 274.8 371 279.3 360.1 283.7 348.5 288 337 292.1 326.1 296.2 316.6 300 308.9 303.8 303.6 307.4 300.8 310.8 300.9 314 303.7 317.1 309.2 319.9 316.9 322.6 326.5 325.1 337.4 327.4 349 329.4 360.5 331.3 371.4 332.9 380.9 334.3 388.6 335.5 393.9 336.4 396.7 337.1 396.6 337.6 393.8 337.8 388.3 337.8 380.6 337.6 371 337.1 360.1 336.4 348.5 335.5 337 334.3 326.1 332.9 316.6 331.3 308.9 329.4 303.6 327.4 300.8 325.1 300.9 322.6 303.7 319.9 309.2 317.1 316.9 314 326.5 310.8 337.4 307.4 349 303.8 360.5 300 371.4 296.2 380.9 292.1 388.6 288 393.9 283.7 396.7 279.3 396.6 274.8 393.8 270.3 388.3 265.6 380.6 260.9 371 256.1 360.1 251.3 348.5 246.5 337 241.6 326.1 236.7 316.6 231.8 308.9 226.9 303.6 222.1 300.8 217.3 300.9 212.5 303.7 207.8 309.2 203.1 316.9 198.6 326.5 194.1 337.4 189.7 349 185.4 360.5 181.3 371.4 177.2 380.9 173.4 388.6 169.6 393.9 166 396.7 162.6 396.6 159.4 393.8 156.3 388.3 153.4 380.6 150.8 371 148.3 360.1 146 348.5 144 337 142.1 326.1 140.5 316.6 139.1 308.9 137.9 303.6 137 300.8 136.3 300.9 135.8 303.7 135.6 309.2 135.6 316.9 135.8 326.5 136.3 337.4 137 349 137.9 360.5 139.1 371.4 140.5 380.9 142.1 388.6 144 393.9 146 396.7 148.3 396.6 150.8 393.8 153.4 388.3 156.3 380.6 159.4 371 162.6 360.1 166 348.5 169.6 337 173.4 326.1 177.2 316.6 181.3 308.9 185.4 303.6 189.7 300.8 194.1 300.9 198.6 303.7 203.1 309.2 207.8 316.9 212.5 326.5 217.3 337.4 222.1 349 226.9 360.5 231.8 371.4 236.7 380.9" fill="none" stroke="#eda548" stroke-width="0.45" stroke-opacity="0.56"/>
<path d="M236.4 385.2 241.3 391.5 246.1 395.4 251 396.5 255.8 394.8 260.6 390.4 265.3 383.6 269.9 374.8 274.5 364.5 279 353.2 283.4 341.6 287.6 330.5 291.8 320.4 295.8 312 299.7 305.7 303.4 301.8 307 300.7 310.4 302.4 313.6 306.8 316.7 313.6 319.6 322.4 322.2 332.8 324.7 344 327 355.6 329 366.7 330.9 376.8 332.5 385.2 333.9 391.5 335.1 395.4 336 396.5 336.7 394.8 337.2 390.4 337.4 383.6 337.4 374.8 337.2 364.5 336.7 353.2 336 341.6 335.1 330.5 333.9 320.4 332.5 312 330.9 305.7 329 301.8 327 300.7 324.7 302.4 322.2 306.8 319.6 313.6 316.7 322.4 313.6 332.8 310.4 344 307 355.6 303.4 366.7 299.7 376.8 295.8 385.2 291.8 391.5 287.6 395.4 283.4 396.5 279 394.8 274.5 390.4 269.9 383.6 265.3 374.8 260.6 364.5 255.8 353.2 251 341.6 246.1 330.5 241.3 320.4 236.4 312 231.5 305.7 226.6 301.8 221.8 300.7 217 302.4 212.2 306.8 207.5 313.6 202.8 322.4 198.3 332.8 193.8 344 189.4 355.6 185.1 366.7 181 376.8 177 385.2 173.1 391.5 169.4 395.4 165.8 396.5 162.4 394.8 159.1 390.4 156.1 383.6 153.2 374.8 150.5 364.5 148.1 353.2 145.8 341.6 143.7 330.5 141.9 320.4 140.3 312 138.9 305.7 137.7 301.8 136.8 300.7 136.1 302.4 135.6 306.8 135.3 313.6 135.3 322.4 135.6 332.8 136.1 344 136.8 355.6 137.7 366.7 138.9 376.8 140.3 385.2 141.9 391.5 143.7 395.4 145.8 396.5 148.1 394.8 150.5 390.4 153.2 383.6 156.1 374.8 159.1 364.5 162.4 353.2 165.8 341.6 169.4 330.5 173.1 320.4 177 312 181 305.7 185.1 301.8 189.4 300.7 193.8 302.4 198.3 306.8 202.8 313.6 207.5 322.4 212.2 332.8 217 344 221.8 355.6 226.6 366.7 231.5 376.8 236.4 385.2" fill="none" stroke="#eda548" stroke-width="0.45" stroke-opacity="0.56"/>
<path d="M236.6 386.1 241.5 391.9 246.3 395.1 251.1 395.6 255.9 393.3 260.6 388.4 265.3 381.2 269.9 372 274.4 361.4 278.8 350.1 283.2 338.6 287.4 327.7 291.5 318 295.5 310 299.3 304.2 303 301 306.6 300.5 310 302.8 313.2 307.7 316.2 315 319 324.1 321.7 334.7 324.1 346.1 326.4 357.5 328.4 368.4 330.3 378.1 331.9 386.1 333.2 391.9 334.4 395.1 335.3 395.6 336 393.3 336.5 388.4 336.7 381.2 336.7 372 336.5 361.4 336 350.1 335.3 338.6 334.4 327.7 333.2 318 331.9 310 330.3 304.2 328.4 301 326.4 300.5 324.1 302.8 321.7 307.7 319 315 316.2 324.1 313.2 334.7 310 346.1 306.6 357.5 303 368.4 299.3 378.1 295.5 386.1 291.5 391.9 287.4 395.1 283.2 395.6 278.8 393.3 274.4 388.4 269.9 381.2 265.3 372 260.6 361.4 255.9 350.1 251.1 338.6 246.3 327.7 241.5 318 236.6 310 231.8 304.2 227 301 222.2 300.5 217.4 302.8 212.7 307.7 208 315 203.4 324.1 198.9 334.7 194.4 346.1 190.1 357.5 185.9 368.4 181.8 378.1 177.8 386.1 173.9 391.9 170.2 395.1 166.7 395.6 163.3 393.3 160.1 388.4 157.1 381.2 154.2 372 151.6 361.4 149.1 350.1 146.9 338.6 144.8 327.7 143 318 141.4 310 140 304.2 138.9 301 137.9 300.5 137.2 302.8 136.8 307.7 136.5 315 136.5 324.1 136.8 334.7 137.2 346.1 137.9 357.5 138.9 368.4 140 378.1 141.4 386.1 143 391.9 144.8 395.1 146.9 395.6 149.1 393.3 151.6 388.4 154.2 381.2 157.1 372 160.1 361.4 163.3 350.1 166.7 338.6 170.2 327.7 173.9 318 177.8 310 181.8 304.2 185.9 301 190.1 300.5 194.4 302.8 198.9 307.7 203.4 315 208 324.1 212.7 334.7 217.4 346.1 222.2 357.5 227 368.4 231.8 378.1 236.6 386.1" fill="none" stroke="#eda548" stroke-width="0.45" stroke-opacity="0.56"/>
<path d="M236.8 390.9 241.6 394.9 246.4 396.1 251.2 394.6 256 390.3 260.7 383.6 265.4 374.8 270 364.4 274.5 353 278.9 341.4 283.3 330.1 287.5 319.9 291.6 311.3 295.6 304.8 299.4 300.8 303.1 299.6 306.7 301.1 310 305.4 313.3 312.1 316.3 320.9 319.1 331.3 321.8 342.7 324.2 354.3 326.5 365.6 328.5 375.8 330.3 384.4 331.9 390.9 333.3 394.9 334.5 396.1 335.4 394.6 336.1 390.3 336.6 383.6 336.8 374.8 336.8 364.4 336.6 353 336.1 341.4 335.4 330.1 334.5 319.9 333.3 311.3 331.9 304.8 330.3 300.8 328.5 299.6 326.5 301.1 324.2 305.4 321.8 312.1 319.1 320.9 316.3 331.3 313.3 342.7 310 354.3 306.7 365.6 303.1 375.8 299.4 384.4 295.6 390.9 291.6 394.9 287.5 396.1 283.3 394.6 278.9 390.3 274.5 383.6 270 374.8 265.4 364.4 260.7 353 256 341.4 251.2 330.1 246.4 319.9 241.6 311.3 236.8 304.8 231.9 300.8 227.1 299.6 222.3 301.1 217.5 305.4 212.8 312.1 208.2 320.9 203.6 331.3 199 342.7 194.6 354.3 190.3 365.6 186 375.8 181.9 384.4 178 390.9 174.1 394.9 170.4 396.1 166.9 394.6 163.5 390.3 160.3 383.6 157.3 374.8 154.4 364.4 151.8 353 149.3 341.4 147.1 330.1 145 319.9 143.2 311.3 141.6 304.8 140.2 300.8 139.1 299.6 138.1 301.1 137.4 305.4 137 312.1 136.7 320.9 136.7 331.3 137 342.7 137.4 354.3 138.1 365.6 139.1 375.8 140.2 384.4 141.6 390.9 143.2 394.9 145 396.1 147.1 394.6 149.3 390.3 151.8 383.6 154.4 374.8 157.3 364.4 160.3 353 163.5 341.4 166.9 330.1 170.4 319.9 174.1 311.3 178 304.8 181.9 300.8 186 299.6 190.3 301.1 194.6 305.4 199 312.1 203.6 320.9 208.2 331.3 212.8 342.7 217.5 354.3 222.3 365.6 227.1 375.8 231.9 384.4 236.8 390.9" fill="none" stroke="#eda548" stroke-width="0.45" stroke-opacity="0.56"/>
<path d="M236.5 390.9 241.4 395.1 246.2 396.6 251.1 395.3 255.9 391.2 260.6 384.7 265.3 376 270 365.8 274.5 354.5 279 342.9 283.4 331.5 287.6 321.2 291.8 312.4 295.8 305.7 299.7 301.5 303.4 300 307 301.3 310.4 305.4 313.6 311.9 316.7 320.5 319.5 330.8 322.2 342.1 324.7 353.7 326.9 365.1 329 375.4 330.8 384.2 332.5 390.9 333.9 395.1 335 396.6 336 395.3 336.7 391.2 337.1 384.7 337.4 376 337.4 365.8 337.1 354.5 336.7 342.9 336 331.5 335 321.2 333.9 312.4 332.5 305.7 330.8 301.5 329 300 326.9 301.3 324.7 305.4 322.2 311.9 319.5 320.5 316.7 330.8 313.6 342.1 310.4 353.7 307 365.1 303.4 375.4 299.7 384.2 295.8 390.9 291.8 395.1 287.6 396.6 283.4 395.3 279 391.2 274.5 384.7 270 376 265.3 365.8 260.6 354.5 255.9 342.9 251.1 331.5 246.2 321.2 241.4 312.4 236.5 305.7 231.6 301.5 226.7 300 221.9 301.3 217.1 305.4 212.3 311.9 207.6 320.5 203 330.8 198.4 342.1 193.9 353.7 189.6 365.1 185.3 375.4 181.2 384.2 177.2 390.9 173.3 395.1 169.6 396.6 166 395.3 162.6 391.2 159.3 384.7 156.3 376 153.4 365.8 150.7 354.5 148.3 342.9 146 331.5 143.9 321.2 142.1 312.4 140.5 305.7 139.1 301.5 137.9 300 137 301.3 136.3 305.4 135.8 311.9 135.6 320.5 135.6 330.8 135.8 342.1 136.3 353.7 137 365.1 137.9 375.4 139.1 384.2 140.5 390.9 142.1 395.1 143.9 396.6 146 395.3 148.3 391.2 150.7 384.7 153.4 376 156.3 365.8 159.3 354.5 162.6 342.9 166 331.5 169.6 321.2 173.3 312.4 177.2 305.7 181.2 301.5 185.3 300 189.6 301.3 193.9 305.4 198.4 311.9 203 320.5 207.6 330.8 212.3 342.1 217.1 353.7 221.9 365.1 226.7 375.4 231.6 384.2 236.5 390.9" fill="none" stroke="#eda548" stroke-width="0.45" stroke-opacity="0.56"/>
<path d="M237.2 388.7 242.1 393.9 246.9 396.4 251.7 396.1 256.5 393.1 261.2 387.4 265.9 379.4 270.5 369.7 275 358.6 279.4 347 283.8 335.5 288 324.6 292.1 315.2 296.1 307.7 299.9 302.5 303.6 300 307.2 300.3 310.5 303.3 313.7 309 316.8 317 319.6 326.7 322.3 337.7 324.7 349.4 327 360.9 329 371.7 330.8 381.2 332.4 388.7 333.8 393.9 335 396.4 335.9 396.1 336.6 393.1 337.1 387.4 337.3 379.4 337.3 369.7 337.1 358.6 336.6 347 335.9 335.5 335 324.6 333.8 315.2 332.4 307.7 330.8 302.5 329 300 327 300.3 324.7 303.3 322.3 309 319.6 317 316.8 326.7 313.7 337.7 310.5 349.4 307.2 360.9 303.6 371.7 299.9 381.2 296.1 388.7 292.1 393.9 288 396.4 283.8 396.1 279.4 393.1 275 387.4 270.5 379.4 265.9 369.7 261.2 358.6 256.5 347 251.7 335.5 246.9 324.6 242.1 315.2 237.2 307.7 232.4 302.5 227.6 300 222.8 300.3 218 303.3 213.3 309 208.6 317 204 326.7 199.5 337.7 195 349.4 190.7 360.9 186.5 371.7 182.4 381.2 178.4 388.7 174.5 393.9 170.8 396.4 167.3 396.1 163.9 393.1 160.7 387.4 157.7 379.4 154.8 369.7 152.2 358.6 149.7 347 147.5 335.5 145.4 324.6 143.6 315.2 142 307.7 140.6 302.5 139.5 300 138.5 300.3 137.8 303.3 137.4 309 137.1 317 137.1 326.7 137.4 337.7 137.8 349.4 138.5 360.9 139.5 371.7 140.6 381.2 142 388.7 143.6 393.9 145.4 396.4 147.5 396.1 149.7 393.1 152.2 387.4 154.8 379.4 157.7 369.7 160.7 358.6 163.9 347 167.3 335.5 170.8 324.6 174.5 315.2 178.4 307.7 182.4 302.5 186.5 300 190.7 300.3 195 303.3 199.5 309 204 317 208.6 326.7 213.3 337.7 218 349.4 222.8 360.9 227.6 371.7 232.4 381.2 237.2 388.7" fill="none" stroke="#eda548" stroke-width="0.45" stroke-opacity="0.56"/>
<path d="M236.3 391.7 241.2 394.7 246.1 395 251 392.6 255.9 387.6 260.7 380.4 265.4 371.3 270.1 360.9 274.7 349.7 279.2 338.5 283.6 327.8 287.9 318.4 292.1 310.7 296.2 305.1 300.1 302.1 303.9 301.8 307.5 304.2 310.9 309.2 314.2 316.4 317.2 325.5 320.1 335.9 322.8 347.1 325.3 358.3 327.6 369 329.7 378.4 331.6 386.2 333.2 391.7 334.6 394.7 335.8 395 336.7 392.6 337.4 387.6 337.9 380.4 338.1 371.3 338.1 360.9 337.9 349.7 337.4 338.5 336.7 327.8 335.8 318.4 334.6 310.7 333.2 305.1 331.6 302.1 329.7 301.8 327.6 304.2 325.3 309.2 322.8 316.4 320.1 325.5 317.2 335.9 314.2 347.1 310.9 358.3 307.5 369 303.9 378.4 300.1 386.2 296.2 391.7 292.1 394.7 287.9 395 283.6 392.6 279.2 387.6 274.7 380.4 270.1 371.3 265.4 360.9 260.7 349.7 255.9 338.5 251 327.8 246.1 318.4 241.2 310.7 236.3 305.1 231.4 302.1 226.5 301.8 221.6 304.2 216.7 309.2 211.9 316.4 207.2 325.5 202.5 335.9 197.9 347.1 193.4 358.3 189 369 184.7 378.4 180.5 386.2 176.4 391.7 172.5 394.7 168.7 395 165.1 392.6 161.7 387.6 158.4 380.4 155.4 371.3 152.5 360.9 149.8 349.7 147.3 338.5 145 327.8 142.9 318.4 141 310.7 139.4 305.1 138 302.1 136.8 301.8 135.9 304.2 135.2 309.2 134.7 316.4 134.5 325.5 134.5 335.9 134.7 347.1 135.2 358.3 135.9 369 136.8 378.4 138 386.2 139.4 391.7 141 394.7 142.9 395 145 392.6 147.3 387.6 149.8 380.4 152.5 371.3 155.4 360.9 158.4 349.7 161.7 338.5 165.1 327.8 168.7 318.4 172.5 310.7 176.4 305.1 180.5 302.1 184.7 301.8 189 304.2 193.4 309.2 197.9 316.4 202.5 325.5 207.2 335.9 211.9 347.1 216.7 358.3 221.6 369 226.5 378.4 231.4 386.2 236.3 391.7" fill="none" stroke="#eda548" stroke-width="0.45" stroke-opacity="0.56"/>
<path d="M237.4 394.4 242.3 395.1 247.1 393.1 251.9 388.4 256.7 381.5 261.4 372.6 266.1 362.3 270.7 351.1 275.2 339.9 279.6 329.1 284 319.4 288.2 311.4 292.3 305.5 296.3 302.1 300.1 301.4 303.8 303.4 307.4 308.1 310.8 315 314 323.9 317 334.2 319.9 345.3 322.5 356.6 325 367.4 327.2 377.1 329.3 385.1 331.1 391 332.7 394.4 334.1 395.1 335.2 393.1 336.2 388.4 336.9 381.5 337.3 372.6 337.6 362.3 337.6 351.1 337.3 339.9 336.9 329.1 336.2 319.4 335.2 311.4 334.1 305.5 332.7 302.1 331.1 301.4 329.3 303.4 327.2 308.1 325 315 322.5 323.9 319.9 334.2 317 345.3 314 356.6 310.8 367.4 307.4 377.1 303.8 385.1 300.1 391 296.3 394.4 292.3 395.1 288.2 393.1 284 388.4 279.6 381.5 275.2 372.6 270.7 362.3 266.1 351.1 261.4 339.9 256.7 329.1 251.9 319.4 247.1 311.4 242.3 305.5 237.4 302.1 232.6 301.4 227.8 303.4 223 308.1 218.2 315 213.5 323.9 208.8 334.2 204.2 345.3 199.7 356.6 195.2 367.4 190.9 377.1 186.6 385.1 182.5 391 178.5 394.4 174.7 395.1 171 393.1 167.5 388.4 164.1 381.5 160.9 372.6 157.8 362.3 155 351.1 152.3 339.9 149.9 329.1 147.6 319.4 145.6 311.4 143.8 305.5 142.2 302.1 140.8 301.4 139.6 303.4 138.7 308.1 138 315 137.5 323.9 137.3 334.2 137.3 345.3 137.5 356.6 138 367.4 138.7 377.1 139.6 385.1 140.8 391 142.2 394.4 143.8 395.1 145.6 393.1 147.6 388.4 149.9 381.5 152.3 372.6 155 362.3 157.8 351.1 160.9 339.9 164.1 329.1 167.5 319.4 171 311.4 174.7 305.5 178.5 302.1 182.5 301.4 186.6 303.4 190.9 308.1 195.2 315 199.7 323.9 204.2 334.2 208.8 345.3 213.5 356.6 218.2 367.4 223 377.1 227.8 385.1 232.6 391 237.4 394.4" fill="none" stroke="#eda548" stroke-width="0.45" stroke-opacity="0.56"/>
<path d="M235.4 395.5 240.3 397 245.2 395.8 250 391.8 254.8 385.3 259.6 376.6 264.3 366.3 268.9 355 273.5 343.3 278 331.9 282.4 321.5 286.6 312.6 290.8 305.9 294.8 301.6 298.7 300 302.4 301.3 306 305.3 309.4 311.8 312.6 320.4 315.7 330.7 318.6 342 321.2 353.7 323.7 365.1 326 375.6 328 384.4 329.9 391.2 331.5 395.5 332.9 397 334.1 395.8 335 391.8 335.7 385.3 336.2 376.6 336.4 366.3 336.4 355 336.2 343.3 335.7 331.9 335 321.5 334.1 312.6 332.9 305.9 331.5 301.6 329.9 300 328 301.3 326 305.3 323.7 311.8 321.2 320.4 318.6 330.7 315.7 342 312.6 353.7 309.4 365.1 306 375.6 302.4 384.4 298.7 391.2 294.8 395.5 290.8 397 286.6 395.8 282.4 391.8 278 385.3 273.5 376.6 268.9 366.3 264.3 355 259.6 343.3 254.8 331.9 250 321.5 245.2 312.6 240.3 305.9 235.4 301.6 230.5 300 225.7 301.3 220.8 305.3 216 311.8 211.2 320.4 206.5 330.7 201.9 342 197.3 353.7 192.8 365.1 188.4 375.6 184.2 384.4 180 391.2 176 395.5 172.1 397 168.4 395.8 164.8 391.8 161.4 385.3 158.2 376.6 155.1 366.3 152.2 355 149.6 343.3 147.1 331.9 144.8 321.5 142.8 312.6 140.9 305.9 139.3 301.6 137.9 300 136.7 301.3 135.8 305.3 135.1 311.8 134.6 320.4 134.4 330.7 134.4 342 134.6 353.7 135.1 365.1 135.8 375.6 136.7 384.4 137.9 391.2 139.3 395.5 140.9 397 142.8 395.8 144.8 391.8 147.1 385.3 149.6 376.6 152.2 366.3 155.1 355 158.2 343.3 161.4 331.9 164.8 321.5 168.4 312.6 172.1 305.9 176 301.6 180 300 184.2 301.3 188.4 305.3 192.8 311.8 197.3 320.4 201.9 330.7 206.5 342 211.2 353.7 216 365.1 220.8 375.6 225.7 384.4 230.5 391.2 235.4 395.5" fill="none" stroke="#eda548" stroke-width="0.45" stroke-opacity="0.56"/>
<path d="M235.8 397 240.6 395.7 245.4 391.6 250.2 385.1 254.9 376.4 259.6 366.1 264.2 354.8 268.8 343.1 273.3 331.8 277.7 321.4 282 312.6 286.2 305.8 290.2 301.6 294.2 300.1 298 301.4 301.7 305.5 305.2 312 308.5 320.7 311.7 331 314.7 342.3 317.5 354 320.2 365.3 322.6 375.7 324.8 384.5 326.9 391.2 328.7 395.5 330.3 397 331.6 395.7 332.8 391.6 333.7 385.1 334.4 376.4 334.9 366.1 335.1 354.8 335.1 343.1 334.9 331.8 334.4 321.4 333.7 312.6 332.8 305.8 331.6 301.6 330.3 300.1 328.7 301.4 326.9 305.5 324.8 312 322.6 320.7 320.2 331 317.5 342.3 314.7 354 311.7 365.3 308.5 375.7 305.2 384.5 301.7 391.2 298 395.5 294.2 397 290.2 395.7 286.2 391.6 282 385.1 277.7 376.4 273.3 366.1 268.8 354.8 264.2 343.1 259.6 331.8 254.9 321.4 250.2 312.6 245.4 305.8 240.6 301.6 235.8 300.1 231 301.4 226.2 305.5 221.5 312 216.7 320.7 212 331 207.4 342.3 202.8 354 198.4 365.3 194 375.7 189.7 384.5 185.5 391.2 181.4 395.5 177.4 397 173.6 395.7 169.9 391.6 166.4 385.1 163.1 376.4 159.9 366.1 156.9 354.8 154.1 343.1 151.4 331.8 149 321.4 146.8 312.6 144.8 305.8 142.9 301.6 141.4 300.1 140 301.4 138.8 305.5 137.9 312 137.2 320.7 136.8 331 136.5 342.3 136.5 354 136.8 365.3 137.2 375.7 137.9 384.5 138.8 391.2 140 395.5 141.4 397 142.9 395.7 144.8 391.6 146.8 385.1 149 376.4 151.4 366.1 154.1 354.8 156.9 343.1 159.9 331.8 163.1 321.4 166.4 312.6 169.9 305.8 173.6 301.6 177.4 300.1 181.4 301.4 185.5 305.5 189.7 312 194 320.7 198.4 331 202.8 342.3 207.4 354 212 365.3 216.7 375.7 221.5 384.5 226.2 391.2 231 395.5 235.8 397" fill="none" stroke="#eda548" stroke-width="0.45" stroke-opacity="0.56"/>
<path d="M236.7 396.1 241.7 394.3 246.6 389.8 251.6 382.9 256.5 374 261.3 363.6 266.1 352.4 270.8 340.9 275.5 329.9 280 319.9 284.5 311.6 288.8 305.5 293 301.8 297.1 300.9 301.1 302.7 304.9 307.2 308.5 314.1 312 323 315.3 333.4 318.4 344.7 321.3 356.1 324 367.2 326.6 377.1 328.9 385.4 331 391.6 332.8 395.2 334.5 396.1 335.9 394.3 337.1 389.8 338.1 382.9 338.8 374 339.3 363.6 339.5 352.4 339.5 340.9 339.3 329.9 338.8 319.9 338.1 311.6 337.1 305.5 335.9 301.8 334.5 300.9 332.8 302.7 331 307.2 328.9 314.1 326.6 323 324 333.4 321.3 344.7 318.4 356.1 315.3 367.2 312 377.1 308.5 385.4 304.9 391.6 301.1 395.2 297.1 396.1 293 394.3 288.8 389.8 284.5 382.9 280 374 275.5 363.6 270.8 352.4 266.1 340.9 261.3 329.9 256.5 319.9 251.6 311.6 246.6 305.5 241.7 301.8 236.7 300.9 231.7 302.7 226.8 307.2 221.8 314.1 216.9 323 212.1 333.4 207.3 344.7 202.6 356.1 197.9 367.2 193.4 377.1 188.9 385.4 184.6 391.6 180.4 395.2 176.3 396.1 172.3 394.3 168.5 389.8 164.9 382.9 161.4 374 158.1 363.6 155 352.4 152.1 340.9 149.4 329.9 146.8 319.9 144.5 311.6 142.4 305.5 140.6 301.8 138.9 300.9 137.5 302.7 136.3 307.2 135.4 314.1 134.6 323 134.2 333.4 133.9 344.7 133.9 356.1 134.2 367.2 134.6 377.1 135.4 385.4 136.3 391.6 137.5 395.2 138.9 396.1 140.6 394.3 142.4 389.8 144.5 382.9 146.8 374 149.4 363.6 152.1 352.4 155 340.9 158.1 329.9 161.4 319.9 164.9 311.6 168.5 305.5 172.3 301.8 176.3 300.9 180.4 302.7 184.6 307.2 188.9 314.1 193.4 323 197.9 333.4 202.6 344.7 207.3 356.1 212.1 367.2 216.9 377.1 221.8 385.4 226.8 391.6 231.7 395.2 236.7 396.1" fill="none" stroke="#eda548" stroke-width="0.45" stroke-opacity="0.56"/>
<path d="M236.7 395.7 241.5 394.1 246.4 389.8 251.2 383 256 374.3 260.7 364 265.4 352.7 270 341.2 274.5 330.1 279 320 283.3 311.5 287.6 305.2 291.7 301.3 295.7 300.1 299.6 301.7 303.3 306 306.8 312.7 310.2 321.5 313.4 331.8 316.5 343 319.3 354.5 322 365.7 324.4 375.8 326.7 384.2 328.7 390.6 330.6 394.5 332.2 395.7 333.6 394.1 334.7 389.8 335.7 383 336.4 374.3 336.8 364 337.1 352.7 337.1 341.2 336.8 330.1 336.4 320 335.7 311.5 334.7 305.2 333.6 301.3 332.2 300.1 330.6 301.7 328.7 306 326.7 312.7 324.4 321.5 322 331.8 319.3 343 316.5 354.5 313.4 365.7 310.2 375.8 306.8 384.2 303.3 390.6 299.6 394.5 295.7 395.7 291.7 394.1 287.6 389.8 283.3 383 279 374.3 274.5 364 270 352.7 265.4 341.2 260.7 330.1 256 320 251.2 311.5 246.4 305.2 241.5 301.3 236.7 300.1 231.8 301.7 227 306 222.2 312.7 217.4 321.5 212.6 331.8 207.9 343 203.3 354.5 198.8 365.7 194.3 375.8 190 384.2 185.7 390.6 181.6 394.5 177.6 395.7 173.8 394.1 170.1 389.8 166.5 383 163.1 374.3 159.9 364 156.9 352.7 154 341.2 151.4 330.1 148.9 320 146.6 311.5 144.6 305.2 142.8 301.3 141.1 300.1 139.8 301.7 138.6 306 137.7 312.7 137 321.5 136.5 331.8 136.3 343 136.3 354.5 136.5 365.7 137 375.8 137.7 384.2 138.6 390.6 139.8 394.5 141.1 395.7 142.8 394.1 144.6 389.8 146.6 383 148.9 374.3 151.4 364 154 352.7 156.9 341.2 159.9 330.1 163.1 320 166.5 311.5 170.1 305.2 173.8 301.3 177.6 300.1 181.6 301.7 185.7 306 190 312.7 194.3 321.5 198.8 331.8 203.3 343 207.9 354.5 212.6 365.7 217.4 375.8 222.2 384.2 227 390.6 231.8 394.5 236.7 395.7" fill="none" stroke="#eda548" stroke-width="0.45" stroke-opacity="0.56"/>
<path d="M237.6 395 242.5 391.2 247.3 384.9 252.2 376.5 257 366.4 261.8 355.2 266.6 343.6 271.2 332.3 275.8 321.9 280.3 313 284.7 306.2 289 301.8 293.1 300.1 297.2 301.2 301.1 305 304.8 311.3 308.4 319.7 311.8 329.8 315.1 341 318.2 352.6 321 363.9 323.7 374.3 326.2 383.2 328.5 390 330.5 394.4 332.4 396.1 334 395 335.4 391.2 336.6 384.9 337.5 376.5 338.2 366.4 338.7 355.2 339 343.6 339 332.3 338.7 321.9 338.2 313 337.5 306.2 336.6 301.8 335.4 300.1 334 301.2 332.4 305 330.5 311.3 328.5 319.7 326.2 329.8 323.7 341 321 352.6 318.2 363.9 315.1 374.3 311.8 383.2 308.4 390 304.8 394.4 301.1 396.1 297.2 395 293.1 391.2 289 384.9 284.7 376.5 280.3 366.4 275.8 355.2 271.2 343.6 266.6 332.3 261.8 321.9 257 313 252.2 306.2 247.3 301.8 242.5 300.1 237.6 301.2 232.6 305 227.8 311.3 222.9 319.7 218.1 329.8 213.3 341 208.5 352.6 203.9 363.9 199.3 374.3 194.8 383.2 190.4 390 186.1 394.4 182 396.1 177.9 395 174 391.2 170.3 384.9 166.7 376.5 163.3 366.4 160 355.2 156.9 343.6 154.1 332.3 151.4 321.9 148.9 313 146.6 306.2 144.6 301.8 142.7 300.1 141.1 301.2 139.7 305 138.5 311.3 137.6 319.7 136.9 329.8 136.4 341 136.1 352.6 136.1 363.9 136.4 374.3 136.9 383.2 137.6 390 138.5 394.4 139.7 396.1 141.1 395 142.7 391.2 144.6 384.9 146.6 376.5 148.9 366.4 151.4 355.2 154.1 343.6 156.9 332.3 160 321.9 163.3 313 166.7 306.2 170.3 301.8 174 300.1 177.9 301.2 182 305 186.1 311.3 190.4 319.7 194.8 329.8 199.3 341 203.9 352.6 208.5 363.9 213.3 374.3 218.1 383.2 222.9 390 227.8 394.4 232.6 396.1 237.6 395" fill="none" stroke="#eda548" stroke-width="0.45" stroke-opacity="0.56"/>
<path d="M235.7 393.3 240.6 387.7 245.4 379.8 250.3 370.1 255.1 359.1 259.8 347.5 264.5 335.9 269.1 325.1 273.7 315.6 278.1 308 282.5 302.7 286.7 300.1 290.8 300.3 294.8 303.3 298.7 308.8 302.4 316.7 306 326.4 309.4 337.4 312.6 349 315.6 360.6 318.5 371.5 321.2 381 323.6 388.6 325.9 393.8 327.9 396.4 329.8 396.2 331.4 393.3 332.8 387.7 333.9 379.8 334.9 370.1 335.6 359.1 336 347.5 336.3 335.9 336.3 325.1 336 315.6 335.6 308 334.9 302.7 333.9 300.1 332.8 300.3 331.4 303.3 329.8 308.8 327.9 316.7 325.9 326.4 323.6 337.4 321.2 349 318.5 360.6 315.6 371.5 312.6 381 309.4 388.6 306 393.8 302.4 396.4 298.7 396.2 294.8 393.3 290.8 387.7 286.7 379.8 282.5 370.1 278.1 359.1 273.7 347.5 269.1 335.9 264.5 325.1 259.8 315.6 255.1 308 250.3 302.7 245.4 300.1 240.6 300.3 235.7 303.3 230.9 308.8 226 316.7 221.2 326.4 216.4 337.4 211.7 349 207 360.6 202.4 371.5 197.8 381 193.4 388.6 189 393.8 184.8 396.4 180.6 396.2 176.6 393.3 172.8 387.7 169.1 379.8 165.5 370.1 162.1 359.1 158.9 347.5 155.8 335.9 153 325.1 150.3 315.6 147.8 308 145.6 302.7 143.5 300.1 141.7 300.3 140.1 303.3 138.7 308.8 137.5 316.7 136.6 326.4 135.9 337.4 135.4 349 135.2 360.6 135.2 371.5 135.4 381 135.9 388.6 136.6 393.8 137.5 396.4 138.7 396.2 140.1 393.3 141.7 387.7 143.5 379.8 145.6 370.1 147.8 359.1 150.3 347.5 153 335.9 155.8 325.1 158.9 315.6 162.1 308 165.5 302.7 169.1 300.1 172.8 300.3 176.6 303.3 180.6 308.8 184.8 316.7 189 326.4 193.4 337.4 197.8 349 202.4 360.6 207 371.5 211.7 381 216.4 388.6 221.2 393.8 226 396.4 230.9 396.2 235.7 393.3" fill="none" stroke="#eda548" stroke-width="0.45" stroke-opacity="0.56"/>
<path d="M236.5 393.3 241.4 388.5 246.2 381.3 251.1 372.2 255.9 361.7 260.6 350.3 265.3 338.9 269.9 327.9 274.5 318.2 278.9 310.2 283.3 304.3 287.5 301 291.7 300.5 295.7 302.7 299.5 307.5 303.2 314.7 306.8 323.8 310.2 334.3 313.4 345.6 316.5 357.1 319.3 368 322 377.8 324.4 385.8 326.7 391.6 328.8 394.9 330.6 395.5 332.2 393.3 333.6 388.5 334.8 381.3 335.7 372.2 336.4 361.7 336.9 350.3 337.1 338.9 337.1 327.9 336.9 318.2 336.4 310.2 335.7 304.3 334.8 301 333.6 300.5 332.2 302.7 330.6 307.5 328.8 314.7 326.7 323.8 324.4 334.3 322 345.6 319.3 357.1 316.5 368 313.4 377.8 310.2 385.8 306.8 391.6 303.2 394.9 299.5 395.5 295.7 393.3 291.7 388.5 287.5 381.3 283.3 372.2 278.9 361.7 274.5 350.3 269.9 338.9 265.3 327.9 260.6 318.2 255.9 310.2 251.1 304.3 246.2 301 241.4 300.5 236.5 302.7 231.7 307.5 226.8 314.7 222 323.8 217.2 334.3 212.5 345.6 207.8 357.1 203.1 368 198.6 377.8 194.1 385.8 189.8 391.6 185.5 394.9 181.4 395.5 177.4 393.3 173.5 388.5 169.8 381.3 166.3 372.2 162.9 361.7 159.6 350.3 156.6 338.9 153.7 327.9 151.1 318.2 148.6 310.2 146.3 304.3 144.3 301 142.5 300.5 140.9 302.7 139.5 307.5 138.3 314.7 137.4 323.8 136.7 334.3 136.2 345.6 136 357.1 136 368 136.2 377.8 136.7 385.8 137.4 391.6 138.3 394.9 139.5 395.5 140.9 393.3 142.5 388.5 144.3 381.3 146.3 372.2 148.6 361.7 151.1 350.3 153.7 338.9 156.6 327.9 159.6 318.2 162.9 310.2 166.3 304.3 169.8 301 173.5 300.5 177.4 302.7 181.4 307.5 185.5 314.7 189.8 323.8 194.1 334.3 198.6 345.6 203.1 357.1 207.8 368 212.5 377.8 217.2 385.8 222 391.6 226.8 394.9 231.7 395.5 236.5 393.3" fill="none" stroke="#eda548" stroke-width="0.45" stroke-opacity="0.56"/>
<path d="M236.4 394.7 241.3 391.1 246.1 385 251 376.8 255.8 366.9 260.5 355.9 265.2 344.4 269.8 333.1 274.3 322.7 278.8 313.7 283.2 306.8 287.4 302.2 291.5 300.3 295.5 301.1 299.4 304.7 303.1 310.7 306.7 319 310 328.9 313.3 339.9 316.3 351.4 319.2 362.7 321.8 373.1 324.3 382 326.5 389 328.6 393.6 330.4 395.5 332 394.7 333.4 391.1 334.6 385 335.5 376.8 336.2 366.9 336.7 355.9 336.9 344.4 336.9 333.1 336.7 322.7 336.2 313.7 335.5 306.8 334.6 302.2 333.4 300.3 332 301.1 330.4 304.7 328.6 310.7 326.5 319 324.3 328.9 321.8 339.9 319.2 351.4 316.3 362.7 313.3 373.1 310 382 306.7 389 303.1 393.6 299.4 395.5 295.5 394.7 291.5 391.1 287.4 385 283.2 376.8 278.8 366.9 274.3 355.9 269.8 344.4 265.2 333.1 260.5 322.7 255.8 313.7 251 306.8 246.1 302.2 241.3 300.3 236.4 301.1 231.6 304.7 226.7 310.7 221.9 319 217.1 328.9 212.4 339.9 207.7 351.4 203.1 362.7 198.5 373.1 194.1 382 189.7 389 185.5 393.6 181.4 395.5 177.4 394.7 173.5 391.1 169.8 385 166.2 376.8 162.8 366.9 159.6 355.9 156.6 344.4 153.7 333.1 151.1 322.7 148.6 313.7 146.3 306.8 144.3 302.2 142.5 300.3 140.8 301.1 139.5 304.7 138.3 310.7 137.4 319 136.7 328.9 136.2 339.9 135.9 351.4 135.9 362.7 136.2 373.1 136.7 382 137.4 389 138.3 393.6 139.5 395.5 140.8 394.7 142.5 391.1 144.3 385 146.3 376.8 148.6 366.9 151.1 355.9 153.7 344.4 156.6 333.1 159.6 322.7 162.8 313.7 166.2 306.8 169.8 302.2 173.5 300.3 177.4 301.1 181.4 304.7 185.5 310.7 189.7 319 194.1 328.9 198.5 339.9 203.1 351.4 207.7 362.7 212.4 373.1 217.1 382 221.9 389 226.7 393.6 231.6 395.5 236.4 394.7" fill="none" stroke="#eda548" stroke-width="0.45" stroke-opacity="0.56"/>
<path d="M236.5 391 241.4 384.5 246.3 375.8 251.1 365.6 256 354.4 260.8 342.9 265.5 331.7 270.2 321.5 274.8 312.8 279.3 306.3 283.7 302.2 288 300.8 292.2 302.1 296.2 306.2 300.1 312.8 303.8 321.4 307.4 331.6 310.9 342.8 314.1 354.3 317.2 365.5 320.1 375.8 322.8 384.4 325.3 391 327.6 395.1 329.6 396.5 331.5 395.1 333.1 391 334.5 384.5 335.7 375.8 336.6 365.6 337.3 354.4 337.8 342.9 338.1 331.7 338.1 321.5 337.8 312.8 337.3 306.3 336.6 302.2 335.7 300.8 334.5 302.1 333.1 306.2 331.5 312.8 329.6 321.4 327.6 331.6 325.3 342.8 322.8 354.3 320.1 365.5 317.2 375.8 314.1 384.4 310.9 391 307.4 395.1 303.8 396.5 300.1 395.1 296.2 391 292.2 384.5 288 375.8 283.7 365.6 279.3 354.4 274.8 342.9 270.2 331.7 265.5 321.5 260.8 312.8 256 306.3 251.1 302.2 246.3 300.8 241.4 302.1 236.5 306.2 231.5 312.8 226.6 321.4 221.8 331.6 216.9 342.8 212.1 354.3 207.4 365.5 202.7 375.8 198.1 384.4 193.6 391 189.2 395.1 184.9 396.5 180.8 395.1 176.7 391 172.8 384.5 169.1 375.8 165.5 365.6 162 354.4 158.8 342.9 155.7 331.7 152.8 321.5 150.1 312.8 147.6 306.3 145.3 302.2 143.3 300.8 141.4 302.1 139.8 306.2 138.4 312.8 137.2 321.4 136.3 331.6 135.6 342.8 135.1 354.3 134.8 365.5 134.8 375.8 135.1 384.4 135.6 391 136.3 395.1 137.2 396.5 138.4 395.1 139.8 391 141.4 384.5 143.3 375.8 145.3 365.6 147.6 354.4 150.1 342.9 152.8 331.7 155.7 321.5 158.8 312.8 162 306.3 165.5 302.2 169.1 300.8 172.8 302.1 176.7 306.2 180.8 312.8 184.9 321.4 189.2 331.6 193.6 342.8 198.1 354.3 202.7 365.5 207.4 375.8 212.1 384.4 216.9 391 221.8 395.1 226.6 396.5 231.5 395.1 236.5 391" fill="none" stroke="#eda548" stroke-width="0.45" stroke-opacity="0.56"/>
<path d="M236.5 386.1 241.5 377.7 246.4 367.6 251.2 356.4 256.1 344.6 260.9 333.1 265.6 322.5 270.3 313.3 274.9 306.2 279.4 301.5 283.8 299.6 288.1 300.4 292.3 304 296.3 310.2 300.2 318.6 304 328.7 307.6 340 311 351.7 314.3 363.2 317.4 373.8 320.3 383 323 390.1 325.5 394.8 327.7 396.8 329.8 395.9 331.7 392.3 333.3 386.1 334.7 377.7 335.9 367.6 336.8 356.4 337.5 344.6 338 333.1 338.3 322.5 338.3 313.3 338 306.2 337.5 301.5 336.8 299.6 335.9 300.4 334.7 304 333.3 310.2 331.7 318.6 329.8 328.7 327.7 340 325.5 351.7 323 363.2 320.3 373.8 317.4 383 314.3 390.1 311 394.8 307.6 396.8 304 395.9 300.2 392.3 296.3 386.1 292.3 377.7 288.1 367.6 283.8 356.4 279.4 344.6 274.9 333.1 270.3 322.5 265.6 313.3 260.9 306.2 256.1 301.5 251.2 299.6 246.4 300.4 241.5 304 236.5 310.2 231.6 318.6 226.7 328.7 221.8 340 217 351.7 212.2 363.2 207.4 373.8 202.8 383 198.2 390.1 193.7 394.8 189.3 396.8 185 395.9 180.8 392.3 176.7 386.1 172.8 377.7 169.1 367.6 165.5 356.4 162 344.6 158.8 333.1 155.7 322.5 152.8 313.3 150.1 306.2 147.6 301.5 145.3 299.6 143.3 300.4 141.4 304 139.8 310.2 138.4 318.6 137.2 328.7 136.2 340 135.5 351.7 135.1 363.2 134.8 373.8 134.8 383 135.1 390.1 135.5 394.8 136.2 396.8 137.2 395.9 138.4 392.3 139.8 386.1 141.4 377.7 143.3 367.6 145.3 356.4 147.6 344.6 150.1 333.1 152.8 322.5 155.7 313.3 158.8 306.2 162 301.5 165.5 299.6 169.1 300.4 172.8 304 176.7 310.2 180.8 318.6 185 328.7 189.3 340 193.7 351.7 198.2 363.2 202.8 373.8 207.4 383 212.2 390.1 217 394.8 221.8 396.8 226.7 395.9 231.6 392.3 236.5 386.1" fill="none" stroke="#eda548" stroke-width="0.45" stroke-opacity="0.56"/>
<path d="M236.9 382.6 241.7 373.6 246.6 363.2 251.4 351.8 256.2 340.3 261 329.2 265.6 319.2 270.3 311 274.8 304.9 279.3 301.3 283.6 300.4 287.9 302.4 292 307 296 314 299.9 323 303.6 333.5 307.1 344.8 310.5 356.4 313.7 367.4 316.8 377.4 319.6 385.7 322.3 391.8 324.8 395.3 327 396.2 329.1 394.2 330.9 389.6 332.5 382.6 333.9 373.6 335.1 363.2 336 351.8 336.7 340.3 337.2 329.2 337.4 319.2 337.4 311 337.2 304.9 336.7 301.3 336 300.4 335.1 302.4 333.9 307 332.5 314 330.9 323 329.1 333.5 327 344.8 324.8 356.4 322.3 367.4 319.6 377.4 316.8 385.7 313.7 391.8 310.5 395.3 307.1 396.2 303.6 394.2 299.9 389.6 296 382.6 292 373.6 287.9 363.2 283.6 351.8 279.3 340.3 274.8 329.2 270.3 319.2 265.6 311 261 304.9 256.2 301.3 251.4 300.4 246.6 302.4 241.7 307 236.9 314 232 323 227.2 333.5 222.4 344.8 217.6 356.4 212.8 367.4 208.1 377.4 203.5 385.7 199 391.8 194.5 395.3 190.2 396.2 185.9 394.2 181.8 389.6 177.8 382.6 173.9 373.6 170.2 363.2 166.7 351.8 163.3 340.3 160 329.2 157 319.2 154.1 311 151.5 304.9 149 301.3 146.8 300.4 144.7 302.4 142.9 307 141.3 314 139.9 323 138.7 333.5 137.8 344.8 137.1 356.4 136.6 367.4 136.4 377.4 136.4 385.7 136.6 391.8 137.1 395.3 137.8 396.2 138.7 394.2 139.9 389.6 141.3 382.6 142.9 373.6 144.7 363.2 146.8 351.8 149 340.3 151.5 329.2 154.1 319.2 157 311 160 304.9 163.3 301.3 166.7 300.4 170.2 302.4 173.9 307 177.8 314 181.8 323 185.9 333.5 190.2 344.8 194.5 356.4 199 367.4 203.5 377.4 208.1 385.7 212.8 391.8 217.6 395.3 222.4 396.2 227.2 394.2 232 389.6 236.9 382.6" fill="none" stroke="#eda548" stroke-width="0.45" stroke-opacity="0.56"/>
<path d="M237.1 384.6 242 376.1 246.9 365.9 251.8 354.7 256.6 343.2 261.4 331.9 266.2 321.7 270.8 312.9 275.4 306.3 280 302.1 284.4 300.6 288.7 301.9 292.8 305.9 296.9 312.4 300.8 321 304.6 331.2 308.2 342.3 311.6 353.9 314.9 365.1 317.9 375.4 320.8 384.1 323.5 390.7 326 394.9 328.3 396.4 330.4 395.1 332.2 391.1 333.9 384.6 335.3 376.1 336.5 365.9 337.4 354.7 338.1 343.2 338.6 331.9 338.8 321.7 338.8 312.9 338.6 306.3 338.1 302.1 337.4 300.6 336.5 301.9 335.3 305.9 333.9 312.4 332.2 321 330.4 331.2 328.3 342.3 326 353.9 323.5 365.1 320.8 375.4 317.9 384.1 314.9 390.7 311.6 394.9 308.2 396.4 304.6 395.1 300.8 391.1 296.9 384.6 292.8 376.1 288.7 365.9 284.4 354.7 280 343.2 275.4 331.9 270.8 321.7 266.2 312.9 261.4 306.3 256.6 302.1 251.8 300.6 246.9 301.9 242 305.9 237.1 312.4 232.1 321 227.2 331.2 222.4 342.3 217.5 353.9 212.7 365.1 208 375.4 203.3 384.1 198.7 390.7 194.2 394.9 189.8 396.4 185.5 395.1 181.3 391.1 177.2 384.6 173.3 376.1 169.6 365.9 166 354.7 162.5 343.2 159.3 331.9 156.2 321.7 153.3 312.9 150.6 306.3 148.1 302.1 145.8 300.6 143.7 301.9 141.9 305.9 140.3 312.4 138.8 321 137.7 331.2 136.7 342.3 136 353.9 135.5 365.1 135.3 375.4 135.3 384.1 135.5 390.7 136 394.9 136.7 396.4 137.7 395.1 138.8 391.1 140.3 384.6 141.9 376.1 143.7 365.9 145.8 354.7 148.1 343.2 150.6 331.9 153.3 321.7 156.2 312.9 159.3 306.3 162.5 302.1 166 300.6 169.6 301.9 173.3 305.9 177.2 312.4 181.3 321 185.5 331.2 189.8 342.3 194.2 353.9 198.7 365.1 203.3 375.4 208 384.1 212.7 390.7 217.5 394.9 222.4 396.4 227.2 395.1 232.1 391.1 237.1 384.6" fill="none" stroke="#eda548" stroke-width="0.45" stroke-opacity="0.56"/>
<path d="M236 377.7 241 368 245.8 357.2 250.7 345.8 255.6 334.5 260.4 324.1 265.1 315 269.8 307.8 274.4 303 278.9 300.8 283.3 301.3 287.5 304.6 291.7 310.4 295.8 318.3 299.7 328 303.4 338.9 307 350.2 310.4 361.5 313.7 371.9 316.8 381 319.7 388.2 322.3 393 324.8 395.2 327.1 394.7 329.2 391.4 331 385.7 332.7 377.7 334.1 368 335.2 357.2 336.2 345.8 336.9 334.5 337.4 324.1 337.6 315 337.6 307.8 337.4 303 336.9 300.8 336.2 301.3 335.2 304.6 334.1 310.4 332.7 318.3 331 328 329.2 338.9 327.1 350.2 324.8 361.5 322.3 371.9 319.7 381 316.8 388.2 313.7 393 310.4 395.2 307 394.7 303.4 391.4 299.7 385.7 295.8 377.7 291.7 368 287.5 357.2 283.3 345.8 278.9 334.5 274.4 324.1 269.8 315 265.1 307.8 260.4 303 255.6 300.8 250.7 301.3 245.8 304.6 241 310.4 236 318.3 231.1 328 226.2 338.9 221.4 350.2 216.5 361.5 211.7 371.9 207 381 202.3 388.2 197.7 393 193.2 395.2 188.8 394.7 184.5 391.4 180.4 385.7 176.3 377.7 172.4 368 168.7 357.2 165.1 345.8 161.7 334.5 158.4 324.1 155.3 315 152.4 307.8 149.7 303 147.3 300.8 145 301.3 142.9 304.6 141.1 310.4 139.4 318.3 138 328 136.8 338.9 135.9 350.2 135.2 361.5 134.7 371.9 134.5 381 134.5 388.2 134.7 393 135.2 395.2 135.9 394.7 136.8 391.4 138 385.7 139.4 377.7 141.1 368 142.9 357.2 145 345.8 147.3 334.5 149.7 324.1 152.4 315 155.3 307.8 158.4 303 161.7 300.8 165.1 301.3 168.7 304.6 172.4 310.4 176.3 318.3 180.4 328 184.5 338.9 188.8 350.2 193.2 361.5 197.7 371.9 202.3 381 207 388.2 211.7 393 216.5 395.2 221.4 394.7 226.2 391.4 231.1 385.7 236 377.7" fill="none" stroke="#eda548" stroke-width="0.45" stroke-opacity="0.56"/>
<path d="M236.9 375.2 241.8 365.1 246.7 354.1 251.6 342.7 256.5 331.6 261.3 321.5 266.1 312.8 270.8 306.3 275.4 302.1 279.9 300.7 284.4 301.9 288.7 305.9 292.9 312.2 296.9 320.7 300.9 330.7 304.6 341.8 308.3 353.2 311.7 364.3 315 374.4 318.1 383 321 389.6 323.7 393.8 326.2 395.2 328.5 394 330.6 390 332.4 383.6 334.1 375.2 335.5 365.1 336.7 354.1 337.6 342.7 338.3 331.6 338.8 321.5 339 312.8 339 306.3 338.8 302.1 338.3 300.7 337.6 301.9 336.7 305.9 335.5 312.2 334.1 320.7 332.4 330.7 330.6 341.8 328.5 353.2 326.2 364.3 323.7 374.4 321 383 318.1 389.6 315 393.8 311.7 395.2 308.3 394 304.6 390 300.9 383.6 296.9 375.2 292.9 365.1 288.7 354.1 284.4 342.7 279.9 331.6 275.4 321.5 270.8 312.8 266.1 306.3 261.3 302.1 256.5 300.7 251.6 301.9 246.7 305.9 241.8 312.2 236.9 320.7 231.9 330.7 227 341.8 222.1 353.2 217.2 364.3 212.4 374.4 207.6 383 202.9 389.6 198.3 393.8 193.8 395.2 189.4 394 185 390 180.8 383.6 176.8 375.2 172.8 365.1 169.1 354.1 165.5 342.7 162 331.6 158.7 321.5 155.6 312.8 152.7 306.3 150 302.1 147.5 300.7 145.2 301.9 143.1 305.9 141.3 312.2 139.6 320.7 138.2 330.7 137 341.8 136.1 353.2 135.4 364.3 134.9 374.4 134.7 383 134.7 389.6 134.9 393.8 135.4 395.2 136.1 394 137 390 138.2 383.6 139.6 375.2 141.3 365.1 143.1 354.1 145.2 342.7 147.5 331.6 150 321.5 152.7 312.8 155.6 306.3 158.7 302.1 162 300.7 165.5 301.9 169.1 305.9 172.8 312.2 176.8 320.7 180.8 330.7 185 341.8 189.4 353.2 193.8 364.3 198.3 374.4 202.9 383 207.6 389.6 212.4 393.8 217.2 395.2 222.1 394 227 390 231.9 383.6 236.9 375.2" fill="none" stroke="#eda548" stroke-width="0.45" stroke-opacity="0.56"/>
<path d="M236.8 377.9 241.7 367.9 246.5 356.7 251.4 345 256.2 333.6 260.9 323 265.6 313.9 270.3 306.8 274.8 302.2 279.3 300.2 283.6 301.1 287.9 304.7 292 310.8 296 319.2 299.9 329.2 303.6 340.4 307.2 352.1 310.6 363.5 313.8 374.1 316.9 383.2 319.7 390.3 322.4 394.9 324.9 396.9 327.1 396 329.2 392.4 331 386.3 332.7 377.9 334 367.9 335.2 356.7 336.1 345 336.8 333.6 337.3 323 337.6 313.9 337.6 306.8 337.3 302.2 336.8 300.2 336.1 301.1 335.2 304.7 334 310.8 332.7 319.2 331 329.2 329.2 340.4 327.1 352.1 324.9 363.5 322.4 374.1 319.7 383.2 316.9 390.3 313.8 394.9 310.6 396.9 307.2 396 303.6 392.4 299.9 386.3 296 377.9 292 367.9 287.9 356.7 283.6 345 279.3 333.6 274.8 323 270.3 313.9 265.6 306.8 260.9 302.2 256.2 300.2 251.4 301.1 246.5 304.7 241.7 310.8 236.8 319.2 231.9 329.2 227.1 340.4 222.2 352.1 217.4 363.5 212.7 374.1 208 383.2 203.4 390.3 198.8 394.9 194.3 396.9 190 396 185.7 392.4 181.6 386.3 177.6 377.9 173.7 367.9 170 356.7 166.4 345 163 333.6 159.8 323 156.7 313.9 153.9 306.8 151.2 302.2 148.7 300.2 146.5 301.1 144.4 304.7 142.6 310.8 141 319.2 139.6 329.2 138.4 340.4 137.5 352.1 136.8 363.5 136.3 374.1 136.1 383.2 136.1 390.3 136.3 394.9 136.8 396.9 137.5 396 138.4 392.4 139.6 386.3 141 377.9 142.6 367.9 144.4 356.7 146.5 345 148.7 333.6 151.2 323 153.9 313.9 156.7 306.8 159.8 302.2 163 300.2 166.4 301.1 170 304.7 173.7 310.8 177.6 319.2 181.6 329.2 185.7 340.4 190 352.1 194.3 363.5 198.8 374.1 203.4 383.2 208 390.3 212.7 394.9 217.4 396.9 222.2 396 227.1 392.4 231.9 386.3 236.8 377.9" fill="none" stroke="#eda548" stroke-width="0.45" stroke-opacity="0.56"/>
<path d="M236.7 375.5 241.6 365.1 246.6 353.7 251.4 342 256.3 330.7 261.1 320.4 265.8 311.7 270.5 305.2 275.1 301.1 279.6 299.8 284 301.3 288.3 305.6 292.5 312.3 296.5 321.2 300.4 331.6 304.2 343 307.8 354.7 311.2 366 314.5 376.3 317.6 385 320.4 391.5 323.1 395.6 325.6 396.9 327.9 395.4 330 391.1 331.8 384.4 333.5 375.5 334.9 365.1 336.1 353.7 337 342 337.7 330.7 338.2 320.4 338.4 311.7 338.4 305.2 338.2 301.1 337.7 299.8 337 301.3 336.1 305.6 334.9 312.3 333.5 321.2 331.8 331.6 330 343 327.9 354.7 325.6 366 323.1 376.3 320.4 385 317.6 391.5 314.5 395.6 311.2 396.9 307.8 395.4 304.2 391.1 300.4 384.4 296.5 375.5 292.5 365.1 288.3 353.7 284 342 279.6 330.7 275.1 320.4 270.5 311.7 265.8 305.2 261.1 301.1 256.3 299.8 251.4 301.3 246.6 305.6 241.6 312.3 236.7 321.2 231.8 331.6 226.9 343 222 354.7 217.2 366 212.4 376.3 207.6 385 203 391.5 198.4 395.6 193.9 396.9 189.5 395.4 185.2 391.1 181 384.4 176.9 375.5 173 365.1 169.3 353.7 165.7 342 162.2 330.7 159 320.4 155.9 311.7 153 305.2 150.3 301.1 147.8 299.8 145.6 301.3 143.5 305.6 141.6 312.3 140 321.2 138.6 331.6 137.4 343 136.5 354.7 135.8 366 135.3 376.3 135 385 135 391.5 135.3 395.6 135.8 396.9 136.5 395.4 137.4 391.1 138.6 384.4 140 375.5 141.6 365.1 143.5 353.7 145.6 342 147.8 330.7 150.3 320.4 153 311.7 155.9 305.2 159 301.1 162.2 299.8 165.7 301.3 169.3 305.6 173 312.3 176.9 321.2 181 331.6 185.2 343 189.5 354.7 193.9 366 198.4 376.3 203 385 207.6 391.5 212.4 395.6 217.2 396.9 222 395.4 226.9 391.1 231.8 384.4 236.7 375.5" fill="none" stroke="#eda548" stroke-width="0.45" stroke-opacity="0.56"/>
<path d="M236.4 370.7 241.2 359.9 246 348.4 250.8 337 255.6 326.3 260.3 316.9 265 309.4 269.6 304.2 274.1 301.6 278.6 301.7 282.9 304.6 287.1 310.1 291.2 317.9 295.2 327.4 299.1 338.3 302.8 349.7 306.3 361.1 309.7 371.8 312.9 381.2 315.9 388.7 318.8 394 321.4 396.6 323.9 396.4 326.1 393.5 328.2 388 330 380.3 331.6 370.7 333 359.9 334.1 348.4 335.1 337 335.8 326.3 336.2 316.9 336.5 309.4 336.5 304.2 336.2 301.6 335.8 301.7 335.1 304.6 334.1 310.1 333 317.9 331.6 327.4 330 338.3 328.2 349.7 326.1 361.1 323.9 371.8 321.4 381.2 318.8 388.7 315.9 394 312.9 396.6 309.7 396.4 306.3 393.5 302.8 388 299.1 380.3 295.2 370.7 291.2 359.9 287.1 348.4 282.9 337 278.6 326.3 274.1 316.9 269.6 309.4 265 304.2 260.3 301.6 255.6 301.7 250.8 304.6 246 310.1 241.2 317.9 236.4 327.4 231.5 338.3 226.7 349.7 221.9 361.1 217.1 371.8 212.4 381.2 207.8 388.7 203.1 394 198.6 396.6 194.2 396.4 189.9 393.5 185.6 388 181.5 380.3 177.5 370.7 173.7 359.9 170 348.4 166.4 337 163.1 326.3 159.9 316.9 156.8 309.4 154 304.2 151.3 301.6 148.9 301.7 146.6 304.6 144.6 310.1 142.8 317.9 141.2 327.4 139.8 338.3 138.6 349.7 137.7 361.1 137 371.8 136.5 381.2 136.3 388.7 136.3 394 136.5 396.6 137 396.4 137.7 393.5 138.6 388 139.8 380.3 141.2 370.7 142.8 359.9 144.6 348.4 146.6 337 148.9 326.3 151.3 316.9 154 309.4 156.8 304.2 159.9 301.6 163.1 301.7 166.4 304.6 170 310.1 173.7 317.9 177.5 327.4 181.5 338.3 185.6 349.7 189.9 361.1 194.2 371.8 198.6 381.2 203.1 388.7 207.8 394 212.4 396.6 217.1 396.4 221.9 393.5 226.7 388 231.5 380.3 236.4 370.7" fill="none" stroke="#eda548" stroke-width="0.45" stroke-opacity="0.56"/>
<path d="M236.9 366.2 241.8 355 246.7 343.4 251.6 332.1 256.5 321.8 261.3 312.9 266.1 306.2 270.8 301.9 275.4 300.3 280 301.5 284.4 305.5 288.7 311.9 292.9 320.4 297 330.6 300.9 341.8 304.7 353.4 308.3 364.7 311.8 375.1 315.1 383.9 318.2 390.6 321.1 394.9 323.8 396.5 326.3 395.3 328.6 391.4 330.7 385 332.5 376.4 334.2 366.2 335.6 355 336.8 343.4 337.7 332.1 338.4 321.8 338.9 312.9 339.2 306.2 339.2 301.9 338.9 300.3 338.4 301.5 337.7 305.5 336.8 311.9 335.6 320.4 334.2 330.6 332.5 341.8 330.7 353.4 328.6 364.7 326.3 375.1 323.8 383.9 321.1 390.6 318.2 394.9 315.1 396.5 311.8 395.3 308.3 391.4 304.7 385 300.9 376.4 297 366.2 292.9 355 288.7 343.4 284.4 332.1 280 321.8 275.4 312.9 270.8 306.2 266.1 301.9 261.3 300.3 256.5 301.5 251.6 305.5 246.7 311.9 241.8 320.4 236.9 330.6 231.9 341.8 227 353.4 222.1 364.7 217.2 375.1 212.4 383.9 207.6 390.6 202.9 394.9 198.3 396.5 193.7 395.3 189.3 391.4 185 385 180.8 376.4 176.7 366.2 172.8 355 169 343.4 165.4 332.1 161.9 321.8 158.6 312.9 155.5 306.2 152.6 301.9 149.9 300.3 147.4 301.5 145.1 305.5 143 311.9 141.2 320.4 139.5 330.6 138.1 341.8 136.9 353.4 136 364.7 135.3 375.1 134.8 383.9 134.6 390.6 134.6 394.9 134.8 396.5 135.3 395.3 136 391.4 136.9 385 138.1 376.4 139.5 366.2 141.2 355 143 343.4 145.1 332.1 147.4 321.8 149.9 312.9 152.6 306.2 155.5 301.9 158.6 300.3 161.9 301.5 165.4 305.5 169 311.9 172.8 320.4 176.7 330.6 180.8 341.8 185 353.4 189.3 364.7 193.7 375.1 198.3 383.9 202.9 390.6 207.6 394.9 212.4 396.5 217.2 395.3 222.1 391.4 227 385 231.9 376.4 236.9 366.2" fill="none" stroke="#eda548" stroke-width="0.45" stroke-opacity="0.56"/>
<path d="M235.9 363.8 240.9 352.4 245.8 340.8 250.6 329.6 255.5 319.6 260.3 311.1 265 304.9 269.7 301.2 274.3 300.2 278.8 302 283.2 306.5 287.5 313.5 291.7 322.5 295.7 332.9 299.7 344.3 303.4 355.9 307 367.1 310.4 377.2 313.7 385.6 316.8 391.9 319.7 395.6 322.4 396.6 324.9 394.7 327.1 390.2 329.2 383.3 331.1 374.3 332.7 363.8 334.1 352.4 335.3 340.8 336.2 329.6 336.9 319.6 337.4 311.1 337.7 304.9 337.7 301.2 337.4 300.2 336.9 302 336.2 306.5 335.3 313.5 334.1 322.5 332.7 332.9 331.1 344.3 329.2 355.9 327.1 367.1 324.9 377.2 322.4 385.6 319.7 391.9 316.8 395.6 313.7 396.6 310.4 394.7 307 390.2 303.4 383.3 299.7 374.3 295.7 363.8 291.7 352.4 287.5 340.8 283.2 329.6 278.8 319.6 274.3 311.1 269.7 304.9 265 301.2 260.3 300.2 255.5 302 250.6 306.5 245.8 313.5 240.9 322.5 235.9 332.9 231 344.3 226.1 355.9 221.2 367.1 216.4 377.2 211.6 385.6 206.8 391.9 202.2 395.6 197.6 396.6 193.1 394.7 188.7 390.2 184.4 383.3 180.2 374.3 176.1 363.8 172.2 352.4 168.5 340.8 164.9 329.6 161.4 319.6 158.2 311.1 155.1 304.9 152.2 301.2 149.5 300.2 147 302 144.7 306.5 142.7 313.5 140.8 322.5 139.2 332.9 137.8 344.3 136.6 355.9 135.7 367.1 134.9 377.2 134.5 385.6 134.2 391.9 134.2 395.6 134.5 396.6 134.9 394.7 135.7 390.2 136.6 383.3 137.8 374.3 139.2 363.8 140.8 352.4 142.7 340.8 144.7 329.6 147 319.6 149.5 311.1 152.2 304.9 155.1 301.2 158.2 300.2 161.4 302 164.9 306.5 168.5 313.5 172.2 322.5 176.1 332.9 180.2 344.3 184.4 355.9 188.7 367.1 193.1 377.2 197.6 385.6 202.2 391.9 206.8 395.6 211.6 396.6 216.4 394.7 221.2 390.2 226.1 383.3 231 374.3 235.9 363.8" fill="none" stroke="#eda548" stroke-width="0.45" stroke-opacity="0.56"/>
<path d="M236.5 353.7 241.4 341.9 246.3 330.5 251.1 320.1 256 311.4 260.8 304.8 265.5 300.7 270.1 299.4 274.7 301 279.2 305.3 283.6 312.1 287.9 321 292 331.5 296.1 343 300 354.8 303.7 366.2 307.3 376.6 310.7 385.3 314 391.9 317 396 319.9 397.3 322.6 395.7 325.1 391.4 327.4 384.6 329.4 375.7 331.3 365.2 332.9 353.7 334.3 341.9 335.5 330.5 336.4 320.1 337.1 311.4 337.6 304.8 337.8 300.7 337.8 299.4 337.6 301 337.1 305.3 336.4 312.1 335.5 321 334.3 331.5 332.9 343 331.3 354.8 329.4 366.2 327.4 376.6 325.1 385.3 322.6 391.9 319.9 396 317 397.3 314 395.7 310.7 391.4 307.3 384.6 303.7 375.7 300 365.2 296.1 353.7 292 341.9 287.9 330.5 283.6 320.1 279.2 311.4 274.7 304.8 270.1 300.7 265.5 299.4 260.8 301 256 305.3 251.1 312.1 246.3 321 241.4 331.5 236.5 343 231.6 354.8 226.7 366.2 221.8 376.6 217 385.3 212.2 391.9 207.5 396 202.8 397.3 198.3 395.7 193.8 391.4 189.4 384.6 185.1 375.7 180.9 365.2 176.9 353.7 173 341.9 169.3 330.5 165.7 320.1 162.3 311.4 159 304.8 155.9 300.7 153.1 299.4 150.4 301 147.9 305.3 145.6 312.1 143.6 321 141.7 331.5 140.1 343 138.7 354.8 137.5 366.2 136.6 376.6 135.9 385.3 135.4 391.9 135.2 396 135.2 397.3 135.4 395.7 135.9 391.4 136.6 384.6 137.5 375.7 138.7 365.2 140.1 353.7 141.7 341.9 143.6 330.5 145.6 320.1 147.9 311.4 150.4 304.8 153.1 300.7 155.9 299.4 159 301 162.3 305.3 165.7 312.1 169.3 321 173 331.5 176.9 343 180.9 354.8 185.1 366.2 189.4 376.6 193.8 385.3 198.3 391.9 202.8 396 207.5 397.3 212.2 395.7 217 391.4 221.8 384.6 226.7 375.7 231.6 365.2 236.5 353.7" fill="none" stroke="#eda548" stroke-width="0.45" stroke-opacity="0.56"/>
<path d="M236 348.2 240.8 336.5 245.7 325.5 250.5 315.8 255.2 308 260 302.4 264.6 299.5 269.3 299.4 273.8 302.1 278.2 307.5 282.6 315.2 286.8 324.8 290.9 335.8 294.9 347.4 298.8 359.1 302.5 370.1 306 379.8 309.4 387.7 312.6 393.2 315.6 396.1 318.5 396.2 321.2 393.5 323.6 388.1 325.9 380.4 327.9 370.8 329.7 359.8 331.3 348.2 332.7 336.5 333.9 325.5 334.8 315.8 335.5 308 336 302.4 336.2 299.5 336.2 299.4 336 302.1 335.5 307.5 334.8 315.2 333.9 324.8 332.7 335.8 331.3 347.4 329.7 359.1 327.9 370.1 325.9 379.8 323.6 387.7 321.2 393.2 318.5 396.1 315.6 396.2 312.6 393.5 309.4 388.1 306 380.4 302.5 370.8 298.8 359.8 294.9 348.2 290.9 336.5 286.8 325.5 282.6 315.8 278.2 308 273.8 302.4 269.3 299.5 264.6 299.4 260 302.1 255.2 307.5 250.5 315.2 245.7 324.8 240.8 335.8 236 347.4 231.1 359.1 226.3 370.1 221.5 379.8 216.7 387.7 212 393.2 207.3 396.1 202.7 396.2 198.2 393.5 193.7 388.1 189.4 380.4 185.1 370.8 181 359.8 177 348.2 173.2 336.5 169.5 325.5 165.9 315.8 162.5 308 159.3 302.4 156.3 299.5 153.5 299.4 150.8 302.1 148.3 307.5 146.1 315.2 144 324.8 142.2 335.8 140.6 347.4 139.2 359.1 138.1 370.1 137.1 379.8 136.4 387.7 136 393.2 135.7 396.1 135.7 396.2 136 393.5 136.4 388.1 137.1 380.4 138.1 370.8 139.2 359.8 140.6 348.2 142.2 336.5 144 325.5 146.1 315.8 148.3 308 150.8 302.4 153.5 299.5 156.3 299.4 159.3 302.1 162.5 307.5 165.9 315.2 169.5 324.8 173.2 335.8 177 347.4 181 359.1 185.1 370.1 189.4 379.8 193.7 387.7 198.2 393.2 202.7 396.1 207.3 396.2 212 393.5 216.7 388.1 221.5 380.4 226.3 370.8 231.1 359.8 236 348.2" fill="none" stroke="#eda548" stroke-width="0.45" stroke-opacity="0.56"/>
<path d="M204.1 392.4 201 388.9 197.9 384.5 194.8 379.1 191.8 373 188.8 366.2 185.9 359.1 183 351.6 180.2 344.1 177.4 336.7 174.7 329.5 172 322.8 169.5 316.8 166.9 311.5 164.5 307.1 162.1 303.7 159.8 301.4 157.6 300.3 155.4 300.4 153.3 301.6 151.3 304 149.4 307.5 147.6 311.9 145.9 317.3 144.2 323.4 142.7 330.2 141.2 337.3 139.9 344.8 138.6 352.3 137.4 359.7 136.4 366.9 135.4 373.6 134.5 379.6 133.7 384.9 133.1 389.3 132.5 392.7 132 395 131.7 396.1 131.4 396 131.3 394.8 131.2 392.4 131.3 388.9 131.4 384.5 131.7 379.1 132 373 132.5 366.2 133.1 359.1 133.7 351.6 134.5 344.1 135.4 336.7 136.4 329.5 137.4 322.8 138.6 316.8 139.9 311.5 141.2 307.1 142.7 303.7 144.2 301.4 145.9 300.3 147.6 300.4 149.4 301.6 151.3 304" fill="none" stroke="#eda548" stroke-width="0.5" stroke-opacity="0.6"/>
<path d="M297.8 387 300.4 382.1 303 376.4 305.5 370 307.9 363 310.2 355.7 312.5 348.2 314.7 340.6 316.8 333.3 318.9 326.4 320.8 320 322.7 314.2 324.5 309.3 326.2 305.4 327.8 302.5 329.4 300.8 330.8 300.2 332.1 300.8 333.4 302.6 334.6 305.5 335.6 309.4 336.6 314.3 337.4 320 338.2 326.4 338.9 333.4 339.4 340.7 339.9 348.2 340.2 355.8 340.5 363.1 340.6 370 340.7 376.4 340.6 382.2 340.5 387.1 340.2 391 339.9 393.9 339.4 395.6 338.9 396.2 338.2 395.6 337.4 393.8 336.6 390.9 335.6 387 334.6 382.1 333.4 376.4 332.1 370 330.8 363 329.4 355.7 327.8 348.2 326.2 340.6 324.5 333.3 322.7 326.4 320.8 320 318.9 314.2 316.8 309.3 314.7 305.4 312.5 302.5 310.2 300.8 307.9 300.2 305.5 300.8 303 302.6 300.4 305.5 297.8 309.4" fill="none" stroke="#eda548" stroke-width="0.5" stroke-opacity="0.6"/>
<path d="M269.5 379.6 272.2 374.6 274.8 369.1 277.3 363.3 279.9 357.2 282.4 351 284.9 344.7 287.4 338.5 289.8 332.4 292.2 326.6 294.5 321.2 296.9 316.3 299.1 311.9 301.4 308.1 303.5 305 305.7 302.6 307.8 301.1 309.8 300.3 311.8 300.3 313.7 301.2 315.6 302.9 317.5 305.3 319.2 308.5 321 312.4 322.6 316.8 324.2 321.8 325.8 327.3 327.3 333.1 328.7 339.2 330 345.4 331.3 351.7 332.6 357.9 333.7 364 334.8 369.8 335.8 375.2 336.8 380.1 337.7 384.5 338.5 388.3 339.3 391.4 340 393.8 340.6 395.3 341.1 396.1 341.6 396.1 342 395.2 342.3 393.5 342.6 391.1 342.8 387.9 342.9 384 342.9 379.6 342.9 374.6 342.8 369.1 342.6 363.3 342.3 357.2 342 351 341.6 344.7 341.1 338.5 340.6 332.4 340 326.6 339.3 321.2 338.5 316.3 337.7 311.9" fill="none" stroke="#eda548" stroke-width="0.5" stroke-opacity="0.6"/>
<path d="M175.9 392.6 173.3 389.3 170.7 384.9 168.3 379.6 165.8 373.5 163.5 366.8 161.3 359.6 159.1 352.2 157 344.7 154.9 337.2 153 330.1 151.1 323.3 149.3 317.2 147.6 311.9 146 307.4 144.5 303.9 143.1 301.6 141.7 300.4 140.5 300.3 139.3 301.5 138.3 303.8 137.3 307.1 136.5 311.5 135.7 316.8 135 322.9 134.5 329.6 134 336.8 133.7 344.2 133.4 351.7 133.3 359.2 133.2 366.3 133.3 373.1 133.4 379.2 133.7 384.5 134 389 134.5 392.5 135 394.8 135.7 396 136.5 396.1 137.3 394.9 138.3 392.6 139.3 389.3 140.5 384.9 141.7 379.6 143.1 373.5 144.5 366.8 146 359.6 147.6 352.2 149.3 344.7 151.1 337.2 153 330.1 154.9 323.3 157 317.2 159.1 311.9 161.3 307.4 163.5 303.9 165.8 301.6 168.3 300.4 170.7 300.3 173.3 301.5 175.9 303.8" fill="none" stroke="#eda548" stroke-width="0.5" stroke-opacity="0.6"/>
<line x1="142.60" y1="402.00" x2="142.60" y2="399.80" stroke="#262626" stroke-width="1"/>
<line x1="142.60" y1="294.90" x2="142.60" y2="297.10" stroke="#262626" stroke-width="1"/>
<text x="142.60" y="411.10" font-size="9.5" text-anchor="middle" fill="#151515" >-0.02</text>
<line x1="190.05" y1="402.00" x2="190.05" y2="399.80" stroke="#262626" stroke-width="1"/>
<line x1="190.05" y1="294.90" x2="190.05" y2="297.10" stroke="#262626" stroke-width="1"/>
<text x="190.05" y="411.10" font-size="9.5" text-anchor="middle" fill="#151515" >-0.01</text>
<line x1="237.50" y1="402.00" x2="237.50" y2="399.80" stroke="#262626" stroke-width="1"/>
<line x1="237.50" y1="294.90" x2="237.50" y2="297.10" stroke="#262626" stroke-width="1"/>
<text x="237.50" y="411.10" font-size="9.5" text-anchor="middle" fill="#151515" >0</text>
<line x1="284.95" y1="402.00" x2="284.95" y2="399.80" stroke="#262626" stroke-width="1"/>
<line x1="284.95" y1="294.90" x2="284.95" y2="297.10" stroke="#262626" stroke-width="1"/>
<text x="284.95" y="411.10" font-size="9.5" text-anchor="middle" fill="#151515" >0.01</text>
<line x1="332.40" y1="402.00" x2="332.40" y2="399.80" stroke="#262626" stroke-width="1"/>
<line x1="332.40" y1="294.90" x2="332.40" y2="297.10" stroke="#262626" stroke-width="1"/>
<text x="332.40" y="411.10" font-size="9.5" text-anchor="middle" fill="#151515" >0.02</text>
<line x1="95.60" y1="378.10" x2="97.80" y2="378.10" stroke="#262626" stroke-width="1"/>
<line x1="379.50" y1="378.10" x2="377.30" y2="378.10" stroke="#262626" stroke-width="1"/>
<text x="93.00" y="381.50" font-size="9.5" text-anchor="end" fill="#151515" >-0.1</text>
<line x1="95.60" y1="348.30" x2="97.80" y2="348.30" stroke="#262626" stroke-width="1"/>
<line x1="379.50" y1="348.30" x2="377.30" y2="348.30" stroke="#262626" stroke-width="1"/>
<text x="93.00" y="351.70" font-size="9.5" text-anchor="end" fill="#151515" >0</text>
<line x1="95.60" y1="318.50" x2="97.80" y2="318.50" stroke="#262626" stroke-width="1"/>
<line x1="379.50" y1="318.50" x2="377.30" y2="318.50" stroke="#262626" stroke-width="1"/>
<text x="93.00" y="321.90" font-size="9.5" text-anchor="end" fill="#151515" >0.1</text>
<text x="258.00" y="418.90" font-size="9.5" text-anchor="middle" fill="#151515" >X @ ν=1.4 Hz (a.u.)</text>
<text x="77.00" y="346.00" font-size="9.5" text-anchor="middle" fill="#151515" transform="rotate(-90 77 346)">X @ ν=7 Hz (a.u.)</text></svg></body></html>
